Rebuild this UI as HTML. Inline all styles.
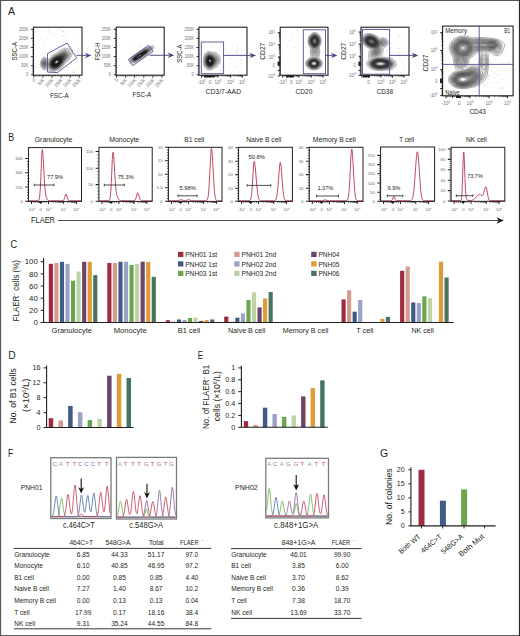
<!DOCTYPE html>
<html><head><meta charset="utf-8"><style>html,body{margin:0;padding:0;background:#fff;overflow:hidden}svg{display:block}</style></head>
<body><svg width="520" height="636" viewBox="0 0 520 636" font-family='"Liberation Sans", sans-serif'>
<defs>
<filter id="b1" x="-50%" y="-50%" width="200%" height="200%"><feGaussianBlur stdDeviation="1.2"/></filter>
<filter id="b2" x="-50%" y="-50%" width="200%" height="200%"><feGaussianBlur stdDeviation="2"/></filter>
<filter id="b05" x="-50%" y="-50%" width="200%" height="200%"><feGaussianBlur stdDeviation="0.6"/></filter>
</defs>
<rect width="520" height="636" fill="#fff"/>
<text x="8.1" y="15.3" font-size="11.5" textLength="7.0" lengthAdjust="spacingAndGlyphs" fill="#231f20" >A</text>
<text x="8.3" y="141.2" font-size="11.5" textLength="5.9" lengthAdjust="spacingAndGlyphs" fill="#231f20" >B</text>
<text x="10.6" y="248" font-size="11.5" textLength="6.7" lengthAdjust="spacingAndGlyphs" fill="#231f20" >C</text>
<text x="8.2" y="359.2" font-size="11.5" textLength="7.4" lengthAdjust="spacingAndGlyphs" fill="#231f20" >D</text>
<text x="197.7" y="359" font-size="11.5" textLength="5.3" lengthAdjust="spacingAndGlyphs" fill="#231f20" >E</text>
<text x="8" y="456.8" font-size="11.5" textLength="5.3" lengthAdjust="spacingAndGlyphs" fill="#231f20" >F</text>
<text x="380.1" y="457.2" font-size="11.5" textLength="8.1" lengthAdjust="spacingAndGlyphs" fill="#231f20" >G</text>
<circle cx="45.7" cy="52.9" r="0.35" fill="#999"/>
<circle cx="51.6" cy="55.6" r="0.35" fill="#999"/>
<circle cx="63.2" cy="31.9" r="0.35" fill="#999"/>
<circle cx="35.6" cy="65.8" r="0.35" fill="#999"/>
<circle cx="46.7" cy="39.3" r="0.35" fill="#999"/>
<circle cx="79.8" cy="49.7" r="0.35" fill="#999"/>
<circle cx="72.6" cy="50.0" r="0.35" fill="#999"/>
<circle cx="63.8" cy="35.6" r="0.35" fill="#999"/>
<circle cx="63.6" cy="67.2" r="0.35" fill="#999"/>
<circle cx="58.5" cy="61.6" r="0.35" fill="#999"/>
<circle cx="65.2" cy="31.8" r="0.35" fill="#999"/>
<circle cx="69.1" cy="55.0" r="0.35" fill="#999"/>
<circle cx="48.6" cy="30.4" r="0.35" fill="#999"/>
<circle cx="73.9" cy="49.8" r="0.35" fill="#999"/>
<circle cx="67.3" cy="67.7" r="0.35" fill="#999"/>
<circle cx="67.1" cy="69.5" r="0.35" fill="#999"/>
<circle cx="52.8" cy="64.2" r="0.35" fill="#999"/>
<circle cx="55.0" cy="70.2" r="0.35" fill="#999"/>
<circle cx="74.5" cy="33.3" r="0.35" fill="#999"/>
<circle cx="41.1" cy="38.5" r="0.35" fill="#999"/>
<circle cx="78.4" cy="48.2" r="0.35" fill="#999"/>
<circle cx="63.2" cy="42.2" r="0.35" fill="#999"/>
<circle cx="57.8" cy="46.0" r="0.35" fill="#999"/>
<circle cx="50.8" cy="54.7" r="0.35" fill="#999"/>
<circle cx="61.3" cy="68.8" r="0.35" fill="#999"/>
<circle cx="65.7" cy="69.9" r="0.35" fill="#999"/>
<circle cx="73.5" cy="72.6" r="0.35" fill="#999"/>
<circle cx="65.2" cy="36.2" r="0.35" fill="#999"/>
<circle cx="73.7" cy="71.4" r="0.35" fill="#999"/>
<circle cx="75.7" cy="54.0" r="0.35" fill="#999"/>
<circle cx="67.1" cy="38.3" r="0.35" fill="#999"/>
<circle cx="72.4" cy="54.2" r="0.35" fill="#999"/>
<circle cx="47.8" cy="31.8" r="0.35" fill="#999"/>
<circle cx="73.4" cy="72.6" r="0.35" fill="#999"/>
<circle cx="39.0" cy="64.2" r="0.35" fill="#999"/>
<circle cx="53.5" cy="35.6" r="0.35" fill="#999"/>
<circle cx="48.2" cy="62.8" r="0.35" fill="#999"/>
<circle cx="74.3" cy="30.9" r="0.35" fill="#999"/>
<circle cx="62.7" cy="31.0" r="0.35" fill="#999"/>
<circle cx="67.3" cy="43.6" r="0.35" fill="#999"/>
<circle cx="74.6" cy="72.1" r="0.35" fill="#999"/>
<circle cx="57.7" cy="72.9" r="0.35" fill="#999"/>
<circle cx="48.9" cy="32.4" r="0.35" fill="#999"/>
<circle cx="62.0" cy="30.4" r="0.35" fill="#999"/>
<circle cx="43.9" cy="46.9" r="0.35" fill="#999"/>
<circle cx="62.5" cy="35.9" r="0.35" fill="#999"/>
<circle cx="36.9" cy="67.2" r="0.35" fill="#999"/>
<circle cx="49.1" cy="71.2" r="0.35" fill="#999"/>
<circle cx="75.3" cy="45.6" r="0.35" fill="#999"/>
<circle cx="55.7" cy="51.9" r="0.35" fill="#999"/>
<circle cx="64.0" cy="55.2" r="0.35" fill="#999"/>
<circle cx="60.2" cy="56.3" r="0.35" fill="#999"/>
<circle cx="77.3" cy="51.3" r="0.35" fill="#999"/>
<circle cx="54.4" cy="60.7" r="0.35" fill="#999"/>
<circle cx="45.7" cy="42.2" r="0.35" fill="#999"/>
<circle cx="79.0" cy="51.9" r="0.35" fill="#999"/>
<circle cx="59.7" cy="29.5" r="0.35" fill="#999"/>
<circle cx="53.7" cy="54.5" r="0.35" fill="#999"/>
<circle cx="35.9" cy="56.1" r="0.35" fill="#999"/>
<circle cx="63.4" cy="31.6" r="0.35" fill="#999"/>
<path d="M53.8 71.5l-1 0.1-0.8-0.1-1-0.2-0.8-0.2-1-0.4-0.7-0.5-0.7-0.7-0.6-0.2-0.4-0.1-1.3 0.5-0.5 0.1-0.5 0-0.5-0.1-0.5-0.1-0.5-0.3-0.8-0.7-0.6-0.8-0.2-0.6-0.3-0.7-0.3-0.7-0.1-0.8-0.1-1.2 0-1.6 0.3-1.2 0.5-1.2 0.5-1 0.6-0.7 0.7-0.5 0.8-0.3 0.8-0.1 0.4 0.1 0.8 0.4 0.5 0.4 1.3 1.3 0.2 0.1 0.2-0.1 0.3-0.1 0.3-0.2 0.9-1.1 0.8-0.8 1.5-1.3 1.2-0.9 2.8-1.8 3.5-2.6 1.3-0.7 1-0.5 1.2-0.5 1-0.3 1.2-0.3 1 0 1.3 0 1 0.3 0.7 0.3 0.8 0.4 0.5 0.4 0.3 0.3 0.4 0.5 0.3 0.5 0.2 0.5 0.2 0.7 0.1 0.8 0 0.5-0.1 1.3-0.2 0.7-0.2 0.7-0.6 1.3-0.4 0.7-0.5 0.8-0.9 1-0.7 0.8-3.2 2.9-3 3.4-0.7 0.7-1 0.9-1 0.7-0.7 0.5-1.6 0.7-0.7 0.3-1 0.3-0.7 0.2-1 0.1z" fill="rgb(248,248,248)" stroke="#222" stroke-width="0.3"/>
<path d="M54.5 70.5l-1 0.1-1 0-1-0.1-1-0.4-0.5-0.2-0.8-0.5-0.4-0.5-0.8-0.8-0.2-0.2-0.3-0.1-0.3 0-0.2 0.1-1.2 0.7-0.6 0.2-0.4 0.1-0.6-0.1-0.4-0.1-0.6-0.2-0.4-0.5-0.7-0.8-0.5-1-0.3-1-0.1-1.2 0-1.2 0.2-1.3 0.2-0.7 0.2-0.6 0.5-0.7 0.5-0.5 0.2-0.3 0.5-0.3 0.7-0.2 0.6 0 0.2 0 0.5 0.2 0.5 0.3 0.5 0.5 1 1.3 0.3 0.3 0.2 0.1 0.2 0 0.3-0.2 0.3-0.3 0.8-1.2 0.9-1 0.8-0.7 0.9-0.8 1.6-1.1 3.1-1.8 3.3-2.4 1.3-0.8 1-0.4 1-0.3 1.3-0.3 1-0.1 1 0.1 0.7 0.1 0.7 0.3 0.8 0.4 0.4 0.4 0.4 0.3 0.2 0.4 0.3 0.5 0.2 0.5 0.1 0.5 0.1 1-0.1 0.8-0.1 0.4-0.4 1.3-0.5 1-0.8 1.3-1.1 1.2-2.2 2.2-0.7 0.7-2.8 3.3-0.8 0.8-1 0.9-1.2 0.9-1.5 0.8-1.5 0.6-0.8 0.2-0.7 0.1z" fill="rgb(238,238,238)" stroke="#222" stroke-width="0.3"/>
<path d="M53.5 70.0l-1 0-0.7-0.2-0.8-0.2-0.8-0.4-0.5-0.4-0.5-0.6-0.4-0.4-0.8-1.3-0.2-0.2-0.3 0.1-0.3 0.1-1.2 1.1-0.5 0.3-0.5 0.2-0.5 0-0.5 0-0.5-0.3-0.5-0.3-0.5-0.7-0.4-0.8-0.3-1-0.2-1.2 0.1-1.3 0.2-1 0.4-1 0.5-0.7 0.4-0.5 0.3-0.1 0.5-0.3 0.2 0 0.6 0 0.4 0.1 0.6 0.3 0.4 0.5 0.6 0.7 0.7 1.4 0.3 0.3 0.2 0.2 0.2-0.1 0.3-0.3 1.1-1.8 0.7-1 0.9-0.9 1-0.9 1-0.8 0.8-0.5 3.3-1.9 2.7-1.8 1.2-0.8 1-0.4 1-0.4 1-0.3 1-0.1 1 0.1 0.8 0.1 0.8 0.3 0.5 0.3 0.3 0.3 0.4 0.5 0.4 0.8 0.2 0.7 0.1 1-0.2 1-0.3 1-0.5 1-0.9 1.3-0.8 1-1.8 1.7-0.7 0.8-2.8 3.5-0.9 0.9-1 0.9-0.8 0.6-0.8 0.4-1.4 0.7-0.8 0.3-1 0.2-0.8 0.2-0.7 0z" fill="rgb(222,222,222)" stroke="#222" stroke-width="0.3"/>
<path d="M54.0 69.5l-1 0-0.8-0.1-0.7-0.2-0.7-0.4-0.8-0.5-0.5-0.5-0.5-0.8-0.3-0.8-0.3-1 0-0.4 0-0.6 0.2-0.7 0.3-1 0.5-1 0.6-1 0.5-0.7 0.6-0.8 0.8-0.8 0.6-0.5 1-0.7 1.3-0.8 3.4-2 2.6-1.6 1.4-0.7 0.8-0.3 0.8-0.2 0.7-0.2 0.7 0 0.8 0.1 0.5 0.1 0.7 0.3 0.5 0.3 0.5 0.5 0.4 0.7 0.2 0.8 0 0.8-0.1 0.7-0.3 1-0.5 1-0.7 1-0.6 0.7-2.4 2.6-2 2.7-0.8 1-0.9 0.9-0.7 0.7-0.8 0.5-0.8 0.5-1.4 0.8-0.8 0.2-0.8 0.2-1.2 0.2z M44.8 67.5l-0.6 0-0.4-0.2-0.6-0.3-0.4-0.5-0.3-0.6-0.3-0.7-0.1-0.7-0.1-0.7 0-0.8 0.1-0.8 0.2-0.7 0.4-0.7 0.3-0.6 0.5-0.4 0.5-0.2 0.5-0.1 0.5 0.1 0.5 0.2 0.5 0.4 0.4 0.6 0.4 0.7 0.3 1 0.2 0.7 0.1 0.8 0 0.5-0.3 0.7-0.2 0.6-0.3 0.4-0.5 0.6-0.3 0.3-0.6 0.3-0.4 0.1z" fill="rgb(200,200,200)" stroke="#222" stroke-width="0.3"/>
<path d="M54.5 69.0l-0.7 0.1-0.8-0.1-0.8-0.1-0.7-0.3-0.7-0.4-0.6-0.4-0.4-0.6-0.4-0.7-0.3-0.7-0.1-0.8 0-0.8 0.1-0.7 0.3-1 0.3-0.7 0.4-0.8 0.7-1 0.6-0.8 0.8-0.8 0.8-0.6 1-0.7 1.2-0.8 3.1-1.5 2.7-1.6 1-0.5 0.8-0.3 0.7-0.2 0.7-0.2 0.6 0 0.7 0 0.5 0.1 0.5 0.2 0.5 0.4 0.5 0.5 0.3 0.6 0.1 0.4 0.1 0.8-0.2 0.8-0.2 0.7-0.5 1-0.5 0.7-2.6 3.2-2.5 3.4-0.7 0.8-0.8 0.8-1.2 1-1.3 0.7-0.7 0.3-0.8 0.3-0.8 0.2-0.7 0.1z M45.0 66.8l-0.5 0.1-0.5-0.1-0.4-0.3-0.3-0.3-0.3-0.4-0.3-0.6-0.1-0.4-0.2-0.8 0-0.8 0.1-0.7 0.2-0.7 0.3-0.6 0.3-0.4 0.5-0.4 0.2-0.2 0.5 0 0.5 0 0.2 0.2 0.5 0.4 0.3 0.3 0.2 0.5 0.3 0.6 0.2 0.6 0.1 0.7-0.1 0.5 0 0.5-0.1 0.5-0.3 0.5-0.3 0.5-0.2 0.3-0.3 0.2-0.5 0.3z" fill="rgb(170,170,170)" stroke="#222" stroke-width="0.3"/>
<path d="M54.8 68.5l-0.8 0.1-0.8-0.1-0.7-0.1-0.7-0.3-0.7-0.3-0.5-0.6-0.4-0.4-0.3-0.6-0.2-0.4-0.1-0.8 0-0.8 0-0.7 0.2-0.7 0.3-0.8 0.5-1 0.5-0.8 0.6-0.7 0.8-0.8 0.7-0.6 1-0.7 1.8-1 3-1.4 2.8-1.4 1.2-0.4 0.8-0.2 0.4-0.1 0.6 0.1 0.4 0 0.6 0.2 0.2 0.2 0.2 0.2 0.4 0.4 0.2 0.3 0.1 0.5 0 0.4-0.1 0.6-0.1 0.4-0.2 0.6-0.2 0.4-0.5 0.8-2 2.8-2.2 3.2-0.8 1-0.7 0.8-0.9 0.7-0.7 0.5-1 0.6-1 0.5-1 0.3-0.7 0.1z M45.0 65.8l-0.2 0.1-0.3 0.1-0.3-0.1-0.2-0.1-0.2-0.2-0.3-0.3-0.3-0.4-0.1-0.4-0.1-0.6 0-0.9 0.1-0.5 0.2-0.5 0.2-0.3 0.3-0.3 0.2-0.2 0.2-0.1 0.3 0 0.3 0 0.2 0.1 0.2 0.2 0.3 0.2 0.3 0.4 0.1 0.5 0.2 0.7 0 0.8-0.2 0.8-0.1 0.3-0.3 0.3-0.3 0.3-0.2 0.1z" fill="rgb(130,130,130)" stroke="#222" stroke-width="0.3"/>
<path d="M55.5 68.0l-0.7 0.1-0.8 0.1-0.8-0.1-0.7-0.2-0.7-0.3-0.6-0.3-0.4-0.5-0.4-0.6-0.2-0.4-0.2-0.8 0-0.8 0.1-0.7 0.1-0.7 0.3-0.8 0.4-0.8 0.5-0.7 0.8-1.1 0.6-0.4 0.7-0.7 1.5-1 1.5-0.7 4.5-1.9 1.5-0.5 0.7-0.2 0.8-0.1 0.5 0.1 0.5 0.2 0.3 0.3 0.2 0.2 0.2 0.5 0.1 0.8-0.2 0.8-0.4 0.7-0.4 0.7-3.1 5-0.7 1-0.7 0.8-0.7 0.8-0.8 0.6-0.8 0.6-0.8 0.4-0.7 0.3-1 0.3z M44.5 64.3l-0.3-0.2 0-0.1-0.1-0.5 0.1-0.5 0-0.1 0.3-0.1 0.3 0.1 0.1 0.1 0.1 0.2 0 0.3 0 0.3-0.1 0.2-0.1 0.2-0.3 0.1z" fill="rgb(90,90,90)" stroke="#222" stroke-width="0.3"/>
<path d="M55.0 67.5l-0.8 0.1-0.4 0-0.8-0.2-0.5-0.2-0.5-0.2-0.5-0.5-0.3-0.3-0.3-0.4-0.1-0.6-0.2-0.4 0-0.6 0.1-0.7 0.1-0.7 0.3-0.8 0.2-0.5 0.5-0.7 0.8-1 1.2-1.1 1.2-0.8 1.8-0.9 2-0.7 1-0.3 1-0.2 0.7-0.1 0.5 0 0.5 0.1 0.4 0.2 0.3 0.2 0.2 0.3 0.2 0.5 0 0.5-0.1 0.7-0.3 1-0.6 1.3-0.8 1.5-0.7 1.2-0.8 1-0.5 0.7-0.8 0.7-0.8 0.6-0.7 0.5-0.7 0.3-1 0.4-0.8 0.1z" fill="rgb(60,60,60)" stroke="#222" stroke-width="0.3"/>
<path d="M55.8 66.8l-0.8 0.1-0.5 0.1-0.5-0.1-0.5 0-0.5-0.2-0.5-0.3-0.5-0.4-0.2-0.3-0.3-0.5-0.1-0.4-0.1-0.6 0-0.4 0-0.6 0.2-0.7 0.3-0.7 0.3-0.6 0.8-1 0.5-0.4 0.5-0.6 0.6-0.4 0.7-0.4 1.3-0.7 1.5-0.5 0.8-0.2 0.7-0.1 0.7-0.1 0.6 0.1 0.3 0.1 0.4 0.2 0.3 0.3 0.3 0.5 0.1 0.5 0 0.5-0.1 0.8-0.2 0.7-0.5 1-0.5 1-0.5 0.7-0.5 0.8-0.7 0.7-0.6 0.5-0.6 0.5-0.8 0.5-0.7 0.4-0.7 0.2z" fill="rgb(40,40,40)" stroke="#222" stroke-width="0.3"/>
<path d="M55.2 66.3l-0.4 0-0.6 0-0.7-0.2-0.5-0.3-0.2-0.2-0.3-0.2-0.2-0.4-0.3-0.8 0-0.4 0-0.6 0.1-0.4 0.2-0.6 0.5-0.9 0.6-0.8 0.8-0.8 1-0.7 1.3-0.7 1.3-0.4 1-0.2 0.4 0 0.6 0.1 0.4 0.1 0.3 0.1 0.3 0.2 0.3 0.6 0.1 0.4 0 0.6-0.1 0.7-0.2 0.7-0.4 0.8-0.4 0.8-0.5 0.7-0.5 0.5-0.4 0.5-0.7 0.6-0.6 0.4-0.6 0.3-0.8 0.3-0.8 0.2z" fill="rgb(30,30,30)" stroke="#222" stroke-width="0.3"/>
<path d="M55.8 65.5l-0.8 0.1-0.8 0-0.2-0.1-0.5-0.3-0.3-0.2-0.2-0.2-0.1-0.3-0.2-0.5 0-0.8 0.1-0.7 0.4-0.7 0.5-0.8 0.7-0.8 0.8-0.6 1-0.5 1-0.4 1-0.2 0.8 0 0.5 0.1 0.3 0.1 0.3 0.3 0.1 0.3 0.2 0.5 0 0.4-0.1 0.6-0.1 0.4-0.2 0.6-0.4 0.7-0.4 0.5-0.4 0.6-1 0.9-0.6 0.4-0.4 0.3-1 0.3z" fill="rgb(25,25,25)" stroke="#222" stroke-width="0.3"/>
<path d="M56.0 64.8l-0.8 0.1-0.4 0-0.6-0.2-0.2-0.2-0.2-0.3-0.3-0.4 0-0.3 0-0.5 0.1-0.5 0.3-0.7 0.6-0.8 0.5-0.5 0.7-0.5 0.5-0.3 0.8-0.3 0.8-0.2 0.7 0 0.5 0.2 0.2 0.2 0.2 0.2 0.1 0.2 0.1 0.5-0.1 0.7-0.2 0.6-0.2 0.4-0.6 0.9-0.7 0.7-0.6 0.4-0.4 0.3-0.8 0.3z" fill="rgb(25,25,25)" stroke="#222" stroke-width="0.3"/>
<path d="M56.2 64.1l-0.4 0.1-0.6 0-0.4-0.2-0.3-0.2-0.2-0.3-0.1-0.5 0.1-0.5 0.2-0.5 0.3-0.5 0.4-0.5 0.6-0.4 0.5-0.4 0.5-0.2 0.7-0.2 0.5 0 0.5 0.2 0.3 0.2 0.1 0.3 0 0.3 0 0.2-0.1 0.5-0.3 0.7-0.5 0.7-0.5 0.4-0.6 0.5-0.7 0.3z" fill="rgb(30,30,30)" stroke="#222" stroke-width="0.3"/>
<path d="M56.5 63.3l-0.5 0.1-0.2 0-0.3-0.1-0.3-0.2-0.1-0.3 0-0.3 0.1-0.5 0.1-0.2 0.2-0.3 0.5-0.5 0.8-0.4 0.2-0.1 0.5-0.1 0.3 0 0.2 0.1 0.2 0.3 0.1 0.2 0 0.5-0.3 0.5-0.2 0.4-0.4 0.4-0.4 0.2-0.5 0.3z" fill="rgb(190,190,190)" stroke="#222" stroke-width="0.3"/>
<path d="M47.5 53.6 L67 43 L76.6 57.8 L57.5 72.6 L47.5 72.1 Z" stroke="#5a4d96" stroke-width="0.9" fill="none" />
<rect x="33.5" y="27.2" width="48.5" height="48.0" fill="none" stroke="#231f20" stroke-width="1.1" />
<text x="28.3" y="76.39999999999999" font-size="4.6" text-anchor="end" textLength="2.2" lengthAdjust="spacingAndGlyphs" fill="#6f6f6f" >0</text>
<text x="28.3" y="67.3" font-size="4.6" text-anchor="end" textLength="7.04" lengthAdjust="spacingAndGlyphs" fill="#6f6f6f" >50K</text>
<text x="28.3" y="58.2" font-size="4.6" text-anchor="end" textLength="9.24" lengthAdjust="spacingAndGlyphs" fill="#6f6f6f" >100K</text>
<text x="28.3" y="49.1" font-size="4.6" text-anchor="end" textLength="9.24" lengthAdjust="spacingAndGlyphs" fill="#6f6f6f" >150K</text>
<text x="28.3" y="40.0" font-size="4.6" text-anchor="end" textLength="9.24" lengthAdjust="spacingAndGlyphs" fill="#6f6f6f" >200K</text>
<text x="28.3" y="30.900000000000002" font-size="4.6" text-anchor="end" textLength="9.24" lengthAdjust="spacingAndGlyphs" fill="#6f6f6f" >250K</text>
<text x="35.8" y="80.4" font-size="5" text-anchor="end" fill="#6a6a6a" transform="rotate(-45 35.8 80.4)" textLength="2.39" lengthAdjust="spacingAndGlyphs">0</text>
<text x="44.9" y="80.4" font-size="5" text-anchor="end" fill="#6a6a6a" transform="rotate(-45 44.9 80.4)" textLength="7.65" lengthAdjust="spacingAndGlyphs">50K</text>
<text x="54.0" y="80.4" font-size="5" text-anchor="end" fill="#6a6a6a" transform="rotate(-45 54.0 80.4)" textLength="10.04" lengthAdjust="spacingAndGlyphs">100K</text>
<text x="63.1" y="80.4" font-size="5" text-anchor="end" fill="#6a6a6a" transform="rotate(-45 63.1 80.4)" textLength="10.04" lengthAdjust="spacingAndGlyphs">150K</text>
<text x="72.2" y="80.4" font-size="5" text-anchor="end" fill="#6a6a6a" transform="rotate(-45 72.2 80.4)" textLength="10.04" lengthAdjust="spacingAndGlyphs">200K</text>
<text x="81.3" y="80.4" font-size="5" text-anchor="end" fill="#6a6a6a" transform="rotate(-45 81.3 80.4)" textLength="10.04" lengthAdjust="spacingAndGlyphs">250K</text>
<text x="17.3" y="51.2" font-size="7.8" text-anchor="middle" fill="#231f20" transform="rotate(-90 17.3 51.2)" textLength="18.5" lengthAdjust="spacingAndGlyphs">SSC-A</text>
<text x="59.3" y="97.6" font-size="7.8" text-anchor="middle" textLength="18.8" lengthAdjust="spacingAndGlyphs" fill="#231f20" >FSC-A</text>
<path d="M91.4 55.4 L85.0 52.699999999999996 L86.80000000000001 55.4 L85.0 58.1 Z" fill="#4b3c82"/>
<circle cx="148.8" cy="49.3" r="0.35" fill="#999"/>
<circle cx="150.4" cy="47.1" r="0.35" fill="#999"/>
<circle cx="151.2" cy="54.8" r="0.35" fill="#999"/>
<circle cx="130.7" cy="41.2" r="0.35" fill="#999"/>
<circle cx="150.3" cy="59.3" r="0.35" fill="#999"/>
<circle cx="137.5" cy="49.1" r="0.35" fill="#999"/>
<circle cx="147.8" cy="46.4" r="0.35" fill="#999"/>
<circle cx="140.9" cy="46.3" r="0.35" fill="#999"/>
<circle cx="141.1" cy="51.9" r="0.35" fill="#999"/>
<circle cx="139.0" cy="47.5" r="0.35" fill="#999"/>
<circle cx="153.2" cy="40.5" r="0.35" fill="#999"/>
<circle cx="147.1" cy="54.7" r="0.35" fill="#999"/>
<path d="M133.2 63.0l-0.7 0.1-0.7 0-0.6 0-0.7-0.3-0.5-0.3-0.2-0.3-0.3-0.4-0.1-0.6 0-0.4 0.2-0.8 0.4-0.8 0.4-0.7 1.1-1.3 0.5-0.5 1-0.8 1.8-1.3 4.4-3 3.6-2.2 1.2-0.7 0.8-0.4 1-0.4 4.2-1.5 1.2-0.4 0.8-0.1 0.8 0 0.4 0.1 0.3 0.2 0.3 0.2 0.2 0.4 0 0.2 0 0.5-0.3 0.7-0.5 0.8-0.6 0.8-0.6 0.5-3.2 3.2-1 0.8-1 0.8-4 2.8-5 3.3-1.3 0.7-1.3 0.5-1.2 0.4-0.8 0.2z" fill="rgb(248,248,248)" stroke="#222" stroke-width="0.3"/>
<path d="M133.8 62.3l-0.8 0.1-0.8 0-0.4-0.1-0.6-0.1-0.4-0.4-0.3-0.3-0.1-0.3-0.1-0.4 0.1-0.6 0.2-0.7 0.6-1 0.3-0.5 0.7-0.8 1.3-1.1 1-0.7 4.5-3.1 4-2.5 1.8-0.9 1.2-0.5 4.5-1.6 0.7-0.1 0.8 0 0.5 0.1 0.3 0.2 0.1 0.2 0.1 0.3-0.1 0.5-0.3 0.8-0.4 0.4-1 1.1-3 2.9-1 0.9-1 0.7-4 2.8-4.4 3-1 0.6-1 0.5-1.3 0.4-0.7 0.2z" fill="rgb(238,238,238)" stroke="#222" stroke-width="0.3"/>
<path d="M134.2 61.8l-0.4 0.1-0.8 0-0.5 0-0.5-0.1-0.5-0.3-0.3-0.3-0.1-0.2-0.1-0.5 0-0.5 0.1-0.5 0.3-0.5 0.3-0.5 0.8-1 1.3-1.1 1-0.8 4.4-3 3.6-2.2 1.7-1 1.3-0.5 3.7-1.3 0.7-0.2 0.6-0.1 0.4 0 0.6 0.1 0.2 0.2 0.1 0.2 0.1 0.2-0.1 0.2-0.1 0.6-0.6 0.7-0.7 0.7-2.5 2.6-1.2 1-1 0.8-4 2.8-4.2 2.8-0.8 0.4-1 0.5-1 0.4-0.8 0.3z" fill="rgb(222,222,222)" stroke="#222" stroke-width="0.3"/>
<path d="M133.5 61.5l-0.5 0-0.5-0.1-0.4-0.2-0.3-0.2-0.2-0.2-0.1-0.3 0-0.3 0-0.4 0.3-0.8 0.3-0.5 0.4-0.5 0.7-0.8 1-0.9 4.8-3.2 4-2.5 1.2-0.7 1-0.5 0.8-0.3 3.8-1.1 0.4-0.1 0.6 0 0.2 0 0.2 0.2 0.2 0.1 0 0.3-0.1 0.3-0.2 0.4-0.4 0.6-3 3-0.7 0.6-0.8 0.6-4.7 3.4-4.3 2.7-1 0.6-1 0.4-1 0.3-0.7 0.1z" fill="rgb(200,200,200)" stroke="#222" stroke-width="0.3"/>
<path d="M134.5 61.0l-0.5 0.1-0.5 0-0.5 0-0.2-0.1-0.3-0.1-0.3-0.2-0.2-0.5 0-0.2 0-0.2 0.1-0.6 0.2-0.4 0.4-0.6 0.6-0.7 0.9-0.8 1-0.8 3.8-2.5 4-2.5 1.2-0.7 0.8-0.4 1-0.3 3.2-1 0.8-0.1 0.3 0.1 0.2 0.2 0 0.3-0.1 0.2-0.5 0.8-2.3 2.5-0.8 0.7-0.8 0.7-4.2 3-4.3 2.8-0.7 0.4-1 0.5-0.8 0.3-0.5 0.1z" fill="rgb(170,170,170)" stroke="#222" stroke-width="0.3"/>
<path d="M134.0 60.8l-0.8-0.1-0.3-0.2-0.3-0.3-0.1-0.2 0-0.5 0.1-0.5 0.1-0.2 0.6-0.8 0.7-0.8 0.8-0.6 4.7-3.2 3.7-2.4 1-0.5 1-0.5 1.3-0.4 2-0.4 0.5 0 0.2 0.1 0.2 0.2 0 0.3-0.3 0.4-0.4 0.6-1.5 1.7-0.8 0.7-0.9 0.7-3.7 2.7-4.6 3-1 0.5-0.7 0.3-0.7 0.3-0.8 0.1z" fill="rgb(130,130,130)" stroke="#222" stroke-width="0.3"/>
<path d="M135.0 60.3l-0.8 0.1-0.4 0-0.3-0.1-0.3-0.1-0.1-0.2-0.1-0.2-0.1-0.3 0.1-0.5 0.4-0.8 0.7-0.7 0.7-0.6 1-0.7 3.7-2.6 4.5-2.7 1.2-0.6 1-0.3 0.8-0.1 0.5 0 0.3 0 0.3 0.1 0.2 0.2-0.1 0.3-0.3 0.5-0.3 0.5-0.8 1-1.2 1-4.4 3.2-3.7 2.4-1.3 0.7-0.7 0.3-0.5 0.2z" fill="rgb(90,90,90)" stroke="#222" stroke-width="0.3"/>
<path d="M134.5 60.0l-0.5 0-0.3-0.2-0.2-0.3 0-0.3 0-0.2 0.2-0.5 0.3-0.5 0.8-0.7 0.7-0.6 4-2.7 3.7-2.3 1-0.6 1-0.4 1-0.2 0.7 0 0.1 0 0.2 0.3 0.1 0.2-0.2 0.5-0.4 0.5-0.7 0.8-0.9 0.7-3.1 2.3-1.2 0.9-4 2.6-0.8 0.3-0.5 0.2-0.5 0.2-0.5 0z" fill="rgb(60,60,60)" stroke="#222" stroke-width="0.3"/>
<path d="M135.5 59.5l-0.7 0.2-0.6-0.1-0.2-0.3-0.1-0.3 0.2-0.5 0.3-0.5 0.5-0.5 0.6-0.5 4.3-2.9 4.2-2.5 0.8-0.4 0.7-0.2 0.5-0.1 0.2 0.1 0.3 0.2 0 0.3-0.1 0.3-0.3 0.4-0.5 0.6-0.9 0.7-3 2.3-1.2 0.8-3.5 2.2-0.8 0.4-0.7 0.3z" fill="rgb(40,40,40)" stroke="#222" stroke-width="0.3"/>
<path d="M135.5 59.3l-0.5 0-0.4-0.1-0.2-0.2 0-0.2 0-0.3 0.3-0.5 0.5-0.5 0.6-0.5 4-2.8 3.9-2.2 0.5-0.3 0.8-0.2 0.5-0.1 0.3 0.1 0 0.3 0 0.2-0.2 0.2-0.4 0.6-0.6 0.4-2.9 2.3-1.1 0.7-3.6 2.4-0.8 0.4-0.7 0.3z" fill="rgb(30,30,30)" stroke="#222" stroke-width="0.3"/>
<path d="M135.2 59.0l-0.2 0-0.2-0.2 0-0.3 0.1-0.3 0.4-0.4 0.8-0.8 3.3-2.2 1.2-0.8 3.4-1.8 0.5-0.2 0.3-0.1 0.2 0.1 0.1 0 0 0.2-0.1 0.3-0.5 0.5-3.5 2.8-4.2 2.7-0.8 0.4-0.5 0.1-0.3 0z" fill="rgb(25,25,25)" stroke="#222" stroke-width="0.3"/>
<path d="M136.2 58.5l-0.4 0.1-0.3 0-0.3-0.1 0.1-0.3 0.1-0.2 0.2-0.2 0.6-0.6 1.6-1 1.6-1.2 1.1-0.7 2.7-1.3 0.3-0.1 0.3 0.1-0.3 0.2-1 1-1.4 1.3-0.7 0.5-1.9 1.1-1.3 0.9-1 0.5z" fill="rgb(25,25,25)" stroke="#222" stroke-width="0.3"/>
<path d="M136.0 58.3l-0.2-0.1 0-0.2 0.1-0.2 0.3-0.3 1.6-1.1 1.5-1.2 0.7-0.4 1-0.6 0.8-0.2 0.2 0 0.1 0-0.1 0.2-0.4 0.6-0.5 0.4-0.7 0.6-1.9 1.1-1.7 1.1-0.6 0.2-0.2 0.1z" fill="rgb(30,30,30)" stroke="#222" stroke-width="0.3"/>
<path d="M136.5 57.8l-0.1 0 0.1-0.1 0.3 0.1-0.2-0.3 1.6-1.2 1-0.8 0.7-0.5 0.4-0.2 0.7-0.3 0.2-0.1 0.2 0.1-0.1 0.3-0.2 0.2-0.6 0.5-0.3 0.3-0.9 0.4-1.3 0.7-1.2 0.9-0.3 0z" fill="rgb(190,190,190)" stroke="#222" stroke-width="0.3"/>
<path d="M128.4 59.4 L148.5 45.3 L153 51.5 L132.6 65.7 Z" stroke="#5a4d96" stroke-width="0.9" fill="none" />
<rect x="116.2" y="27.2" width="47.999999999999986" height="48.0" fill="none" stroke="#231f20" stroke-width="1.1" />
<text x="111.0" y="76.39999999999999" font-size="4.6" text-anchor="end" textLength="2.2" lengthAdjust="spacingAndGlyphs" fill="#6f6f6f" >0</text>
<text x="111.0" y="67.3" font-size="4.6" text-anchor="end" textLength="7.04" lengthAdjust="spacingAndGlyphs" fill="#6f6f6f" >50K</text>
<text x="111.0" y="58.2" font-size="4.6" text-anchor="end" textLength="9.24" lengthAdjust="spacingAndGlyphs" fill="#6f6f6f" >100K</text>
<text x="111.0" y="49.1" font-size="4.6" text-anchor="end" textLength="9.24" lengthAdjust="spacingAndGlyphs" fill="#6f6f6f" >150K</text>
<text x="111.0" y="40.0" font-size="4.6" text-anchor="end" textLength="9.24" lengthAdjust="spacingAndGlyphs" fill="#6f6f6f" >200K</text>
<text x="111.0" y="30.900000000000002" font-size="4.6" text-anchor="end" textLength="9.24" lengthAdjust="spacingAndGlyphs" fill="#6f6f6f" >250K</text>
<text x="118.5" y="80.4" font-size="5" text-anchor="end" fill="#6a6a6a" transform="rotate(-45 118.5 80.4)" textLength="2.39" lengthAdjust="spacingAndGlyphs">0</text>
<text x="127.6" y="80.4" font-size="5" text-anchor="end" fill="#6a6a6a" transform="rotate(-45 127.6 80.4)" textLength="7.65" lengthAdjust="spacingAndGlyphs">50K</text>
<text x="136.7" y="80.4" font-size="5" text-anchor="end" fill="#6a6a6a" transform="rotate(-45 136.7 80.4)" textLength="10.04" lengthAdjust="spacingAndGlyphs">100K</text>
<text x="145.8" y="80.4" font-size="5" text-anchor="end" fill="#6a6a6a" transform="rotate(-45 145.8 80.4)" textLength="10.04" lengthAdjust="spacingAndGlyphs">150K</text>
<text x="154.9" y="80.4" font-size="5" text-anchor="end" fill="#6a6a6a" transform="rotate(-45 154.9 80.4)" textLength="10.04" lengthAdjust="spacingAndGlyphs">200K</text>
<text x="164.0" y="80.4" font-size="5" text-anchor="end" fill="#6a6a6a" transform="rotate(-45 164.0 80.4)" textLength="10.04" lengthAdjust="spacingAndGlyphs">250K</text>
<text x="99.8" y="51.5" font-size="7.8" text-anchor="middle" fill="#231f20" transform="rotate(-90 99.8 51.5)" textLength="18.2" lengthAdjust="spacingAndGlyphs">FSC-H</text>
<text x="141.9" y="97.2" font-size="7.8" text-anchor="middle" textLength="18.8" lengthAdjust="spacingAndGlyphs" fill="#231f20" >FSC-A</text>
<path d="M174.2 55.3 L167.79999999999998 52.599999999999994 L169.6 55.3 L167.79999999999998 58.0 Z" fill="#4b3c82"/>
<circle cx="216.0" cy="50.2" r="0.35" fill="#999"/>
<circle cx="236.8" cy="50.7" r="0.35" fill="#999"/>
<circle cx="210.9" cy="56.2" r="0.35" fill="#999"/>
<circle cx="232.3" cy="46.9" r="0.35" fill="#999"/>
<circle cx="216.5" cy="53.3" r="0.35" fill="#999"/>
<circle cx="238.0" cy="56.3" r="0.35" fill="#999"/>
<circle cx="238.9" cy="48.7" r="0.35" fill="#999"/>
<circle cx="217.1" cy="62.2" r="0.35" fill="#999"/>
<circle cx="240.2" cy="56.6" r="0.35" fill="#999"/>
<circle cx="212.5" cy="47.4" r="0.35" fill="#999"/>
<circle cx="225.2" cy="49.3" r="0.35" fill="#999"/>
<circle cx="236.9" cy="67.5" r="0.35" fill="#999"/>
<circle cx="210.7" cy="51.8" r="0.35" fill="#999"/>
<circle cx="236.9" cy="62.0" r="0.35" fill="#999"/>
<circle cx="236.9" cy="53.7" r="0.35" fill="#999"/>
<circle cx="208.4" cy="52.2" r="0.35" fill="#999"/>
<circle cx="236.3" cy="51.6" r="0.35" fill="#999"/>
<circle cx="217.5" cy="55.7" r="0.35" fill="#999"/>
<circle cx="220.6" cy="55.5" r="0.35" fill="#999"/>
<circle cx="241.7" cy="48.4" r="0.35" fill="#999"/>
<circle cx="203.2" cy="70.4" r="0.35" fill="#999"/>
<circle cx="240.0" cy="71.6" r="0.35" fill="#999"/>
<circle cx="221.2" cy="70.6" r="0.35" fill="#999"/>
<circle cx="241.9" cy="50.2" r="0.35" fill="#999"/>
<circle cx="234.3" cy="67.4" r="0.35" fill="#999"/>
<circle cx="230.8" cy="58.5" r="0.35" fill="#999"/>
<circle cx="215.1" cy="53.5" r="0.35" fill="#999"/>
<circle cx="212.6" cy="45.9" r="0.35" fill="#999"/>
<circle cx="227.7" cy="52.0" r="0.35" fill="#999"/>
<circle cx="237.0" cy="45.3" r="0.35" fill="#999"/>
<circle cx="241.0" cy="63.4" r="0.35" fill="#999"/>
<circle cx="241.8" cy="69.1" r="0.35" fill="#999"/>
<circle cx="240.8" cy="60.2" r="0.35" fill="#999"/>
<circle cx="203.6" cy="64.9" r="0.35" fill="#999"/>
<circle cx="210.2" cy="52.4" r="0.35" fill="#999"/>
<circle cx="230.8" cy="58.7" r="0.35" fill="#999"/>
<circle cx="220.4" cy="70.3" r="0.35" fill="#999"/>
<circle cx="228.7" cy="53.6" r="0.35" fill="#999"/>
<circle cx="213.6" cy="68.1" r="0.35" fill="#999"/>
<circle cx="223.0" cy="65.9" r="0.35" fill="#999"/>
<path d="M210.8 70.0l-0.6 0.1-0.7 0.1-0.7-0.1-0.6-0.1-0.4-0.2-0.8-0.4-0.5-0.3-0.5-0.4-0.9-0.9-0.5-0.8-0.2-0.5-0.6-1.3-0.2-0.7-0.2-1-0.1-1.5 0.1-1.8 0.3-2.7 0.1-1 0.2-0.7 0.2-0.8 0.2-0.5 0.4-0.7 0.4-0.6 0.6-0.5 0.4-0.4 0.6-0.3 0.4-0.2 0.8-0.2 0.5 0 0.7 0 2.6 0.4 2.4 0.1 1.3 0.3 1 0.4 0.7 0.5 0.8 0.7 0.5 0.5 0.6 0.7 0.5 1 0.3 0.8 0.3 0.8 0.2 1 0 0.7 0 1 0 0.7-0.2 1-0.4 1-0.3 0.8-0.4 0.8-0.6 0.7-0.5 0.5-0.5 0.5-1 0.7-2.1 1-2.2 1.2-1 0.5-0.4 0.1z" fill="rgb(248,248,248)" stroke="#222" stroke-width="0.3"/>
<path d="M209.8 69.3l-1-0.1-0.6-0.1-0.4-0.2-0.6-0.3-0.4-0.3-0.9-0.8-0.7-1-0.3-0.5-0.3-0.8-0.4-1.2-0.2-1.2 0-1 0-1 0.3-3 0.3-1.6 0.3-1 0.2-0.4 0.4-0.7 0.3-0.3 0.6-0.6 0.6-0.4 0.5-0.2 1-0.2 1 0.1 2.5 0.5 2.5 0.3 1 0.3 1 0.6 0.7 0.6 0.5 0.4 0.4 0.6 0.5 0.7 0.3 0.7 0.3 0.8 0.1 0.8 0.1 0.7 0 0.7 0 0.8-0.2 0.8-0.2 0.7-0.3 0.7-0.3 0.6-0.5 0.7-0.4 0.5-0.5 0.5-0.8 0.5-3.7 2.4-1 0.5-0.5 0.1-0.5 0.2-0.7 0.1z" fill="rgb(238,238,238)" stroke="#222" stroke-width="0.3"/>
<path d="M210.5 68.5l-0.5 0.1-0.5 0-0.5 0-0.5-0.1-0.5-0.2-0.5-0.2-0.7-0.6-0.8-0.7-0.6-1-0.5-1.3-0.3-1.3-0.1-1.4 0.1-1.8 0.2-2.5 0.3-1 0.1-0.5 0.2-0.5 0.4-0.6 0.2-0.4 0.5-0.5 0.3-0.2 0.4-0.3 0.6-0.2 0.4-0.2 0.8 0 0.8 0.1 2.4 0.7 2.3 0.4 0.5 0.1 0.8 0.4 0.4 0.3 0.6 0.4 0.4 0.5 0.4 0.5 0.3 0.5 0.3 0.8 0.2 0.4 0.1 0.8 0.1 0.8 0 0.7-0.2 1.3-0.3 0.7-0.2 0.5-0.7 1-0.4 0.5-0.8 0.7-3.2 2.3-1.3 0.7-1 0.3z" fill="rgb(222,222,222)" stroke="#222" stroke-width="0.3"/>
<path d="M210.2 68.0l-0.4 0.1-0.6 0-0.7-0.2-0.5-0.2-0.5-0.2-0.7-0.7-0.7-0.8-0.6-1-0.3-1-0.3-1.2 0-1.6 0.2-2.2 0.2-1.8 0.3-1 0.2-0.4 0.3-0.6 0.7-0.7 0.3-0.3 0.4-0.2 0.5-0.2 0.5-0.1 0.7 0 1 0.2 2 0.7 2.3 0.5 0.5 0.2 0.5 0.3 0.5 0.3 0.4 0.3 0.6 0.9 0.5 0.9 0.1 0.5 0.2 0.7 0 0.6 0 0.7-0.1 0.7-0.1 0.6-0.5 1-0.3 0.4-0.4 0.6-1 1-1.9 1.4-1 0.8-1 0.6-0.7 0.3-0.6 0.1z" fill="rgb(200,200,200)" stroke="#222" stroke-width="0.3"/>
<path d="M210.5 67.5l-0.5 0.1-0.5 0-0.7-0.1-0.8-0.3-0.8-0.5-0.7-0.7-0.4-0.8-0.5-1-0.3-1.2-0.1-1.5 0.1-1.7 0.3-1.8 0.3-1.2 0.2-0.6 0.3-0.4 0.4-0.5 0.2-0.3 0.3-0.2 0.5-0.3 0.7-0.2 0.7-0.1 1 0.2 2.3 0.8 1.7 0.6 0.8 0.4 0.8 0.6 0.6 0.7 0.4 0.7 0.2 1 0.1 1-0.2 1-0.3 1-0.7 1-0.7 0.8-0.7 0.8-1.1 1-0.6 0.5-0.8 0.6-0.5 0.2-0.5 0.3-0.5 0.1z" fill="rgb(170,170,170)" stroke="#222" stroke-width="0.3"/>
<path d="M210.5 67.0l-0.7 0.1-0.8 0-0.8-0.3-0.4-0.3-0.4-0.3-0.6-0.7-0.5-0.7-0.4-1-0.2-1-0.1-1.3 0.1-1.5 0.2-1.5 0.3-1.3 0.5-1 0.5-0.6 0.3-0.2 0.5-0.3 0.8-0.2 0.4-0.1 0.6 0.1 1 0.2 1.3 0.7 2.1 1.1 0.8 0.6 0.5 0.5 0.4 0.8 0.2 0.7 0 0.5 0 0.5-0.2 1-0.5 1-0.8 1.3-1.1 1.2-1 0.9-1 0.7-0.5 0.3-0.5 0.1z" fill="rgb(130,130,130)" stroke="#222" stroke-width="0.3"/>
<path d="M210.5 66.6l-0.7 0.1-0.8-0.1-0.8-0.3-0.4-0.3-0.6-0.5-0.5-0.7-0.4-1-0.3-1-0.1-1.3 0.1-1.5 0.3-1.5 0.3-1 0.4-0.8 0.5-0.6 0.3-0.2 0.4-0.3 0.8-0.2 0.8 0 0.4 0.1 0.6 0.2 1 0.5 1.2 0.8 0.7 0.5 0.6 0.7 0.5 0.8 0.1 0.5 0.1 0.5 0 0.8-0.1 1-0.4 1-0.6 1-0.7 1-1 0.8-0.7 0.5-0.5 0.3-0.5 0.2z" fill="rgb(90,90,90)" stroke="#222" stroke-width="0.3"/>
<path d="M210.2 66.1l-0.7 0-0.5-0.1-0.8-0.3-0.5-0.5-0.6-0.7-0.3-0.7-0.3-0.8-0.1-1 0-1.2 0.1-1.3 0.2-1 0.3-0.7 0.5-0.7 0.5-0.5 0.8-0.4 0.7-0.1 0.7 0 0.8 0.3 0.9 0.6 0.8 0.8 0.5 0.4 0.4 0.8 0.3 0.8 0.2 1 0 0.7-0.2 1-0.4 0.7-0.4 0.8-0.6 0.8-0.7 0.6-0.8 0.4-0.8 0.3z" fill="rgb(60,60,60)" stroke="#222" stroke-width="0.3"/>
<path d="M210.0 65.5l-0.8 0-0.4-0.2-0.6-0.3-0.4-0.5-0.4-0.5-0.3-0.8-0.2-0.7-0.1-1 0-1 0.1-1 0.2-0.7 0.4-0.8 0.5-0.6 0.5-0.3 0.5-0.3 0.8-0.1 0.4 0.1 0.8 0.3 0.8 0.5 0.6 0.6 0.4 0.8 0.3 0.8 0.2 0.7 0.1 0.7 0 0.8-0.2 0.8-0.4 0.7-0.3 0.5-0.5 0.5-0.8 0.6-0.4 0.2-0.8 0.2z" fill="rgb(40,40,40)" stroke="#222" stroke-width="0.3"/>
<path d="M210.8 64.8l-0.8 0.1-0.5 0-0.5-0.1-0.5-0.3-0.5-0.5-0.2-0.5-0.3-0.6-0.2-0.7-0.1-1 0.1-1 0.1-0.7 0.2-0.7 0.4-0.6 0.5-0.4 0.5-0.3 0.5-0.2 0.5 0 0.5 0.1 0.6 0.4 0.5 0.4 0.4 0.6 0.4 0.7 0.2 0.5 0.2 0.8 0.1 0.7-0.1 0.5-0.1 0.5-0.2 0.5-0.3 0.5-0.4 0.6-0.6 0.4-0.4 0.3z" fill="rgb(30,30,30)" stroke="#222" stroke-width="0.3"/>
<path d="M210.2 64.3l-0.4 0-0.6-0.1-0.3-0.2-0.4-0.4-0.3-0.4-0.2-0.5-0.2-0.7-0.1-0.5 0-0.7 0-0.8 0.2-0.5 0.2-0.5 0.1-0.3 0.5-0.5 0.3-0.1 0.5-0.2 0.5 0 0.5 0.1 0.3 0.2 0.4 0.4 0.5 0.6 0.3 0.6 0.2 0.7 0.1 0.5 0.1 0.5-0.1 0.5-0.1 0.5-0.2 0.5-0.4 0.5-0.4 0.3-0.4 0.3-0.6 0.2z" fill="rgb(25,25,25)" stroke="#222" stroke-width="0.3"/>
<path d="M210.5 63.5l-0.5 0.1-0.2-0.1-0.3 0-0.3-0.3-0.3-0.2-0.3-0.5-0.2-0.5-0.2-0.5 0-1 0-0.5 0.2-0.5 0.1-0.3 0.3-0.3 0.2-0.2 0.5-0.2 0.5 0 0.2 0 0.4 0.3 0.3 0.2 0.3 0.4 0.3 0.4 0.2 0.4 0.1 0.6 0.1 0.4 0 0.6-0.1 0.4-0.2 0.3-0.4 0.6-0.2 0.2-0.5 0.2z" fill="rgb(25,25,25)" stroke="#222" stroke-width="0.3"/>
<path d="M210.8 62.8l-0.3 0.1-0.3 0-0.2 0-0.2-0.1-0.6-0.6-0.2-0.3-0.2-0.5-0.1-0.4-0.1-0.5 0.1-0.7 0.4-0.6 0.4-0.2 0.3-0.1 0.2 0.1 0.5 0.2 0.3 0.2 0.2 0.3 0.3 0.8 0.2 0.7-0.1 0.6-0.2 0.4-0.2 0.4-0.2 0.2z" fill="rgb(30,30,30)" stroke="#222" stroke-width="0.3"/>
<path d="M210.8 62.0l-0.3 0.2-0.3 0-0.2-0.1-0.5-0.5-0.3-0.4-0.1-0.4-0.1-0.6 0.2-0.4 0.3-0.3 0.3-0.1 0.2 0 0.2 0.1 0.3 0.3 0.4 0.4 0.1 0.6 0.1 0.4-0.1 0.4-0.2 0.4z" fill="rgb(190,190,190)" stroke="#222" stroke-width="0.3"/>
<rect x="201.3" y="42" width="22.3" height="31.7" fill="none" stroke="#5a4d96" stroke-width="0.9" />
<rect x="199" y="27.2" width="48" height="48.0" fill="none" stroke="#231f20" stroke-width="1.1" />
<text x="193.8" y="76.39999999999999" font-size="4.6" text-anchor="end" textLength="2.2" lengthAdjust="spacingAndGlyphs" fill="#6f6f6f" >0</text>
<text x="193.8" y="67.3" font-size="4.6" text-anchor="end" textLength="7.04" lengthAdjust="spacingAndGlyphs" fill="#6f6f6f" >50K</text>
<text x="193.8" y="58.2" font-size="4.6" text-anchor="end" textLength="9.24" lengthAdjust="spacingAndGlyphs" fill="#6f6f6f" >100K</text>
<text x="193.8" y="49.1" font-size="4.6" text-anchor="end" textLength="9.24" lengthAdjust="spacingAndGlyphs" fill="#6f6f6f" >150K</text>
<text x="193.8" y="40.0" font-size="4.6" text-anchor="end" textLength="9.24" lengthAdjust="spacingAndGlyphs" fill="#6f6f6f" >200K</text>
<text x="193.8" y="30.900000000000002" font-size="4.6" text-anchor="end" textLength="9.24" lengthAdjust="spacingAndGlyphs" fill="#6f6f6f" >250K</text>
<text x="201.6" y="83.60000000000001" font-size="4.6" text-anchor="middle" fill="#6f6f6f" >-10<tspan font-size="3" dy="-1.8">3</tspan></text>
<text x="210" y="83.60000000000001" font-size="4.6" text-anchor="middle" fill="#6f6f6f" >0</text>
<text x="218" y="83.60000000000001" font-size="4.6" text-anchor="middle" fill="#6f6f6f" >10<tspan font-size="3" dy="-1.8">3</tspan></text>
<text x="230.7" y="83.60000000000001" font-size="4.6" text-anchor="middle" fill="#6f6f6f" >10<tspan font-size="3" dy="-1.8">4</tspan></text>
<text x="242.3" y="83.60000000000001" font-size="4.6" text-anchor="middle" fill="#6f6f6f" >10<tspan font-size="3" dy="-1.8">5</tspan></text>
<rect x="204" y="75.2" width="11" height="2.2" fill="#231f20"/>
<text x="182.3" y="53.6" font-size="7.8" text-anchor="middle" fill="#231f20" transform="rotate(-90 182.3 53.6)" textLength="18.5" lengthAdjust="spacingAndGlyphs">SSC-A</text>
<text x="223.3" y="94.3" font-size="7.8" text-anchor="middle" textLength="35.5" lengthAdjust="spacingAndGlyphs" fill="#231f20" >CD3/7-AAD</text>
<path d="M256 55.4 L249.6 52.699999999999996 L251.4 55.4 L249.6 58.1 Z" fill="#4b3c82"/>
<circle cx="290.3" cy="33.9" r="0.35" fill="#999"/>
<circle cx="293.0" cy="46.3" r="0.35" fill="#999"/>
<circle cx="287.6" cy="45.8" r="0.35" fill="#999"/>
<circle cx="298.8" cy="46.1" r="0.35" fill="#999"/>
<circle cx="297.4" cy="30.2" r="0.35" fill="#999"/>
<circle cx="294.4" cy="47.3" r="0.35" fill="#999"/>
<circle cx="285.7" cy="35.4" r="0.35" fill="#999"/>
<circle cx="289.0" cy="40.5" r="0.35" fill="#999"/>
<circle cx="291.3" cy="39.5" r="0.35" fill="#999"/>
<circle cx="296.6" cy="30.0" r="0.35" fill="#999"/>
<path d="M315.8 69.8l-0.8 0.1-1 0-1 0-0.8-0.1-0.7-0.2-1-0.3-0.7-0.3-0.8-0.3-0.8-0.5-0.5-0.4-0.5-0.6-0.6-0.7-0.5-0.7-0.2-0.6-0.2-0.7-0.1-0.7 0-0.8 0.2-1 0.3-0.8 0.3-0.4 0.4-0.6 0.6-0.7 0.8-0.7 2.2-1.3 0.2-0.3 0.2-0.1 0.1-0.3-0.1-0.6-0.4-2-0.2-1.4 0-1.6 0.2-2 0-0.4-0.1-0.6-0.3-0.7-0.8-1.5-0.6-1.2-0.4-1.3-0.2-1-0.1-1.3 0-1 0.2-1.2 0.2-1 0.5-1.2 0.5-1 0.8-1 0.7-0.8 0.7-0.6 1-0.5 1-0.3 1-0.1 1 0 1 0.3 1 0.5 0.5 0.4 0.5 0.4 0.7 0.7 0.7 1 0.5 1 0.3 0.7 0.2 0.7 0.2 1 0.1 0.8 0.1 1-0.1 1.2-0.1 0.8-0.2 1-0.5 1.2-0.6 1.6-0.3 0.9 0 0.5 0 0.5 0.2 1.3 0.1 1.2 0 1.6-0.2 1.7-0.2 1-0.4 1.3-0.1 0.4 0 0.3 0.1 0.4 0.2 0.3 1.6 1.6 0.8 1 0.3 0.4 0.3 0.8 0.1 0.8 0.1 0.4-0.1 1-0.1 0.8-0.2 0.5-0.6 1-0.4 0.5-0.4 0.5-1.1 0.9-1 0.5-1.3 0.5-0.7 0.2-0.7 0.2z" fill="rgb(248,248,248)" stroke="#222" stroke-width="0.3"/>
<path d="M315.2 69.3l-0.7 0-0.7 0-0.8 0-1-0.2-0.8-0.2-0.7-0.2-0.7-0.4-0.8-0.4-0.5-0.4-0.6-0.5-0.4-0.5-0.4-0.5-0.2-0.5-0.3-0.7-0.2-0.8 0-0.5 0.1-0.7 0.1-0.8 0.3-0.5 0.2-0.5 0.6-0.8 0.5-0.5 0.8-0.6 2.4-1.3 0.3-0.3 0.2-0.3 0.1-0.2 0-0.5-0.7-2-0.2-1.5-0.1-1.5 0.2-2.3 0-0.7-0.2-0.5-0.2-0.5-1.2-2-0.4-1-0.4-1-0.2-1-0.1-1 0-1 0.1-1 0.2-1 0.4-1 0.4-1 0.7-1 0.7-0.8 0.8-0.6 1-0.5 0.7-0.2 1-0.2 1 0.1 1 0.3 1 0.6 0.7 0.6 0.7 0.7 0.7 1 0.5 1.3 0.3 1 0.2 1 0.1 0.7 0 1-0.1 0.7-0.2 1-0.3 1-0.3 0.8-0.8 1.8-0.3 1-0.1 0.4 0 0.6 0.3 2.4 0.1 1-0.1 0.8-0.1 0.8-0.2 1-0.2 0.7-0.6 1.5-0.1 0.5 0.1 0.3 0.3 0.4 1.9 1.7 0.5 0.6 0.4 0.5 0.2 0.5 0.3 0.7 0.2 0.8 0 0.5-0.1 1-0.1 0.5-0.3 0.5-0.2 0.5-0.4 0.5-0.7 0.7-0.8 0.7-0.8 0.4-0.4 0.3-0.8 0.3-0.8 0.2-1 0.2z" fill="rgb(238,238,238)" stroke="#222" stroke-width="0.3"/>
<path d="M315.8 68.8l-0.8 0.1-0.8 0-0.7 0-0.7-0.1-1-0.2-0.8-0.2-0.8-0.3-0.4-0.3-0.8-0.5-0.4-0.3-0.5-0.5-0.4-0.5-0.3-0.5-0.2-0.5-0.1-0.5-0.2-0.7 0.1-0.8 0.1-0.5 0.1-0.5 0.4-0.8 0.3-0.4 0.3-0.5 0.8-0.6 0.8-0.5 2.3-1.2 0.4-0.2 0.3-0.3 0.2-0.3 0.1-0.2 0-0.2-0.1-0.3-0.6-1.3-0.2-0.7-0.3-1.3-0.1-0.7 0-0.7 0.2-2.3 0-0.5-0.1-0.5-0.2-0.5-0.3-0.5-1.1-1.7-0.4-0.8-0.5-1-0.2-0.8-0.1-0.7-0.2-1 0-1 0.2-1.3 0.3-1.2 0.5-1 0.4-0.8 0.4-0.4 0.8-0.9 0.5-0.3 0.5-0.3 1-0.4 1-0.1 0.7 0 0.6 0.1 0.4 0.2 0.6 0.2 0.4 0.3 0.6 0.4 0.7 0.8 0.4 0.4 0.4 0.8 0.5 1.2 0.4 1.3 0.1 1.3-0.1 1.4-0.1 0.8-0.2 0.8-0.5 1.2-1.2 2.2-0.2 0.8-0.1 0.5 0 0.5 0.2 1.8 0.1 1 0 0.7-0.1 0.7-0.1 0.8-0.3 0.8-0.3 0.7-0.7 1.3-0.1 0.2 0 0.2 0 0.3 0.4 0.5 0.5 0.5 1.7 1.3 0.7 0.7 0.4 0.5 0.4 0.8 0.2 0.7 0.2 0.7-0.1 0.8-0.1 0.8-0.3 0.7-0.5 0.7-0.7 0.8-0.9 0.7-0.7 0.4-0.8 0.3-1.2 0.4z" fill="rgb(220,220,220)" stroke="#222" stroke-width="0.3"/>
<path d="M315.5 56.1l-0.5 0.1-0.2 0-0.6-0.3-0.4-0.4-0.3-0.3-0.3-0.4-0.2-0.5-0.3-0.8-0.1-1 0-1 0.1-1.7-0.1-0.8-0.1-0.5-0.3-0.5-1.7-2.5-0.6-1.3-0.3-0.7-0.2-0.7-0.1-0.8-0.1-0.8 0-0.7 0.1-0.7 0.3-1.3 0.5-1.3 0.6-1 0.8-0.8 0.5-0.4 0.5-0.3 0.5-0.2 0.5-0.2 0.5-0.1 0.5-0.1 0.5 0.1 0.5 0 0.5 0.2 0.5 0.2 0.5 0.3 0.5 0.3 0.7 0.8 0.5 0.5 0.3 0.5 0.4 1 0.4 1.2 0.2 1.3 0 1-0.1 0.7-0.2 0.8-0.2 0.8-0.3 0.7-0.3 0.7-1.3 2.3-0.3 0.7-0.1 0.6 0 0.7 0.2 1.7 0 0.8 0 1-0.2 0.8-0.3 0.7-0.4 0.7-0.5 0.5-0.5 0.4z M315.2 68.5l-0.7 0.1-0.7 0-1.3-0.1-1.3-0.3-0.7-0.3-0.5-0.3-1-0.7-0.4-0.4-0.4-0.5-0.4-0.5-0.2-0.5-0.2-0.8-0.1-0.4 0-0.6 0.1-0.4 0.1-0.6 0.2-0.4 0.5-0.9 0.8-0.8 1-0.7 1-0.5 2.5-1 1-0.3 0.5 0 0.8 0.3 2 1.2 1.2 1 0.6 0.7 0.6 0.7 0.2 0.5 0.2 0.5 0.1 0.7 0 0.6-0.1 0.4-0.2 0.8-0.2 0.5-0.4 0.5-0.6 0.7-0.7 0.6-1 0.6-1.3 0.4-1 0.2z" fill="rgb(195,195,195)" stroke="#222" stroke-width="0.3"/>
<path d="M315.0 53.8l-0.2-0.1-0.3-0.1-0.3-0.3-0.2-0.5-0.1-0.8 0-1.2 0-0.6-0.1-0.4-0.3-0.6-0.6-1-2.1-2.7-0.7-1.3-0.2-0.7-0.2-0.7-0.2-0.8 0-0.8 0-1.2 0.3-1.2 0.5-1.3 0.6-1 0.4-0.5 0.5-0.4 0.7-0.6 0.5-0.2 0.5-0.2 1-0.2 0.5 0.1 0.5 0.1 0.5 0.1 0.5 0.2 0.9 0.6 0.7 0.7 0.7 1 0.3 0.6 0.2 0.7 0.3 1 0.1 1.3 0 1-0.1 0.7-0.2 0.7-0.2 0.8-0.6 1.2-1.7 2.8-0.6 1-0.2 0.8-0.1 0.4 0.1 1.6-0.1 0.8-0.2 0.6-0.2 0.3-0.4 0.2-0.2 0.1z M315.5 68.3l-1 0.1-1.3 0-1-0.2-1-0.3-1-0.4-0.7-0.5-0.5-0.5-0.7-0.7-0.4-0.8-0.2-0.8-0.1-0.7 0.1-0.7 0.2-0.8 0.4-0.8 0.7-0.7 0.8-0.7 0.4-0.3 0.8-0.4 1.5-0.5 0.7-0.3 0.8-0.1 0.5 0 0.5 0 0.5 0.1 0.7 0.3 1.6 0.8 1 0.8 0.5 0.6 0.4 0.4 0.3 0.6 0.2 0.4 0.1 0.6 0.1 0.4 0 0.6-0.1 0.4-0.2 0.8-0.3 0.5-0.3 0.5-0.5 0.5-0.5 0.5-0.5 0.3-0.5 0.3-0.7 0.3-1.3 0.4z" fill="rgb(165,165,165)" stroke="#222" stroke-width="0.3"/>
<path d="M315.2 48.1l-0.2 0-0.5 0-0.3 0-0.4-0.2-0.6-0.4-0.4-0.4-1-1.1-0.6-0.7-0.3-0.5-0.5-1-0.3-1-0.2-1.3 0-1.3 0.2-1 0.3-1 0.2-0.4 0.4-0.7 0.7-0.9 0.8-0.6 0.7-0.4 0.6-0.1 0.4-0.1 0.6 0 0.4 0 0.6 0.1 0.4 0.2 0.8 0.5 0.8 0.7 0.5 0.7 0.5 1 0.3 1 0.2 1.3 0 1-0.2 1.3-0.3 1-0.4 1-0.8 1.2-0.8 1-0.8 0.7-0.2 0.2-0.6 0.2z M314.5 68.0l-1.3 0-1-0.2-0.7-0.2-0.5-0.2-1-0.6-0.5-0.4-0.4-0.4-0.5-0.8-0.3-0.7-0.2-0.5 0-0.5 0-0.5 0.2-0.5 0.3-0.7 0.5-0.8 0.7-0.6 1-0.7 1.2-0.5 1.2-0.4 1-0.1 1 0.1 1 0.3 1 0.5 1 0.8 0.7 0.6 0.5 0.8 0.3 0.7 0.2 0.5 0 0.5-0.1 0.7-0.2 0.8-0.5 0.8-0.7 0.7-0.9 0.6-1 0.5-1 0.3-1 0.1z" fill="rgb(125,125,125)" stroke="#222" stroke-width="0.3"/>
<path d="M315.2 47.0l-0.2 0.1-0.5 0-0.7-0.2-0.8-0.5-0.5-0.4-0.5-0.5-0.5-0.7-0.6-1-0.3-1-0.2-1.3 0-1.3 0.2-1 0.3-1 0.4-0.7 0.7-0.8 0.8-0.6 0.7-0.4 0.7-0.1 0.8 0 0.8 0.2 0.7 0.3 0.8 0.7 0.6 0.7 0.5 1 0.3 1 0.1 1 0 1-0.1 1-0.3 1-0.4 0.9-0.6 0.8-0.6 0.9-0.8 0.6-0.2 0.2-0.6 0.1z M315.0 67.5l-0.8 0.1-1-0.1-1-0.1-0.7-0.3-0.7-0.4-0.7-0.5-0.6-0.5-0.4-0.7-0.3-0.5-0.1-0.7 0-0.8 0.2-0.8 0.3-0.5 0.6-0.6 0.4-0.5 0.8-0.5 1-0.4 1.2-0.3 1-0.1 1 0.1 0.8 0.2 0.5 0.2 1 0.6 0.5 0.4 0.4 0.4 0.5 0.8 0.3 0.8 0.1 0.4 0 0.6-0.1 0.4-0.1 0.6-0.5 0.7-0.7 0.7-0.9 0.7-1 0.4-1 0.2z" fill="rgb(90,90,90)" stroke="#222" stroke-width="0.3"/>
<path d="M315.0 46.3l-0.5 0-0.7-0.2-0.8-0.5-0.8-0.7-0.4-0.7-0.5-1-0.3-1-0.2-1 0.1-1 0.1-0.7 0.4-1 0.4-0.7 0.4-0.6 0.8-0.6 0.8-0.3 0.7-0.1 0.7 0.1 0.8 0.2 0.7 0.5 0.5 0.5 0.5 0.7 0.3 0.8 0.2 0.8 0.2 1-0.1 1-0.1 0.7-0.4 1-0.3 0.7-0.6 0.8-0.7 0.7-0.4 0.3-0.3 0.1-0.5 0.2z M315.0 67.0l-0.8 0.1-0.7 0-0.7-0.1-0.9-0.2-0.7-0.4-0.6-0.4-0.5-0.5-0.4-0.5-0.2-0.5-0.2-0.5 0-0.8 0.1-0.4 0.2-0.6 0.4-0.6 0.5-0.5 0.5-0.4 1-0.5 1-0.3 1-0.1 1 0.1 1 0.2 1 0.6 0.7 0.5 0.6 0.8 0.3 0.8 0.1 0.7-0.1 0.7-0.2 0.6-0.2 0.3-0.5 0.7-0.7 0.5-0.5 0.3-0.5 0.2-1 0.2z" fill="rgb(65,65,65)" stroke="#222" stroke-width="0.3"/>
<path d="M315.0 45.6l-0.2 0-0.6-0.1-0.4-0.1-0.6-0.4-0.7-0.6-0.5-0.8-0.3-0.6-0.3-0.8-0.1-1 0.1-1 0.1-0.7 0.3-0.7 0.4-0.8 0.6-0.5 0.4-0.4 0.6-0.2 0.7-0.1 0.7 0.1 0.6 0.1 0.4 0.3 0.6 0.5 0.4 0.7 0.3 0.5 0.3 0.8 0.1 1 0 0.7-0.1 0.7-0.3 0.8-0.3 0.8-0.4 0.6-0.7 0.6-0.6 0.4-0.5 0.2z M315.5 66.5l-0.5 0.1-0.8 0.1-0.7 0-0.5-0.1-0.5-0.1-0.7-0.3-0.6-0.3-0.5-0.4-0.4-0.5-0.3-0.5-0.1-0.5-0.1-0.5 0.1-0.5 0.1-0.5 0.3-0.5 0.4-0.5 0.7-0.5 0.8-0.4 1-0.3 0.8-0.1 1 0.1 0.8 0.2 0.4 0.2 0.5 0.3 0.6 0.5 0.5 0.6 0.3 0.7 0.1 0.7-0.1 0.7-0.4 0.8-0.5 0.5-0.7 0.6-0.5 0.2-0.5 0.2z" fill="rgb(55,55,55)" stroke="#222" stroke-width="0.3"/>
<path d="M315.2 44.8l-0.4 0.1-0.3 0-0.5-0.1-0.5-0.3-0.5-0.4-0.5-0.6-0.3-0.5-0.3-0.8-0.1-0.7 0-0.7 0.1-0.8 0.1-0.5 0.4-0.7 0.4-0.6 0.4-0.4 0.6-0.3 0.4-0.1 0.6 0 0.4 0.1 0.6 0.2 0.4 0.3 0.5 0.5 0.3 0.6 0.3 0.7 0.1 0.7 0 0.5 0 0.8-0.2 0.5-0.2 0.7-0.3 0.5-0.5 0.6-0.4 0.5-0.6 0.2z M314.8 66.3l-0.6 0-0.7 0-0.5-0.1-0.7-0.2-0.5-0.2-0.4-0.3-0.4-0.3-0.3-0.4-0.3-0.6-0.1-0.4 0-0.6 0.1-0.4 0.3-0.6 0.2-0.2 0.3-0.4 0.6-0.4 0.7-0.3 0.7-0.2 0.8-0.1 0.8 0.1 0.7 0.2 0.7 0.3 0.7 0.6 0.4 0.4 0.3 0.6 0.1 0.7-0.1 0.7-0.3 0.6-0.4 0.4-0.6 0.6-0.8 0.3-0.7 0.2z" fill="rgb(60,60,60)" stroke="#222" stroke-width="0.3"/>
<path d="M314.8 44.3l-0.6-0.1-0.4-0.2-0.4-0.2-0.4-0.5-0.2-0.4-0.3-0.5-0.2-0.6 0-0.6 0-0.4 0.1-0.8 0.2-0.5 0.3-0.5 0.3-0.4 0.5-0.4 0.3-0.1 0.5-0.1 0.5 0 0.5 0.2 0.4 0.3 0.2 0.3 0.4 0.4 0.2 0.6 0.2 0.4 0 0.6 0 0.4-0.1 0.8-0.2 0.8-0.3 0.4-0.3 0.4-0.5 0.4-0.5 0.2-0.2 0.1z M315.2 65.8l-1 0.2-0.4 0-0.6-0.1-0.4-0.1-0.6-0.2-0.4-0.3-0.4-0.3-0.2-0.2-0.3-0.6-0.1-0.4 0-0.3 0-0.3 0.1-0.4 0.3-0.6 0.2-0.2 0.6-0.4 0.6-0.4 0.6-0.1 0.8-0.1 0.8 0 0.7 0.2 0.5 0.3 0.6 0.5 0.4 0.5 0.2 0.5 0 0.5 0 0.3-0.1 0.4-0.3 0.6-0.5 0.4-0.5 0.4-0.6 0.2z" fill="rgb(80,80,80)" stroke="#222" stroke-width="0.3"/>
<path d="M315.2 43.3l-0.4 0.1-0.3 0-0.5-0.2-0.3-0.2-0.4-0.5-0.3-0.7-0.1-0.6 0-0.4 0.2-0.8 0.1-0.4 0.4-0.4 0.3-0.2 0.3-0.2 0.3 0 0.5 0.1 0.5 0.2 0.3 0.3 0.2 0.3 0.2 0.7 0.1 0.4 0 0.4-0.1 0.8-0.2 0.4-0.2 0.4-0.3 0.3-0.3 0.2z M314.8 65.5l-0.6 0.1-0.4 0-0.8-0.1-0.5-0.2-0.4-0.3-0.5-0.5-0.3-0.5-0.1-0.5 0.1-0.3 0.1-0.4 0.2-0.3 0.5-0.5 0.4-0.3 0.7-0.3 0.8 0 0.5 0 0.5 0.1 0.6 0.3 0.4 0.2 0.4 0.5 0.3 0.5 0.1 0.5-0.1 0.3-0.1 0.4-0.4 0.5-0.3 0.3-0.4 0.3-0.7 0.2z" fill="rgb(115,115,115)" stroke="#222" stroke-width="0.3"/>
<path d="M315.0 42.3l-0.2 0.1-0.3 0-0.3-0.1-0.2-0.3-0.2-0.5-0.1-0.5 0.1-0.3 0-0.2 0.2-0.3 0.2-0.2 0.3-0.1 0.3 0 0.2 0.1 0.2 0.3 0.3 0.5 0 0.2 0 0.5-0.2 0.5-0.3 0.3z M314.8 65.3l-0.8 0-0.8-0.1-0.7-0.3-0.5-0.4-0.3-0.5-0.1-0.5 0-0.3 0.2-0.4 0.4-0.6 0.4-0.2 0.5-0.2 0.7-0.2 0.4 0 0.6 0.1 0.4 0.2 0.6 0.3 0.2 0.3 0.2 0.3 0.2 0.4 0 0.6-0.2 0.4-0.2 0.3-0.2 0.3-0.6 0.3-0.4 0.2z" fill="rgb(160,160,160)" stroke="#222" stroke-width="0.3"/>
<path d="M314.8 64.8l-0.8 0.2-0.5-0.1-0.5-0.2-0.5-0.3-0.3-0.4-0.1-0.5 0.1-0.5 0.3-0.4 0.5-0.4 0.5-0.1 0.5-0.1 0.8 0.1 0.3 0.1 0.4 0.4 0.3 0.4 0.1 0.5 0 0.3-0.1 0.3-0.3 0.3-0.5 0.4-0.2 0z" fill="rgb(215,215,215)" stroke="#222" stroke-width="0.3"/>
<rect x="303.3" y="29.8" width="22.2" height="43.9" fill="none" stroke="#5a4d96" stroke-width="0.9" />
<rect x="280.2" y="27.2" width="47.80000000000001" height="48.0" fill="none" stroke="#231f20" stroke-width="1.1" />
<text x="275.0" y="77.5" font-size="4.6" text-anchor="end" textLength="7.92" lengthAdjust="spacingAndGlyphs" fill="#6f6f6f" >-10<tspan font-size="3" dy="-1.8">3</tspan></text>
<text x="275.0" y="66.8" font-size="4.6" text-anchor="end" textLength="2.2" lengthAdjust="spacingAndGlyphs" fill="#6f6f6f" >0</text>
<text x="275.0" y="58.6" font-size="4.6" text-anchor="end" textLength="6.6" lengthAdjust="spacingAndGlyphs" fill="#6f6f6f" >10<tspan font-size="3" dy="-1.8">3</tspan></text>
<text x="275.0" y="46.4" font-size="4.6" text-anchor="end" textLength="6.6" lengthAdjust="spacingAndGlyphs" fill="#6f6f6f" >10<tspan font-size="3" dy="-1.8">4</tspan></text>
<text x="275.0" y="34.300000000000004" font-size="4.6" text-anchor="end" textLength="6.6" lengthAdjust="spacingAndGlyphs" fill="#6f6f6f" >10<tspan font-size="3" dy="-1.8">5</tspan></text>
<rect x="277.59999999999997" y="61.5" width="2.6" height="4.0" fill="#231f20"/>
<text x="282.7" y="83.60000000000001" font-size="4.6" text-anchor="middle" fill="#6f6f6f" >-10<tspan font-size="3" dy="-1.8">3</tspan></text>
<text x="291.3" y="83.60000000000001" font-size="4.6" text-anchor="middle" fill="#6f6f6f" >0</text>
<text x="299" y="83.60000000000001" font-size="4.6" text-anchor="middle" fill="#6f6f6f" >10<tspan font-size="3" dy="-1.8">3</tspan></text>
<text x="311.2" y="83.60000000000001" font-size="4.6" text-anchor="middle" fill="#6f6f6f" >10<tspan font-size="3" dy="-1.8">4</tspan></text>
<text x="323" y="83.60000000000001" font-size="4.6" text-anchor="middle" fill="#6f6f6f" >10<tspan font-size="3" dy="-1.8">5</tspan></text>
<rect x="286" y="75.2" width="8" height="2.2" fill="#231f20"/>
<text x="265.3" y="51.2" font-size="7.8" text-anchor="middle" fill="#231f20" transform="rotate(-90 265.3 51.2)" textLength="17" lengthAdjust="spacingAndGlyphs">CD27</text>
<text x="304" y="94.3" font-size="7.8" text-anchor="middle" textLength="16.8" lengthAdjust="spacingAndGlyphs" fill="#231f20" >CD20</text>
<path d="M337.5 55.4 L331.1 52.699999999999996 L332.9 55.4 L331.1 58.1 Z" fill="#4b3c82"/>
<circle cx="381.4" cy="39.4" r="0.35" fill="#999"/>
<circle cx="383.1" cy="37.4" r="0.35" fill="#999"/>
<circle cx="404.4" cy="64.9" r="0.35" fill="#999"/>
<circle cx="382.2" cy="52.6" r="0.35" fill="#999"/>
<circle cx="387.9" cy="46.0" r="0.35" fill="#999"/>
<circle cx="388.8" cy="57.6" r="0.35" fill="#999"/>
<circle cx="394.7" cy="47.6" r="0.35" fill="#999"/>
<circle cx="384.8" cy="46.5" r="0.35" fill="#999"/>
<circle cx="383.1" cy="54.4" r="0.35" fill="#999"/>
<circle cx="397.9" cy="48.3" r="0.35" fill="#999"/>
<circle cx="382.0" cy="41.2" r="0.35" fill="#999"/>
<circle cx="389.3" cy="56.2" r="0.35" fill="#999"/>
<circle cx="399.6" cy="48.3" r="0.35" fill="#999"/>
<circle cx="400.0" cy="56.8" r="0.35" fill="#999"/>
<circle cx="390.8" cy="48.0" r="0.35" fill="#999"/>
<circle cx="392.4" cy="59.6" r="0.35" fill="#999"/>
<circle cx="390.5" cy="59.3" r="0.35" fill="#999"/>
<circle cx="391.5" cy="43.6" r="0.35" fill="#999"/>
<circle cx="393.4" cy="59.3" r="0.35" fill="#999"/>
<circle cx="381.8" cy="49.9" r="0.35" fill="#999"/>
<circle cx="390.6" cy="65.8" r="0.35" fill="#999"/>
<circle cx="403.4" cy="48.1" r="0.35" fill="#999"/>
<circle cx="402.4" cy="62.7" r="0.35" fill="#999"/>
<circle cx="386.6" cy="51.2" r="0.35" fill="#999"/>
<circle cx="383.1" cy="63.5" r="0.35" fill="#999"/>
<circle cx="396.6" cy="66.1" r="0.35" fill="#999"/>
<circle cx="399.8" cy="58.4" r="0.35" fill="#999"/>
<circle cx="398.3" cy="54.7" r="0.35" fill="#999"/>
<circle cx="382.6" cy="55.6" r="0.35" fill="#999"/>
<circle cx="380.1" cy="40.0" r="0.35" fill="#999"/>
<circle cx="399.4" cy="36.6" r="0.35" fill="#999"/>
<circle cx="382.3" cy="38.5" r="0.35" fill="#999"/>
<circle cx="402.0" cy="41.3" r="0.35" fill="#999"/>
<circle cx="380.6" cy="64.5" r="0.35" fill="#999"/>
<circle cx="383.0" cy="64.5" r="0.35" fill="#999"/>
<circle cx="396.8" cy="64.3" r="0.35" fill="#999"/>
<circle cx="403.8" cy="55.3" r="0.35" fill="#999"/>
<circle cx="400.0" cy="36.3" r="0.35" fill="#999"/>
<circle cx="399.2" cy="52.9" r="0.35" fill="#999"/>
<circle cx="397.9" cy="38.7" r="0.35" fill="#999"/>
<path d="M382.5 70.5l-1.5 0.1-1.2 0-1.3 0-1.3-0.1-2.2-0.4-2-0.5-1.2-0.4-0.8-0.4-1-0.5-0.8-0.4-0.7-0.6-0.6-0.5-0.6-0.8-0.3-0.5-0.2-0.5-0.1-0.5-0.1-0.5 0-0.8 0.2-0.7 0.3-0.7 1.3-2 0.3-0.8 0.1-0.8-0.2-1.7-0.1-0.7 0.1-1.6 0.2-1.4 0.7-2.3 0.2-0.7-0.1-0.6-0.2-0.2-0.2-0.2-0.8-0.6-1.2-0.6-1-0.7-1-0.7-1-1-0.7-0.7-0.5-0.7-0.7-1-0.3-0.8-0.1-1 0-1.5 0-1.5 0.1-1.2 0.5-0.8 0.5-0.5 0.8-0.7 0.7-0.4 0.7-0.3 0.8-0.3 1-0.2 1-0.1 1 0 1 0 1 0.2 1 0.2 1 0.3 1 0.4 1.5 0.7 1.3 0.8 2 1.5 0.7 0.4 0.3 0.1 0.4 0 2-0.2 1-0.1 0.8 0.1 0.5 0.1 1 0.4 0.7 0.4 0.7 0.4 0.4 0.6 0.6 0.7 0.3 0.7 0.1 0.6 0.1 0.4 0 0.8-0.3 1-0.2 0.5-0.4 0.5-0.6 0.8-0.9 0.6-1.7 1.1-0.4 0.5-0.2 0.2-0.1 0.6-0.3 1.7-0.4 1.7-0.5 1.3-1 2-0.1 0.5 0 0.2 0 0.3 0.3 0.3 0.8 0.2 1.6 0.2 4.8 0.6 1 0.2 0.7 0.1 1 0.3 0.7 0.3 0.8 0.4 0.8 0.5 0.7 0.6 0.7 0.8 0.4 0.8 0.3 0.7 0.2 0.7 0.1 0.8-0.1 0.8-0.2 0.7-0.3 0.7-0.5 0.8-0.4 0.5-0.5 0.5-0.7 0.6-0.5 0.3-1 0.4-1 0.4-1.5 0.3-1 0.1-3 0.1-3 0.3z" fill="rgb(248,248,248)" stroke="#222" stroke-width="0.3"/>
<path d="M383.5 69.8l-2.5 0.2-2.5-0.1-1.3-0.1-1.2-0.2-2-0.4-1.8-0.6-1-0.5-0.7-0.4-0.7-0.6-0.6-0.4-0.6-0.7-0.3-0.5-0.2-0.5-0.2-0.8-0.1-0.7 0.2-0.7 0.2-0.6 0.4-0.7 1.4-2 0.2-0.5 0.1-0.2 0-0.3 0-0.5-0.4-1.5-0.1-0.7 0-0.8 0-0.8 0.1-0.7 0.2-1 0.7-2.3 0.1-0.7-0.1-0.5-0.2-0.2-0.3-0.3-0.7-0.5-1.6-0.8-1-0.6-1-0.7-0.8-0.7-0.7-0.7-0.6-0.7-0.5-0.8-0.5-1-0.3-1-0.2-1 0-1 0.2-1 0.3-0.8 0.3-0.4 0.3-0.4 0.7-0.7 0.8-0.5 0.8-0.4 0.7-0.2 0.7-0.2 1-0.1 1-0.1 1 0.1 0.8 0.1 1 0.2 1 0.3 1 0.4 1.5 0.8 1.3 0.8 1.7 1.5 0.7 0.5 0.6 0.1 0.4 0.1 1.8-0.4 0.8 0 0.7 0 0.7 0.1 1 0.4 0.8 0.5 0.6 0.5 0.5 0.8 0.2 0.8 0.1 0.7-0.1 0.7-0.2 0.8-0.5 0.8-0.4 0.3-0.4 0.4-0.8 0.5-1.8 0.9-0.4 0.3-0.2 0.3-0.1 0.3-0.1 0.4-0.3 2.3-0.2 1-0.2 0.7-0.6 1.6-1.3 2.4-0.1 0.3 0 0.3 0.1 0.2 0.3 0.2 0.8 0.3 4.6 0.6 3.3 0.5 1.7 0.5 1.3 0.5 0.7 0.4 0.7 0.5 0.6 0.5 0.5 0.8 0.2 0.4 0.3 0.8 0.1 0.8 0 0.7-0.2 0.7-0.2 0.6-0.3 0.4-0.3 0.6-0.5 0.4-0.4 0.4-0.5 0.3-0.7 0.5-1.3 0.4-1.3 0.3-1.4 0.2-4.3 0.5z" fill="rgb(238,238,238)" stroke="#222" stroke-width="0.3"/>
<path d="M381.0 69.5l-2 0-2-0.2-2-0.4-1.8-0.5-1.4-0.7-0.6-0.3-0.7-0.5-0.4-0.4-0.5-0.5-0.4-0.5-0.2-0.5-0.2-0.5-0.1-0.7 0.1-0.8 0.2-0.5 0.3-0.7 0.4-0.6 1.7-2 0.3-0.4 0-0.3 0.1-0.3-0.2-0.4-0.5-1.3-0.2-0.7-0.1-0.8 0-0.8 0-0.7 0.1-0.7 0.3-1 0.6-1.8 0.1-0.5 0-0.3-0.2-0.4-0.2-0.3-0.3-0.3-0.9-0.4-2.3-1.2-1-0.6-1-0.8-0.7-0.7-0.7-0.7-0.5-0.8-0.5-1-0.4-1-0.1-1 0-1 0.3-1 0.3-0.8 0.6-0.7 0.7-0.5 1-0.6 0.8-0.3 0.7-0.2 0.7-0.1 0.8 0 1 0 0.8 0.1 1 0.2 0.7 0.2 1.5 0.6 1 0.5 0.8 0.5 1.1 0.9 1.6 1.4 0.5 0.3 0.2 0.2 0.3 0 0.5 0.1 0.5 0 1.3-0.3 0.7-0.1 0.7-0.1 0.8 0.2 0.8 0.2 0.7 0.5 0.5 0.6 0.4 0.7 0.2 0.7 0 0.8-0.3 0.8-0.5 0.7-0.5 0.5-0.5 0.4-0.8 0.3-1.4 0.5-0.5 0.3-0.3 0.3-0.3 0.4-0.1 0.3-0.1 0.5 0 1.5-0.1 1-0.1 0.7-0.2 0.8-0.4 1-0.5 1-0.4 0.8-1.2 1.7-0.2 0.5 0.1 0.2 0.2 0.3 0.7 0.3 1.4 0.2 3.4 0.4 3 0.5 2.2 0.5 1.6 0.5 0.7 0.4 0.7 0.5 0.6 0.4 0.4 0.6 0.5 0.7 0.1 0.5 0.2 0.8-0.1 0.7-0.1 0.5-0.2 0.5-0.3 0.5-0.4 0.5-0.4 0.4-0.5 0.4-0.8 0.5-0.7 0.3-1.3 0.4-2 0.3-4.2 0.6-2 0.1z" fill="rgb(220,220,220)" stroke="#222" stroke-width="0.3"/>
<path d="M382.8 69.0l-2.3 0.2-2-0.1-2-0.2-1-0.2-1-0.3-1.5-0.6-0.8-0.3-0.7-0.5-0.7-0.5-0.5-0.5-0.3-0.5-0.3-0.5-0.3-0.8 0-0.7 0.2-0.7 0.3-0.8 0.6-0.8 0.4-0.4 1.9-1.8 0.5-0.5 0.2-0.3 0-0.2 0-0.2-0.2-0.3-0.8-0.9-0.4-0.6-0.3-0.8-0.1-0.7 0-0.7 0.1-1 0.3-1 0.6-1.8 0.1-0.5 0-0.3-0.2-0.4-0.2-0.3-0.6-0.5-0.4-0.2-1.9-0.9-1-0.5-1-0.6-1-0.7-0.6-0.6-0.7-0.7-0.6-0.8-0.4-0.8-0.4-1-0.2-1 0-1 0.2-0.7 0.3-0.7 0.5-0.8 0.6-0.6 0.8-0.4 0.8-0.4 0.7-0.2 0.7-0.1 0.8-0.1 0.8 0 1 0.1 1.4 0.4 0.8 0.2 1 0.4 0.8 0.4 0.7 0.5 1.3 0.9 1.7 1.7 0.7 0.5 0.6 0.2 0.4 0 2-0.5 0.8 0 0.5 0 0.7 0.2 0.6 0.3 0.5 0.5 0.3 0.5 0.2 0.3 0.1 0.4-0.1 0.8 0 0.3-0.3 0.5-0.4 0.4-0.6 0.5-0.5 0.3-0.8 0.3-1.4 0.4-0.6 0.2-0.4 0.3-0.2 0.3-0.2 0.5-0.1 0.5 0.1 2.3-0.1 1-0.2 1-0.3 0.7-0.4 1-0.6 1-0.8 1-1.4 1.5-0.1 0.2 0 0.3 0.2 0.3 0.8 0.2 1.5 0.2 3.8 0.4 2 0.3 3 0.6 1.2 0.3 1 0.4 0.8 0.3 0.7 0.5 0.6 0.5 0.4 0.5 0.3 0.5 0.2 0.5 0.1 0.5 0.1 0.7-0.1 0.6-0.2 0.4-0.5 0.8-0.7 0.8-0.7 0.4-0.5 0.3-1.3 0.4-1.4 0.4-2 0.3-3 0.4z" fill="rgb(195,195,195)" stroke="#222" stroke-width="0.3"/>
<path d="M375.2 56.3l-0.7 0-0.5-0.1-0.3-0.2-0.5-0.4-0.2-0.3-0.3-0.8-0.1-0.5 0-0.5 0.1-1 0.3-1 0.6-1.5 0-0.5 0-0.5-0.3-0.5-0.6-0.5-0.4-0.2-3.3-1.5-1-0.5-0.8-0.5-0.9-0.8-0.8-0.9-0.6-0.8-0.5-1-0.3-1-0.1-0.8 0.1-1 0.2-0.8 0.5-0.7 0.4-0.5 0.8-0.6 0.8-0.4 0.4-0.1 0.8-0.2 0.8-0.1 0.7-0.1 0.7 0.1 0.8 0.1 1.5 0.4 1 0.3 0.7 0.4 0.8 0.4 0.8 0.5 1.1 1.1 1.6 1.6 0.7 0.6 0.6 0.1 0.4 0.1 0.6-0.1 1.4-0.4 0.6 0 0.4 0 0.6 0.1 0.4 0.3 0.5 0.4 0.3 0.5 0.1 0.5-0.1 0.5-0.2 0.5-0.6 0.5-0.4 0.4-0.6 0.2-0.6 0.2-1.4 0.2-0.4 0.2-0.5 0.3-0.3 0.3-0.4 0.7-0.2 0.7 0 0.8 0.1 1.8-0.1 1-0.2 1-0.3 1-0.4 0.7-0.3 0.5-0.4 0.6-0.6 0.5-0.4 0.4-0.6 0.3-0.4 0.3-0.6 0.2z M382.5 68.8l-1.5 0.1-1.2 0-1.3 0-1.5-0.2-1.2-0.3-1-0.2-1-0.4-1-0.5-0.8-0.4-0.8-0.7-0.5-0.4-0.5-0.8-0.2-0.5-0.1-0.7 0.1-0.8 0.3-0.8 0.5-0.7 0.7-0.7 1-0.8 1-0.7 0.7-0.4 0.8-0.2 0.8-0.2 1 0 3.4 0.1 2.3 0.2 2.3 0.4 2.4 0.5 1.8 0.5 1.2 0.6 0.6 0.3 0.5 0.4 0.7 0.7 0.3 0.6 0.2 0.7 0 0.5-0.1 0.8-0.2 0.4-0.3 0.6-0.5 0.4-0.6 0.6-0.6 0.3-0.7 0.3-1.5 0.5-2.5 0.5-3 0.4z" fill="rgb(165,165,165)" stroke="#222" stroke-width="0.3"/>
<path d="M376.0 54.3l-0.5 0.1-0.3 0-0.4-0.1-0.4-0.3-0.2-0.2-0.1-0.3-0.1-0.5 0.1-0.8 0.1-0.5 0.7-1.5 0.1-0.7-0.1-0.5-0.3-0.5-0.7-0.5-0.5-0.2-3.6-1.4-1-0.5-0.8-0.5-0.9-0.6-0.8-0.8-0.6-0.8-0.5-0.7-0.5-1-0.2-0.7-0.1-1 0.1-0.8 0.3-0.8 0.4-0.6 0.7-0.6 0.6-0.4 0.5-0.3 0.8-0.2 0.7-0.1 1-0.1 0.7 0 1 0.2 1.6 0.4 0.7 0.3 0.7 0.3 0.8 0.5 0.8 0.5 0.7 0.7 0.5 0.4 1.8 2.1 0.4 0.5 0.6 0.3 0.4 0.2 0.3 0.1 1.5-0.2 0.4 0 0.3 0.3 0.1 0.3 0 0.2-0.1 0.2-0.5 0.3-1.4 0.3-0.3 0.1-0.5 0.4-0.2 0.2-0.6 0.8-0.6 1.5-0.6 1.4-0.1 0.8 0.1 2-0.1 0.5-0.1 0.7-0.3 0.6-0.5 0.7-0.5 0.4-0.5 0.4z M382.5 68.5l-1.5 0.1-1.2 0-1.3 0-1.3-0.2-1.2-0.2-1-0.3-1-0.3-1-0.5-0.9-0.6-0.6-0.5-0.4-0.5-0.5-0.7-0.1-0.8 0-0.5 0.1-0.7 0.3-0.6 0.5-0.7 0.8-0.7 0.8-0.6 1-0.6 0.8-0.3 1-0.2 1.2-0.2 1.5 0 2.3 0.1 2 0.1 2 0.4 2.2 0.4 1.5 0.5 1 0.5 1 0.6 0.3 0.3 0.4 0.4 0.4 0.6 0.1 0.4 0.1 0.8 0 0.5-0.2 0.5-0.3 0.5-0.5 0.5-0.6 0.5-0.4 0.3-0.8 0.3-1.5 0.5-2.3 0.5-2.7 0.4z" fill="rgb(125,125,125)" stroke="#222" stroke-width="0.3"/>
<path d="M376.5 47.3l-0.3 0.1-0.4 0.1-0.6 0-0.4-0.1-1.6-0.3-2-0.6-1.2-0.4-1-0.5-1-0.6-0.9-0.8-0.7-0.7-0.7-1-0.5-1-0.2-0.7-0.1-0.6 0-0.4 0.2-0.8 0.3-0.8 0.4-0.4 0.4-0.5 0.5-0.3 0.5-0.3 0.6-0.1 0.4-0.2 0.8-0.1 0.8 0 0.7 0 0.7 0.1 0.8 0.2 0.8 0.3 0.7 0.3 1.3 0.7 1.1 0.9 1 1 1 1.4 0.5 0.8 0.2 0.5 0.2 0.7 0 0.6-0.2 0.4-0.2 0.8-0.4 0.8-0.3 0.4-0.5 0.5-0.2 0.3-0.5 0.3z M381.5 68.3l-1.3 0-1 0-1.2-0.1-1-0.1-1-0.3-1-0.3-1-0.4-0.8-0.4-0.7-0.5-0.5-0.4-0.4-0.6-0.3-0.4-0.2-0.6 0-0.7 0.2-0.7 0.2-0.6 0.6-0.7 0.7-0.5 1-0.7 1-0.4 1-0.3 1-0.2 1.2-0.1 1.8-0.1 1.7 0.1 1.7 0.2 2 0.4 1.8 0.5 1.1 0.4 1 0.4 0.7 0.6 0.4 0.3 0.3 0.4 0.3 0.5 0.1 0.5 0.1 0.5-0.1 0.5-0.2 0.5-0.4 0.5-0.5 0.5-0.6 0.4-0.6 0.4-0.6 0.2-1.8 0.5-2.7 0.5-2 0.3z" fill="rgb(90,90,90)" stroke="#222" stroke-width="0.3"/>
<path d="M374.8 46.3l-1 0-1-0.1-1.3-0.3-1-0.3-1-0.5-0.7-0.4-0.8-0.5-0.7-0.7-0.6-0.7-0.5-0.8-0.3-0.8-0.1-0.7 0-0.7 0.1-0.6 0.3-0.6 0.6-0.6 0.7-0.5 0.5-0.2 0.5-0.2 0.5-0.1 0.8 0 1.2 0 1.2 0.3 1.3 0.6 0.7 0.3 0.6 0.4 0.9 0.9 0.8 1 0.3 0.5 0.4 0.8 0.2 0.4 0.1 0.6 0 0.4-0.1 0.6-0.1 0.4-0.2 0.6-0.3 0.4-0.3 0.3-0.3 0.3-0.4 0.2-0.6 0.2-0.4 0.1z M381.2 67.8l-2 0-1-0.1-1-0.2-1-0.2-0.7-0.2-0.8-0.3-0.7-0.4-0.6-0.4-0.5-0.5-0.4-0.5-0.3-0.5-0.1-0.5 0-0.5 0.1-0.5 0.3-0.5 0.4-0.5 0.6-0.6 0.7-0.5 1-0.4 1-0.3 1.3-0.3 1.3-0.1 1.2 0 1.5 0.1 1.5 0.2 1.8 0.3 1.4 0.4 1.2 0.4 0.8 0.5 0.7 0.5 0.4 0.6 0.1 0.2 0.2 0.5 0 0.5-0.1 0.5-0.3 0.5-0.1 0.2-0.3 0.4-0.6 0.4-0.4 0.3-0.8 0.3-1.5 0.5-2.3 0.4-2 0.3z" fill="rgb(65,65,65)" stroke="#222" stroke-width="0.3"/>
<path d="M374.0 45.5l-0.8 0-1-0.1-0.7-0.1-0.9-0.3-0.8-0.4-0.7-0.4-0.7-0.4-0.5-0.6-0.4-0.4-0.5-0.8-0.2-0.6-0.2-0.6 0-0.8 0.1-0.5 0.3-0.5 0.4-0.5 0.4-0.3 0.4-0.2 0.8-0.3 1-0.1 0.5 0 0.7 0.1 1.2 0.3 1.1 0.5 0.8 0.5 0.8 0.8 0.5 0.4 0.3 0.6 0.3 0.4 0.2 0.6 0.1 0.4 0.1 0.6-0.1 0.7-0.3 0.7-0.4 0.6-0.3 0.2-0.5 0.3-0.5 0.1-0.5 0.1z M381.5 67.3l-1.7 0-1.8-0.1-0.9-0.2-0.9-0.2-1.2-0.6-0.5-0.3-0.6-0.4-0.4-0.5-0.3-0.5-0.1-0.5 0-0.5 0.1-0.5 0.1-0.2 0.4-0.6 0.5-0.4 0.8-0.5 0.8-0.4 1-0.3 1-0.2 1-0.1 1.2 0 1.2 0 1.3 0.2 1.5 0.3 1.2 0.3 1 0.3 0.8 0.4 0.7 0.4 0.4 0.6 0.2 0.2 0.1 0.5 0.1 0.3-0.1 0.4-0.2 0.5-0.1 0.3-0.3 0.3-0.6 0.4-1 0.5-1.2 0.4-1.8 0.4-1.7 0.3z" fill="rgb(55,55,55)" stroke="#222" stroke-width="0.3"/>
<path d="M373.8 44.8l-0.6 0.1-0.7 0-0.7-0.2-0.8-0.2-0.8-0.2-0.4-0.3-0.8-0.5-0.5-0.5-0.5-0.5-0.3-0.5-0.2-0.5-0.1-0.5 0-0.5 0-0.5 0.2-0.5 0.4-0.5 0.5-0.3 0.7-0.4 0.8-0.1 1 0 1 0.3 1 0.4 0.8 0.4 0.7 0.7 0.6 0.8 0.4 0.7 0.2 0.7 0 0.8-0.1 0.5-0.2 0.3-0.4 0.4-0.5 0.4-0.7 0.2z M382.0 66.8l-1.8 0.1-1 0-0.7-0.1-1.4-0.3-0.8-0.3-0.5-0.2-0.6-0.3-0.5-0.5-0.3-0.2-0.3-0.5-0.1-0.3-0.1-0.4 0.1-0.5 0.1-0.3 0.3-0.5 0.6-0.5 0.5-0.3 0.7-0.4 0.8-0.2 0.8-0.2 1-0.1 1-0.1 1.2 0 1 0.2 1 0.1 1.2 0.3 1 0.3 0.9 0.4 0.4 0.2 0.6 0.6 0.3 0.4 0.1 0.3 0 0.5-0.1 0.5-0.2 0.3-0.4 0.4-0.9 0.6-0.9 0.3-1.5 0.4-1.5 0.3z" fill="rgb(60,60,60)" stroke="#222" stroke-width="0.3"/>
<path d="M373.5 44.1l-0.5 0.1-0.5 0-0.5 0-0.8-0.2-0.6-0.2-0.5-0.3-0.6-0.4-0.4-0.3-0.3-0.5-0.3-0.3-0.2-0.5-0.1-0.5 0-0.5 0-0.3 0.3-0.4 0.2-0.3 0.5-0.4 0.6-0.2 0.7-0.1 0.7 0.1 0.8 0.2 0.8 0.3 0.5 0.4 0.6 0.4 0.4 0.6 0.4 0.7 0.2 0.5 0 0.5-0.1 0.5-0.3 0.5-0.5 0.4-0.5 0.2z M382.2 66.3l-1.4 0.1-1.6 0-1.2-0.2-1.2-0.3-0.6-0.3-0.4-0.3-0.5-0.3-0.2-0.2-0.1-0.3-0.2-0.5 0-0.2 0.1-0.6 0.1-0.2 0.4-0.5 0.6-0.5 0.6-0.2 0.7-0.3 0.7-0.2 0.8-0.1 1-0.1 1 0.1 1 0.1 1.2 0.2 1 0.2 0.8 0.3 0.6 0.2 0.6 0.5 0.3 0.3 0.3 0.5 0 0.5-0.1 0.5-0.5 0.5-0.8 0.5-0.7 0.3-1 0.2-1.3 0.3z" fill="rgb(80,80,80)" stroke="#222" stroke-width="0.3"/>
<path d="M372.8 43.3l-0.8 0-0.6-0.1-0.7-0.2-0.7-0.5-0.5-0.6-0.2-0.4-0.1-0.3 0-0.4 0.1-0.3 0.2-0.3 0.3-0.2 0.4-0.3 0.6 0 0.4 0 0.6 0.1 0.4 0.2 0.8 0.5 0.5 0.5 0.2 0.5 0.1 0.5 0 0.2 0 0.3-0.3 0.4-0.3 0.2-0.4 0.2z M380.8 66.0l-1.3 0-1-0.1-1-0.3-0.8-0.4-0.7-0.4-0.3-0.6-0.1-0.4 0.1-0.6 0.3-0.3 0.4-0.4 0.4-0.3 0.6-0.2 1.1-0.3 0.7-0.1 0.8 0 0.8 0 1 0.1 0.7 0.1 1 0.3 0.5 0.1 0.8 0.4 0.4 0.3 0.4 0.3 0.1 0.3 0.1 0.3 0 0.2-0.1 0.2-0.2 0.3-0.2 0.3-0.4 0.2-0.9 0.4-1 0.3-1.2 0.2-1 0.1z" fill="rgb(115,115,115)" stroke="#222" stroke-width="0.3"/>
<path d="M372.0 42.1l-0.2 0-0.6-0.1-0.3-0.2-0.1-0.3 0-0.3 0.1-0.2 0.3-0.1 0.3 0 0.3 0.1 0.3 0.2 0.2 0.3 0 0.3-0.2 0.2-0.1 0.1z M382.2 65.5l-1.2 0.2-1 0-1-0.1-1-0.2-0.4-0.2-0.5-0.2-0.4-0.2-0.2-0.3-0.2-0.5-0.1-0.2 0.1-0.3 0.2-0.4 0.3-0.3 0.4-0.3 0.3-0.1 0.5-0.2 0.7-0.2 1.1-0.1 1.4 0 1.7 0.3 0.8 0.3 0.5 0.3 0.4 0.2 0.3 0.2 0.2 0.3 0 0.3 0 0.2-0.1 0.2-0.2 0.3-0.3 0.3-0.5 0.2-0.7 0.2-1.1 0.3z" fill="rgb(160,160,160)" stroke="#222" stroke-width="0.3"/>
<path d="M381.8 65.0l-1 0.1-0.8 0-1-0.1-0.5-0.2-0.3-0.1-0.3-0.2-0.3-0.3-0.1-0.2-0.1-0.2 0.1-0.3 0.2-0.3 0.3-0.2 0.5-0.2 1-0.3 0.7 0 1 0 1.1 0.3 0.8 0.2 0.4 0.2 0.3 0.3 0.1 0.3 0 0.2-0.2 0.2-0.2 0.2-0.7 0.4-1 0.2z" fill="rgb(215,215,215)" stroke="#222" stroke-width="0.3"/>
<rect x="362.5" y="29.4" width="27.1" height="44.8" fill="none" stroke="#5a4d96" stroke-width="0.9" />
<rect x="361" y="27.2" width="48" height="48.0" fill="none" stroke="#231f20" stroke-width="1.1" />
<text x="355.8" y="77.0" font-size="4.6" text-anchor="end" textLength="7.92" lengthAdjust="spacingAndGlyphs" fill="#6f6f6f" >-10<tspan font-size="3" dy="-1.8">3</tspan></text>
<text x="355.8" y="67.0" font-size="4.6" text-anchor="end" textLength="2.2" lengthAdjust="spacingAndGlyphs" fill="#6f6f6f" >0</text>
<text x="355.8" y="57.800000000000004" font-size="4.6" text-anchor="end" textLength="6.6" lengthAdjust="spacingAndGlyphs" fill="#6f6f6f" >10<tspan font-size="3" dy="-1.8">3</tspan></text>
<text x="355.8" y="45.800000000000004" font-size="4.6" text-anchor="end" textLength="6.6" lengthAdjust="spacingAndGlyphs" fill="#6f6f6f" >10<tspan font-size="3" dy="-1.8">4</tspan></text>
<text x="355.8" y="33.6" font-size="4.6" text-anchor="end" textLength="6.6" lengthAdjust="spacingAndGlyphs" fill="#6f6f6f" >10<tspan font-size="3" dy="-1.8">5</tspan></text>
<rect x="358.4" y="61.5" width="2.6" height="4.0" fill="#231f20"/>
<text x="368.5" y="83.60000000000001" font-size="4.6" text-anchor="middle" fill="#6f6f6f" >0</text>
<text x="381" y="83.60000000000001" font-size="4.6" text-anchor="middle" fill="#6f6f6f" >10<tspan font-size="3" dy="-1.8">3</tspan></text>
<text x="392.5" y="83.60000000000001" font-size="4.6" text-anchor="middle" fill="#6f6f6f" >10<tspan font-size="3" dy="-1.8">4</tspan></text>
<text x="404" y="83.60000000000001" font-size="4.6" text-anchor="middle" fill="#6f6f6f" >10<tspan font-size="3" dy="-1.8">5</tspan></text>
<rect x="363" y="75.2" width="7" height="2.2" fill="#231f20"/>
<text x="346.5" y="51.2" font-size="7.8" text-anchor="middle" fill="#231f20" transform="rotate(-90 346.5 51.2)" textLength="17" lengthAdjust="spacingAndGlyphs">CD27</text>
<text x="384.8" y="94.3" font-size="7.8" text-anchor="middle" textLength="16.3" lengthAdjust="spacingAndGlyphs" fill="#231f20" >CD38</text>
<path d="M418.3 55.4 L411.90000000000003 52.699999999999996 L413.7 55.4 L411.90000000000003 58.1 Z" fill="#4b3c82"/>
<circle cx="502.5" cy="87.1" r="0.35" fill="#999"/>
<circle cx="481.8" cy="59.6" r="0.35" fill="#999"/>
<circle cx="496.9" cy="82.3" r="0.35" fill="#999"/>
<circle cx="487.3" cy="53.1" r="0.35" fill="#999"/>
<circle cx="487.5" cy="72.7" r="0.35" fill="#999"/>
<circle cx="502.6" cy="62.7" r="0.35" fill="#999"/>
<circle cx="491.0" cy="62.8" r="0.35" fill="#999"/>
<circle cx="490.5" cy="63.8" r="0.35" fill="#999"/>
<circle cx="482.5" cy="67.5" r="0.35" fill="#999"/>
<circle cx="509.2" cy="63.6" r="0.35" fill="#999"/>
<circle cx="502.4" cy="52.2" r="0.35" fill="#999"/>
<circle cx="500.7" cy="79.0" r="0.35" fill="#999"/>
<circle cx="500.2" cy="68.3" r="0.35" fill="#999"/>
<circle cx="494.5" cy="73.9" r="0.35" fill="#999"/>
<circle cx="506.9" cy="51.7" r="0.35" fill="#999"/>
<circle cx="482.9" cy="78.7" r="0.35" fill="#999"/>
<circle cx="507.5" cy="68.3" r="0.35" fill="#999"/>
<circle cx="493.3" cy="77.4" r="0.35" fill="#999"/>
<circle cx="485.6" cy="57.0" r="0.35" fill="#999"/>
<circle cx="486.0" cy="71.4" r="0.35" fill="#999"/>
<circle cx="489.4" cy="55.5" r="0.35" fill="#999"/>
<circle cx="500.7" cy="87.9" r="0.35" fill="#999"/>
<circle cx="488.9" cy="76.7" r="0.35" fill="#999"/>
<circle cx="492.4" cy="83.4" r="0.35" fill="#999"/>
<circle cx="497.5" cy="57.0" r="0.35" fill="#999"/>
<circle cx="486.5" cy="46.0" r="0.35" fill="#999"/>
<circle cx="494.4" cy="62.2" r="0.35" fill="#999"/>
<circle cx="485.2" cy="61.2" r="0.35" fill="#999"/>
<circle cx="489.7" cy="79.8" r="0.35" fill="#999"/>
<circle cx="484.3" cy="89.6" r="0.35" fill="#999"/>
<circle cx="494.4" cy="72.0" r="0.35" fill="#999"/>
<circle cx="494.0" cy="82.6" r="0.35" fill="#999"/>
<circle cx="504.6" cy="70.1" r="0.35" fill="#999"/>
<circle cx="494.4" cy="77.4" r="0.35" fill="#999"/>
<circle cx="505.7" cy="63.0" r="0.35" fill="#999"/>
<circle cx="502.0" cy="88.2" r="0.35" fill="#999"/>
<circle cx="494.0" cy="55.3" r="0.35" fill="#999"/>
<circle cx="487.0" cy="77.3" r="0.35" fill="#999"/>
<circle cx="500.3" cy="88.1" r="0.35" fill="#999"/>
<circle cx="505.6" cy="55.9" r="0.35" fill="#999"/>
<circle cx="485.7" cy="56.6" r="0.35" fill="#999"/>
<circle cx="485.6" cy="76.7" r="0.35" fill="#999"/>
<circle cx="505.8" cy="85.5" r="0.35" fill="#999"/>
<circle cx="487.7" cy="83.9" r="0.35" fill="#999"/>
<circle cx="489.4" cy="64.0" r="0.35" fill="#999"/>
<circle cx="501.9" cy="48.9" r="0.35" fill="#999"/>
<circle cx="482.8" cy="82.5" r="0.35" fill="#999"/>
<circle cx="488.8" cy="61.0" r="0.35" fill="#999"/>
<circle cx="497.4" cy="75.4" r="0.35" fill="#999"/>
<circle cx="480.2" cy="60.1" r="0.35" fill="#999"/>
<circle cx="493.1" cy="66.9" r="0.35" fill="#999"/>
<circle cx="486.3" cy="71.3" r="0.35" fill="#999"/>
<circle cx="508.7" cy="62.6" r="0.35" fill="#999"/>
<circle cx="496.3" cy="50.4" r="0.35" fill="#999"/>
<circle cx="488.2" cy="74.9" r="0.35" fill="#999"/>
<circle cx="483.4" cy="84.9" r="0.35" fill="#999"/>
<circle cx="507.3" cy="49.4" r="0.35" fill="#999"/>
<circle cx="508.2" cy="61.8" r="0.35" fill="#999"/>
<circle cx="503.2" cy="79.1" r="0.35" fill="#999"/>
<circle cx="488.9" cy="75.4" r="0.35" fill="#999"/>
<circle cx="499.6" cy="81.3" r="0.35" fill="#999"/>
<circle cx="488.0" cy="78.9" r="0.35" fill="#999"/>
<circle cx="508.8" cy="75.3" r="0.35" fill="#999"/>
<circle cx="496.1" cy="50.1" r="0.35" fill="#999"/>
<circle cx="494.8" cy="60.8" r="0.35" fill="#999"/>
<circle cx="501.5" cy="75.5" r="0.35" fill="#999"/>
<circle cx="497.0" cy="53.2" r="0.35" fill="#999"/>
<circle cx="499.4" cy="73.4" r="0.35" fill="#999"/>
<circle cx="485.4" cy="85.0" r="0.35" fill="#999"/>
<circle cx="499.7" cy="50.5" r="0.35" fill="#999"/>
<path d="M466.0 88.5l-1.5 0.2-1.5 0-1.5 0-1.3-0.1-1.4-0.2-1.3-0.3-1.5-0.5-1.2-0.4-1.3-0.6-1-0.6-1-0.8-0.7-0.6-0.8-0.8-0.5-0.8-0.4-0.8-0.4-1-0.2-0.7-0.1-0.7 0-0.8 0.1-0.5 0.1-0.5 0.3-0.8 0.3-0.7 0.5-0.7 0.5-0.8 0.5-0.5 1.1-0.9 1-0.8 2.1-1.3 0.7-0.5 0.4-0.5 0.2-0.5 0-0.2-0.2-0.6-1.2-2.4-0.4-1-0.3-1-0.3-1-0.2-1.3-0.5-3.7-0.1-0.8-0.2-0.8-0.6-1.1-1.3-2.3-0.8-1.6-0.5-1.4-0.2-1.3-0.2-1.3 0.1-1 0.1-1 0.2-1 0.3-1 0.4-1 0.6-1 0.7-1 0.9-1 1.3-1.1 1.4-1 1.6-0.8 1.7-0.6 1.5-0.4 1.8-0.2 1.7-0.1 1.5 0.1 1.5 0.2 1.3 0.3 3.4 0.9 1.9 0.3 1.9 0 5.5-0.2 3.7 0 4.3 0.3 2.5 0.2 2 0.3 1.5 0.2 1.3 0.3 1 0.3 1.4 0.4 1.3 0.5 1 0.5 1.3 0.8 0.8 0.6 0.6 0.5 0.5 0.5 0.3 0.5 0.3 0.5 0.2 0.5 0.1 0.5 0 0.5-0.1 0.5-0.3 1.2-1.3 3.6-0.4 1-0.4 0.7-0.6 0.7-0.5 0.7-0.5 0.4-0.7 0.5-1 0.4-1 0.3-1 0-0.8-0.1-0.5-0.1-1-0.3-1-0.6-2-1.4-0.5-0.3-0.5-0.1-0.7-0.1-0.6 0.1-0.2 0.1-0.4 0.3-0.4 0.5-0.1 0.5 0 0.8 0.4 4.4 0.1 1.6 0 1.7-0.1 3.3-0.4 3.2-0.7 4.5-0.2 1.3-0.4 1.2-0.4 1.2-0.5 1-0.5 1-0.7 1-0.7 0.8-0.7 0.8-0.8 0.7-1 0.8-1 0.7-1 0.6-1 0.6-1 0.4-2 0.8-2.5 0.7-2 0.5-2.2 0.5-2.8 0.4z M478.0 66.0l0.5-0.2 0.3-0.3 0.2-0.5 0.2-0.8 0.1-1 0.2-4 0.3-4.4 0-0.6 0-0.3-0.2-0.4-0.2-0.3-0.3-0.2-0.3-0.1-0.8-0.1-0.5 0-0.7 0.2-0.6 0.2-0.4 0.4-0.8 0.6-2 2-2.4 2-0.8 0.8-0.3 0.5-0.3 0.4-0.2 0.6-0.2 0.5-0.3 1.8-0.1 1.4 0.1 0.8 0 0.2 0.2 0.3 0.3 0.3 0.5 0.1 0.7 0.1 2.3-0.2 1.3 0 1.2 0 2.2 0.3 0.8-0.1z" fill="rgb(250,250,250)" stroke="#222" stroke-width="0.36"/>
<path d="M465.2 87.8l-1.2 0.1-1.5 0-1.3-0.1-1.4-0.1-1.6-0.3-1-0.3-1-0.3-1-0.4-1-0.5-1-0.6-0.7-0.6-0.8-0.7-0.7-0.8-0.5-0.7-0.3-0.7-0.3-0.8-0.2-0.8 0-0.7 0-0.5 0.1-0.8 0.3-0.7 0.2-0.5 0.4-0.8 0.3-0.4 0.9-1 1.1-0.9 1.5-1 3.1-1.7 0.6-0.4 0.2-0.3 0.1-0.3 0-0.2-0.2-0.5-1.2-1.5-0.5-0.8-0.6-1-0.4-1-0.4-1.2-0.3-1.2-0.3-1.6-0.3-2.7-0.3-1.4-0.5-1.2-1.4-2.4-0.7-1.5-0.5-1.2-0.2-1-0.1-1-0.1-1 0.1-1 0.2-1 0.3-1 0.3-0.8 0.5-1 0.7-1 0.9-1.1 1.3-1 1-0.7 1.4-0.8 1.6-0.6 1.4-0.4 1.6-0.2 1.4-0.1 1.6 0.1 1.4 0.2 1.3 0.3 3.3 0.8 1.1 0.3 1.1 0.1 1.8 0 5.2-0.3 3.5 0 4 0.2 3.5 0.3 1.8 0.2 2 0.4 1 0.2 1.2 0.4 0.8 0.3 1 0.5 1.2 0.8 0.9 0.9 0.4 0.4 0.4 0.6 0.2 0.4 0.2 0.6 0.1 0.4 0.1 0.8-0.1 1-0.2 1-0.3 1.5-0.3 1-0.3 0.7-0.4 0.8-0.5 0.5-0.4 0.5-0.8 0.5-0.5 0.3-0.5 0.1-0.8 0.1-1 0-0.7-0.2-0.7-0.3-0.8-0.5-1.4-1-0.6-0.3-0.5-0.2-0.5-0.1-1-0.2-1 0.1-1 0.3-0.4 0.2-0.3 0.2-0.4 0.5-0.2 0.5-0.1 0.8 0.8 4.2 0.1 1.8 0.1 1.4 0 1.6-0.1 1.4-0.1 1.6-0.2 1.4-0.3 2-0.5 2-0.6 2.3-0.5 1.7-0.5 1.3-0.4 1-0.8 1.3-0.7 1-1.2 1.4-0.8 0.8-0.9 0.7-0.8 0.6-1 0.6-1.7 0.9-2.3 0.9-3.2 0.9-3.2 0.8-2.6 0.4z M479.4 67.8l0.4-0.3 0.2-0.4 0.2-0.6 0.1-0.5 0.1-1.2 0-3.6 0.1-1.7 0.2-2 0.6-3.3 0-0.4 0-0.6-0.2-0.4-0.1-0.3-0.5-0.4-0.5-0.3-0.5-0.1-0.7-0.2-0.8 0-0.8 0.1-0.7 0.1-0.5 0.2-0.5 0.3-0.5 0.3-0.8 0.7-2 2.1-1 0.9-1.9 1.6-0.5 0.4-0.3 0.5-0.5 0.8-0.3 1-0.6 3-0.6 2.5-0.1 1 0 0.2 0.1 0.3 0.3 0.2 0.2 0.1 0.5 0.1 1-0.1 3-0.5 1.7-0.1 1 0 1 0.1 3.3 0.6 0.5 0 0.4-0.1z" fill="rgb(245,245,245)" stroke="#222" stroke-width="0.36"/>
<path d="M465.0 87.3l-1.5 0.1-1.7 0-1.8-0.2-1.5-0.3-1.3-0.3-1.2-0.5-1.5-0.7-1-0.7-1-0.8-0.8-0.9-0.6-1-0.4-1-0.2-1 0-1 0.2-1 0.4-1 0.6-1 0.7-0.8 0.8-0.7 1.3-0.9 1.7-0.9 3.9-1.7 1.9-0.9 0.5-0.2 1.7-0.2 1.3-0.1 4.7-1.2 1.3-0.2 1.3-0.1 1.4 0 1.6 0.2 1 0.2 2 0.7 0.7 0.1 0.5 0 0.2 0 0.3-0.1 0.3-0.2 0.2-0.4 0.1-0.4 0.2-1-0.2-5.2 0.1-1.5 0.1-1.5 0.2-1.2 0.3-1.3 0.3-1 0.7-2 0-0.5 0-0.2-0.2-0.6-0.3-0.2-0.7-0.5-0.5-0.3-0.6-0.1-1-0.2-1.5-0.2-1.2 0.1-1 0.3-0.6 0.2-0.4 0.3-0.8 0.7-2.3 2.5-0.9 0.8-2.3 1.8-0.5 0.6-0.4 0.5-0.4 0.7-0.2 0.7-0.7 3.1-0.3 1-0.3 1-0.3 0.8-0.5 1-0.4 0.6-0.5 0.7-0.8 0.7-0.7 0.5-0.3 0.1-0.4 0-1-0.2-0.8-0.3-0.5-0.3-0.7-0.5-0.6-0.4-0.4-0.6-0.5-0.6-0.8-1.3-0.5-1.2-0.4-1.5-0.2-1.5-0.3-2.8-0.1-0.7-0.2-0.7-0.6-1.3-1.3-2.3-0.5-1-0.5-1-0.2-0.7-0.2-1-0.1-1-0.1-1 0.2-1 0.2-1 0.4-1.3 0.6-1 0.5-0.7 0.8-1 1-0.9 1-0.7 1.2-0.7 1.3-0.6 1.5-0.4 1.5-0.3 1.5-0.1 1.5 0.1 1.5 0.2 1.5 0.3 3.3 0.9 1.1 0.2 1.1 0.1 1.8 0 5-0.3 3.2 0 2.5 0.1 7 0.5 1.7 0.2 1.8 0.5 0.8 0.3 0.7 0.3 0.7 0.5 0.6 0.3 0.8 0.8 0.5 0.4 0.3 0.6 0.3 0.4 0.2 0.6 0.1 0.4 0 0.8 0 0.8-0.1 1.2-0.3 1.2-0.2 0.8-0.3 0.8-0.3 0.4-0.3 0.6-0.5 0.4-0.5 0.3-0.7 0.3-0.8 0.1-0.8 0-0.7-0.3-0.5-0.2-1.8-1.1-0.7-0.3-0.6-0.2-0.9-0.2-0.8-0.1-0.7 0-1.3 0.1-0.5 0.2-0.7 0.2-0.5 0.2-0.8 0.6-0.4 0.4-0.1 0.3-0.1 0.3 0 0.4 0.2 0.6 0.6 1.7 0.3 1 0.3 1.3 0.2 1.4 0.1 1.6 0 1.4 0 1.6-0.2 1.7-0.3 1.7-0.4 1.8-0.4 1.2-1.1 3-0.8 2.8-0.5 1.2-0.5 1-0.4 0.8-0.7 1-1.1 1.2-0.6 0.6-0.8 0.7-1.5 1-1.7 0.9-1.3 0.5-1.5 0.5-3.2 1-2.6 0.5-2.2 0.4z" fill="rgb(238,238,238)" stroke="#222" stroke-width="0.36"/>
<path d="M462.0 67.8l-0.5 0.1-0.7 0-0.8-0.2-0.5-0.2-0.7-0.6-0.6-0.4-0.5-0.7-0.5-0.8-0.6-1.2-0.4-1.6-0.2-1.2-0.3-2.8-0.1-0.7-0.2-0.7-0.3-0.8-0.3-0.7-1.4-2.3-0.5-1-0.5-1.2-0.3-1-0.2-1.6 0.1-1.2 0.2-1.2 0.5-1.3 0.7-1.3 0.8-1.1 1-1 1.3-0.9 1.5-0.8 1.5-0.5 1-0.3 1-0.2 1.7-0.1 1.6 0.1 1.4 0.2 1.3 0.3 3.5 1 1 0.2 1 0.1 1.8 0 4.4-0.3 3-0.1 2 0 7.6 0.4 1.4 0.2 1.3 0.2 1 0.3 1.3 0.5 1 0.5 0.7 0.6 0.5 0.5 0.6 0.8 0.2 0.4 0.2 0.6 0.1 0.4 0.1 0.6-0.1 1.2-0.3 1.8-0.4 1.2-0.4 0.8-0.5 0.4-0.3 0.2-0.2 0.2-0.5 0.2-0.5 0.1-0.8-0.1-0.7-0.2-1.7-0.8-0.8-0.4-1.2-0.2-1.6-0.2-1.4 0-1.3 0.2-1.2 0.3-1.5 0.5-0.8 0.2-0.8-0.1-2-0.5-1-0.2-1-0.2-1 0-1 0-1 0.1-0.7 0.2-0.7 0.4-0.6 0.3-0.4 0.5-1.6 1.8-1 1-1 0.8-2.1 1.7-0.5 0.5-0.4 0.5-0.4 0.7-0.3 0.6-0.3 0.9-0.3 1.8-0.3 1.2-0.4 1-0.4 1-0.7 1-0.6 0.7-0.7 0.6-0.8 0.3z M483.5 70.1l-0.3 0-0.2-0.2-0.2-0.6-0.3-1-0.3-1.8-0.2-1.7-0.2-1.8 0-1.5 0.1-1.3 0.1-1 0.2-1.1 0.3-0.9 0.3-0.7 0.4-0.7 0.3-0.3 0.3-0.1 0.2-0.1 0.2 0.1 0.3 0.1 0.3 0.3 0.2 0.3 0.2 0.5 0.4 0.9 0.3 1.3 0.2 1.2 0 1.2 0.1 1.6-0.2 1.4-0.1 1.3-0.3 1.3-0.4 1-0.2 0.5-0.5 0.9-0.5 0.6-0.2 0.2-0.3 0.1z M463.0 87.0l-1.8-0.1-1.7-0.2-1.5-0.3-1.5-0.5-1.5-0.7-1-0.7-1-0.8-0.8-0.9-0.6-1-0.4-1-0.2-1 0.1-0.8 0-0.5 0.4-1 0.5-1 0.8-1 1-0.8 1.2-0.9 1.2-0.6 1.3-0.6 2-0.7 2-0.6 3.8-0.8 3.9-1.2 1.3-0.3 1.3-0.2 1.2 0 1 0 1 0.1 1.2 0.3 1 0.3 1 0.4 2 0.9 1.6 0.6 0.4 0.4 0.2 0.2 0.1 0.5 0.1 0.7 0 0.8 0 0.8-0.1 1-0.5 1.4-0.3 0.8-0.3 0.8-0.9 1.2-0.8 1-1.2 1.1-0.7 0.5-0.8 0.5-1.5 0.8-1.7 0.7-2.3 0.8-2.5 0.7-2.2 0.5-2 0.3-1.8 0.1z" fill="rgb(230,230,230)" stroke="#222" stroke-width="0.36"/>
<path d="M461.5 66.8l-0.5 0-0.5-0.1-0.5-0.1-0.6-0.4-0.4-0.2-0.5-0.5-0.5-0.7-0.4-0.6-0.4-1-0.3-1.2-0.3-1.2-0.3-2.8-0.1-0.8-0.2-0.7-0.2-0.6-0.4-0.7-1.5-2.4-0.5-1-0.5-1.3-0.2-1-0.2-1.3 0.1-1.2 0.2-1.2 0.5-1.3 0.7-1.3 0.8-1 1-0.8 1.2-0.9 1.2-0.6 1.6-0.6 0.7-0.2 1-0.2 1.7-0.1 1.6 0.1 1.4 0.3 1.3 0.3 3.5 1 1 0.2 1 0.1 1.8 0 4.4-0.4 2.6-0.1 2 0.1 3.7 0.2 4.5 0 1.2 0.2 1 0.2 1.3 0.3 0.7 0.3 0.8 0.4 0.8 0.6 0.7 0.6 0.3 0.6 0.4 0.7 0.1 0.5 0.1 0.5 0 1-0.2 1-0.4 1.2-0.6 0.9-0.4 0.5-0.3 0.2-0.5 0.2-0.5 0.1-0.5-0.1-2-0.5-1.5-0.3-1.7-0.1-1.6-0.1-1.7 0.1-2.7 0.5-1 0.1-1-0.1-3.3-0.4-1.3-0.1-1.2 0-1.3 0.2-0.7 0.2-0.5 0.3-0.5 0.3-0.5 0.5-1.9 2.1-0.8 1-1 0.8-2.3 1.8-0.5 0.4-0.4 0.6-0.4 0.4-0.3 0.8-0.2 0.8-0.5 2-0.2 1-0.4 1-0.4 0.7-0.4 0.8-0.8 0.8-0.8 0.4-0.7 0.3z M484.0 66.1l-0.2-0.1-0.3-0.2-0.3-0.5-0.1-0.3-0.1-0.5-0.2-1 0-1.5 0.1-1.5 0.1-0.7 0.2-0.6 0.3-0.7 0.3-0.2 0.2-0.1 0.2 0.1 0.3 0.2 0.3 0.7 0.2 0.6 0.1 0.7 0.1 1.5-0.1 1.5-0.2 1.3-0.1 0.4-0.3 0.5-0.3 0.2-0.2 0.2z M465.0 86.5l-1.5 0.1-1.7 0-1.8-0.2-1.2-0.2-1.3-0.4-1.5-0.6-1.2-0.7-1-0.7-0.8-0.8-0.7-1-0.5-1-0.2-1 0-1 0.2-1 0.5-1 0.3-0.5 0.4-0.5 1-1 1-0.7 1.2-0.7 1.8-0.7 1.5-0.5 1-0.3 4.4-0.9 4.6-1.3 1.7-0.4 1.3-0.1 1.3 0 1.2 0.2 1 0.2 1.2 0.5 1 0.5 1.1 0.7 0.9 0.7 0.6 0.8 0.2 0.5 0.2 0.5 0.1 0.5 0.1 0.7 0 0.6-0.1 0.7-0.4 1.3-0.6 1.2-0.4 0.8-0.4 0.4-1 1-1 0.9-1.3 0.8-1.4 0.7-1.8 0.8-2.2 0.8-2.3 0.6-1.5 0.4-2 0.3z" fill="rgb(222,222,222)" stroke="#222" stroke-width="0.36"/>
<path d="M462.0 65.5l-0.5 0.2-0.5 0-0.5 0-0.5-0.2-0.5-0.3-0.5-0.4-0.4-0.6-0.4-0.4-0.4-1-0.4-1.3-0.1-1-0.3-2.5-0.2-0.8-0.2-0.7-0.6-1.3-1.4-2.2-0.6-1.2-0.5-1.3-0.3-1-0.1-1.3 0-1.2 0.3-1.2 0.4-1 0.4-0.8 0.3-0.5 0.7-1 1-0.9 1-0.7 0.8-0.4 0.8-0.3 1.4-0.5 1.6-0.3 1.4-0.1 1.6 0.1 1.4 0.2 1.3 0.3 3.7 1.2 1 0.2 1 0.1 1.6 0 4-0.4 2.7-0.1 2 0 3.7 0.1 3.6 0 1.4 0 1 0.1 1 0.2 1 0.3 0.8 0.4 0.8 0.4 0.7 0.6 0.5 0.5 0.3 0.5 0.3 0.8 0.2 0.7-0.1 0.7-0.3 1-0.4 0.9-0.5 0.6-0.5 0.4-0.8 0.3-0.7 0.1-0.7-0.1-4.8-0.3-1.8-0.1-1.2 0.1-2.5 0.4-1 0-1-0.1-3.5-0.3-2-0.1-0.8 0-0.7 0.2-0.7 0.2-0.6 0.3-0.4 0.3-0.6 0.5-1.8 2.3-1.2 1.2-1 0.8-2.2 1.7-0.6 0.5-0.4 0.5-0.5 0.7-0.3 0.7-0.2 0.9-0.5 2.2-0.3 0.8-0.3 0.7-0.4 0.7-0.5 0.6-0.5 0.4-0.5 0.3z M464.0 86.3l-1.5 0-1.7-0.1-1.6-0.3-1.2-0.3-1.2-0.5-1.3-0.6-1-0.7-0.9-0.8-0.4-0.5-0.4-0.5-0.3-0.8-0.3-1-0.1-1 0.2-1 0.4-1 0.5-0.7 0.8-0.9 1-0.8 1-0.6 1.2-0.6 1.3-0.5 2-0.5 4.5-0.9 1-0.2 3.8-1.1 1.7-0.3 1.3-0.1 1 0.1 1 0.1 1 0.3 1 0.3 0.8 0.4 0.9 0.7 0.6 0.6 0.6 0.7 0.3 0.6 0.2 0.4 0.3 1 0 0.6-0.1 0.7 0 0.5-0.3 0.8-0.4 1-0.3 0.4-0.5 0.8-1 1-1.1 0.9-1.3 0.8-1.7 0.9-2 0.8-2.3 0.8-1.7 0.5-2 0.4-1.8 0.2z" fill="rgb(212,212,212)" stroke="#222" stroke-width="0.36"/>
<path d="M461.2 64.3l-0.4 0-0.3-0.1-0.5-0.2-0.2-0.2-0.6-0.5-0.4-0.8-0.3-0.7-0.2-0.8-0.5-3.2-0.3-1.3-0.7-1.3-1.4-2.2-0.8-1.2-0.5-1.3-0.2-0.7-0.1-0.8-0.1-1 0.1-1.2 0.3-1.3 0.5-1 0.6-1 0.8-0.9 1-0.8 1-0.7 1.2-0.5 1.3-0.4 1.3-0.3 1.4-0.1 1.6 0.1 1.4 0.3 1.6 0.4 3.7 1.3 1 0.2 1 0.1 1.5 0 3.5-0.4 2.3-0.2 2 0 4 0.1 4-0.3 1.4 0.1 1 0.1 0.8 0.1 0.8 0.2 0.7 0.3 0.7 0.5 0.5 0.3 0.5 0.5 0.4 0.5 0.2 0.5 0.2 0.7-0.1 0.8-0.2 0.8-0.5 0.6-0.4 0.5-0.8 0.5-0.8 0.2-1 0.1-1.4 0.1-1.6-0.1-2.7-0.3-1 0-1 0-2.3 0.3-1 0-1.2-0.1-4-0.3-1.5-0.1-0.7 0.1-0.6 0-0.4 0.2-0.6 0.2-0.7 0.5-0.5 0.5-2 2.5-1.1 1.3-1.1 1-2.6 1.7-0.6 0.6-0.4 0.4-0.4 0.6-0.3 0.7-0.3 0.7-0.5 2.3-0.3 0.7-0.3 0.6-0.3 0.5-0.6 0.5-0.4 0.3-0.6 0.2z M465.0 85.8l-1.2 0.1-1.6 0-1.2-0.1-1.5-0.2-1.5-0.4-1.2-0.5-1-0.6-1-0.7-0.9-0.9-0.6-0.7-0.2-0.6-0.2-0.4-0.2-0.8 0-0.8 0.2-1 0.2-0.4 0.2-0.6 0.6-0.7 0.9-0.9 1-0.7 1.2-0.7 1.5-0.6 1.3-0.4 1.2-0.3 3.8-0.6 1.2-0.2 3.5-0.9 1.3-0.3 1.2-0.1 1 0 1 0.1 1 0.2 1 0.3 0.7 0.4 0.8 0.4 0.5 0.6 0.7 0.7 0.3 0.5 0.2 0.5 0.1 0.5 0.1 0.5 0.1 1-0.2 1-0.4 1-0.6 1-0.9 1-0.9 0.8-1.3 0.8-1.2 0.7-1.8 0.8-2 0.8-2 0.7-1.4 0.4-1.8 0.3z" fill="rgb(200,200,200)" stroke="#222" stroke-width="0.36"/>
<path d="M461.2 62.8l-0.4 0-0.6-0.3-0.4-0.5-0.3-0.4-0.3-0.6-0.1-0.5-0.4-2.5-0.4-1.2-0.6-1.3-1.8-2.5-0.7-1.2-0.6-1.3-0.2-0.7-0.1-0.8-0.1-1 0.1-1.2 0.4-1.3 0.4-1 0.7-1 0.7-0.7 1-0.8 1-0.6 0.7-0.4 0.8-0.2 1.5-0.4 1.5-0.1 1.5 0 1.5 0.3 1.2 0.3 1.3 0.4 2.5 1.1 1 0.3 1 0.2 1 0.1 1.2-0.1 3.3-0.5 2-0.2 2 0 4 0.1 1-0.1 3-0.4 1 0 1 0 0.7 0.1 1 0.2 0.8 0.3 0.5 0.3 0.5 0.3 0.5 0.4 0.3 0.4 0.3 0.4 0.2 0.6 0.1 0.7-0.2 0.7-0.2 0.6-0.5 0.5-0.6 0.5-0.9 0.3-0.8 0.1-1.2 0.2-1.2-0.1-1.6-0.1-2.2-0.3-1-0.1-1 0.1-2.2 0.1-1.3 0-6.3-0.5-1 0-0.4 0.1-0.6 0.2-0.7 0.5-0.5 0.5-0.5 0.6-1.9 2.6-1.1 1.2-1.3 1.1-2.9 1.9-0.8 0.8-0.4 0.5-0.4 0.7-0.3 0.8-0.5 1.8-0.4 0.9-0.3 0.4-0.2 0.2-0.2 0.2-0.6 0.3z M464.5 85.5l-1.5 0.1-1.2 0-1.6-0.2-1.2-0.3-1.2-0.4-1-0.4-1-0.6-0.9-0.7-0.7-0.8-0.5-0.7-0.3-0.7-0.1-0.6-0.1-0.4 0-0.6 0.1-0.4 0.2-0.8 0.2-0.5 0.3-0.5 0.6-0.8 0.9-0.7 1-0.7 1.3-0.6 1.4-0.5 1.3-0.3 1-0.2 4.7-0.7 3.6-0.8 1.2-0.2 1-0.1 1 0 1 0.1 0.8 0.2 0.7 0.2 0.7 0.4 0.7 0.5 0.6 0.4 0.6 0.8 0.3 0.8 0.2 0.4 0.1 0.6 0 1-0.2 1-0.5 1-0.7 1-0.7 0.7-1.1 0.9-1.3 0.8-1.4 0.7-1.8 0.8-1.8 0.7-1.7 0.5-1.7 0.4-1.3 0.2z" fill="rgb(188,188,188)" stroke="#222" stroke-width="0.36"/>
<path d="M461.2 60.1l-0.2 0.1-0.2-0.2-0.3-0.2-0.3-0.6-0.6-1.7-0.5-1-0.7-1-1.9-2.5-0.8-1.2-0.4-0.8-0.3-0.8-0.2-0.7-0.1-0.7 0-1.3 0.1-1 0.4-1 0.5-1 0.7-1 0.8-0.7 1-0.8 1-0.5 0.8-0.3 0.8-0.2 1.4-0.3 1.6 0 1.4 0.1 1.3 0.3 1.5 0.5 1.2 0.6 2.6 1.2 1 0.4 0.7 0.2 0.7 0.1 0.6 0 0.4-0.1 3-0.7 1.8-0.3 2.2-0.1 3 0 1 0 1-0.1 2.3-0.4 1-0.2 1-0.1 1 0.1 0.7 0.1 0.8 0.1 0.8 0.3 0.4 0.3 0.6 0.3 0.4 0.5 0.2 0.2 0.3 0.5 0.1 0.5 0 0.5 0 0.3-0.2 0.4-0.4 0.6-0.4 0.4-0.8 0.4-0.8 0.2-1 0.1-1 0.1-1.2-0.1-1.2-0.2-2.3-0.4-1-0.1-1 0-2.5 0.1-1.8-0.1-1.7-0.2-3.7-0.6-0.8 0-0.8 0.2-0.7 0.5-0.7 0.9-0.6 0.7-1.6 2.5-0.6 0.8-0.5 0.6-0.7 0.6-0.8 0.7-1 0.7-2.3 1.4-1 0.8-0.5 0.4-0.4 0.6-0.5 0.7-0.5 1.1-0.3 0.3-0.3 0.2z M464.0 85.3l-1.2 0-1.3 0-1.3-0.2-1.2-0.3-1.2-0.4-1-0.5-1-0.7-0.8-0.6-0.7-0.8-0.3-0.8-0.3-0.8-0.1-0.7 0.1-0.5 0.1-0.5 0.3-0.7 0.4-0.8 0.7-0.8 0.9-0.7 1.1-0.7 1-0.4 1.6-0.5 1-0.2 1.2-0.3 4.2-0.5 3.6-0.7 1.2-0.2 1-0.1 0.8 0.1 1 0.1 0.7 0.2 0.7 0.3 0.6 0.2 0.6 0.4 0.5 0.6 0.6 0.7 0.3 0.7 0.1 0.8 0 0.5 0 0.5-0.3 1-0.3 0.8-0.4 0.4-0.4 0.6-0.7 0.7-1 0.7-1.3 0.9-1.7 0.8-2 0.9-1.6 0.6-1.4 0.4-1.6 0.3-1.2 0.2z" fill="rgb(176,176,176)" stroke="#222" stroke-width="0.36"/>
<path d="M461.8 57.1l-0.6 0-0.4-0.1-0.6-0.4-0.7-0.7-1.7-2-1-1.1-0.7-1-0.6-1.3-0.3-1-0.1-0.7-0.1-1 0.1-0.8 0.2-0.8 0.3-0.7 0.4-0.7 0.5-0.8 0.7-0.8 0.6-0.4 1-0.7 0.7-0.3 1-0.4 1-0.2 1-0.2 1 0 1 0.1 1 0.1 1.3 0.4 1 0.3 1 0.5 1.2 0.6 1.2 0.8 1 0.7 0.5 0.5 0.2 0.2 0.1 0.3 0 0.3-0.1 0.4-0.5 1-1.3 2.6-0.8 1.2-0.5 0.8-0.7 0.7-0.5 0.5-1.4 1-1 0.6-3.4 2-0.6 0.3-0.4 0.2z M494.0 47.5l-1.2 0.2-1.3-0.1-0.7 0-1-0.2-2.6-0.7-1-0.2-1-0.1-2.7 0.1-2-0.2-1.3-0.3-0.7-0.2-0.5-0.3-0.3-0.3 0-0.2 0.1-0.2 0.3-0.3 0.5-0.3 0.7-0.2 1.2-0.2 1.7-0.2 2.6 0.1 1 0 1.2-0.3 2-0.6 1.2-0.2 1.6-0.2 1.2 0.1 0.8 0.2 0.4 0.1 0.6 0.2 0.4 0.3 0.5 0.5 0.2 0.2 0.2 0.2 0.2 0.6 0.1 0.4-0.1 0.6-0.2 0.4-0.2 0.3-0.4 0.3-0.5 0.3-0.5 0.3-0.5 0.1z M464.2 85.0l-1.2 0.1-1.2-0.1-1.3-0.1-1.3-0.3-1-0.3-1-0.4-1-0.6-0.7-0.7-0.6-0.6-0.5-0.8-0.3-0.7-0.1-0.5 0-0.5 0.1-0.7 0.2-0.8 0.4-0.8 0.6-0.7 0.9-0.7 1-0.7 1.3-0.6 1.3-0.4 1-0.2 1.2-0.2 4.2-0.5 4.3-0.7 1-0.1 0.7 0 0.8 0.1 0.8 0.1 0.7 0.2 0.7 0.4 0.6 0.3 0.5 0.5 0.6 0.8 0.3 0.7 0.1 0.7 0 0.8-0.1 0.5-0.2 0.5-0.3 0.8-0.6 0.7-0.7 0.7-0.9 0.8-1.2 0.8-1.5 0.8-1.8 0.8-1.2 0.5-1.6 0.5-1.4 0.4-1.6 0.2z" fill="rgb(165,165,165)" stroke="#222" stroke-width="0.36"/>
<path d="M462.2 55.8l-0.4 0-0.6 0-0.4-0.1-0.8-0.5-0.8-0.5-0.7-0.7-0.7-0.8-0.8-1-0.5-0.7-0.4-0.7-0.3-0.8-0.1-0.5-0.1-0.7-0.1-0.8 0.1-0.8 0.1-0.4 0.2-0.8 0.2-0.5 0.4-0.7 0.4-0.6 0.4-0.4 0.7-0.7 0.5-0.3 0.7-0.5 0.8-0.3 0.8-0.3 0.7-0.1 0.7-0.1 1.6-0.1 0.7 0.1 1 0.2 1.5 0.4 1.2 0.5 1.5 0.9 1 0.7 0.6 0.8 0.3 0.5 0.1 0.3 0 0.4-0.1 0.8-0.2 0.8-0.3 0.7-0.7 1.5-0.8 1.2-0.6 0.8-0.5 0.5-0.6 0.5-0.7 0.5-1.4 0.9-1 0.5-1.3 0.5-0.7 0.3-0.6 0.1z M493.0 47.3l-1 0-1-0.1-1-0.2-1-0.4-0.8-0.4-0.4-0.2-0.6-0.5-0.2-0.3 0-0.2 0-0.2 0.2-0.3 0.3-0.3 0.7-0.4 1.2-0.6 1.1-0.3 1-0.1 1 0 1 0.2 0.7 0.2 0.8 0.5 0.5 0.5 0.2 0.6 0.1 0.4-0.1 0.3-0.2 0.5-0.2 0.2-0.5 0.5-0.8 0.4-1 0.2z M463.8 84.8l-1.3 0-1-0.1-1-0.1-1.3-0.3-1-0.3-1-0.5-1-0.7-0.6-0.6-0.5-0.7-0.4-0.7-0.2-0.8 0-0.8 0.1-0.7 0.3-0.7 0.5-0.8 0.5-0.5 0.9-0.7 1-0.6 1.2-0.5 1.2-0.4 1-0.2 1.3-0.2 4.3-0.3 3.4-0.5 1-0.1 0.8 0 0.8 0.1 0.7 0.1 0.7 0.3 0.6 0.2 0.4 0.4 0.6 0.4 0.3 0.5 0.3 0.8 0.1 0.7 0 0.7-0.2 0.8-0.4 0.8-0.6 0.7-0.7 0.7-1 0.8-1.4 0.8-1.4 0.8-1.8 0.8-1.2 0.5-1.6 0.5-1.2 0.2-1.2 0.2z" fill="rgb(155,155,155)" stroke="#222" stroke-width="0.36"/>
<path d="M462.8 54.8l-0.8 0-0.5 0-0.5-0.1-0.5-0.2-0.7-0.4-0.6-0.4-0.7-0.6-0.5-0.6-0.5-0.6-0.5-0.7-0.3-0.7-0.2-0.5-0.3-0.8-0.1-0.7 0-0.7 0.1-0.6 0.1-0.7 0.2-0.5 0.5-1 0.4-0.5 0.4-0.5 0.6-0.5 0.6-0.4 0.5-0.3 0.7-0.3 1.3-0.4 0.7-0.1 0.8-0.1 0.8 0 0.7 0.1 1.3 0.3 1.2 0.4 1.1 0.5 1.1 0.8 0.8 0.8 0.4 0.7 0.3 0.7 0 0.6 0 0.4-0.1 0.6-0.2 0.7-0.6 1.3-0.7 1.2-0.9 1-0.6 0.5-0.6 0.5-1.2 0.7-1.6 0.7-0.7 0.2-0.7 0.2z M492.5 46.8l-0.7-0.1-1-0.1-0.8-0.3-0.5-0.3-0.3-0.2-0.2-0.3-0.1-0.3-0.1-0.2 0.1-0.2 0.1-0.3 0.2-0.3 0.3-0.2 0.5-0.2 0.8-0.3 0.7-0.2 0.7 0 0.8 0.1 0.8 0.2 0.4 0.3 0.4 0.3 0.3 0.6 0 0.4-0.1 0.6-0.2 0.2-0.4 0.2-0.4 0.3-0.6 0.1-0.7 0.2z M464.8 84.3l-1 0.1-1.3 0-1.3 0-1-0.2-1-0.3-1-0.4-0.7-0.3-0.7-0.6-0.8-0.6-0.4-0.5-0.4-0.7-0.2-0.8 0-0.8 0.2-0.7 0.3-0.7 0.3-0.6 0.5-0.4 0.7-0.7 0.8-0.4 0.7-0.4 1-0.4 0.7-0.2 0.8-0.1 1.2-0.2 7.8-0.6 1.5 0 1 0.1 1 0.3 0.6 0.3 0.7 0.5 0.3 0.5 0.3 0.7 0.1 0.6-0.1 0.7-0.3 0.7-0.2 0.6-0.6 0.7-0.5 0.5-1 0.8-1.1 0.7-1.3 0.7-1.2 0.7-1.2 0.5-1 0.4-1.2 0.3-1 0.2z" fill="rgb(150,150,150)" stroke="#222" stroke-width="0.36"/>
<path d="M463.8 53.8l-0.8 0.1-0.5 0.1-1-0.1-0.5-0.1-0.5-0.2-0.5-0.3-0.5-0.3-0.5-0.4-0.5-0.5-0.5-0.6-0.4-0.5-0.5-1-0.2-0.8-0.1-0.4 0-1 0.1-1 0.4-1 0.3-0.6 0.4-0.4 0.8-0.8 1-0.7 1-0.4 1.2-0.3 1.2-0.1 1.3 0.1 1.3 0.3 1.2 0.5 1 0.6 0.9 0.8 0.5 0.7 0.2 0.5 0.1 0.5 0.1 0.5 0 0.5-0.2 0.7-0.1 0.6-0.3 0.7-0.3 0.5-0.6 1-0.5 0.5-0.5 0.5-1.1 0.7-1.2 0.7-1.2 0.4z M493.0 45.9l-0.5 0.1-0.5 0-0.5-0.1-0.4-0.1-0.4-0.3-0.1-0.3-0.1-0.2 0.1-0.2 0.2-0.3 0.2-0.2 0.5-0.1 0.7-0.1 0.6 0.1 0.3 0 0.4 0.3 0.2 0.3 0 0.2 0 0.2-0.1 0.3-0.4 0.3-0.2 0.1z M463.8 84.0l-1 0.1-1-0.1-1-0.1-1-0.3-1-0.3-0.8-0.4-0.7-0.4-0.5-0.5-0.5-0.5-0.4-0.7-0.2-0.6-0.1-0.7 0.1-0.7 0.2-0.6 0.3-0.6 0.5-0.6 0.6-0.5 0.7-0.4 0.8-0.4 0.7-0.3 0.7-0.3 1-0.2 2-0.2 1.8-0.1 4.2-0.1 1.8 0.1 0.9 0.2 0.8 0.2 0.5 0.3 0.5 0.5 0.3 0.4 0.2 0.6 0 0.4-0.1 0.8-0.3 0.5-0.5 0.7-0.5 0.6-0.8 0.7-1 0.7-1 0.7-1 0.5-1 0.5-1 0.4-1 0.3-1.2 0.3-1 0.1z" fill="rgb(150,150,150)" stroke="#222" stroke-width="0.36"/>
<path d="M464.0 53.0l-1 0.2-1 0-0.5-0.1-0.5-0.1-0.8-0.4-0.8-0.6-0.7-0.8-0.4-0.4-0.3-0.6-0.4-1-0.1-1 0-1 0.1-0.4 0.2-0.6 0.4-0.7 0.7-0.7 0.9-0.7 0.7-0.4 1-0.4 1-0.2 1.3 0 1.2 0.2 1 0.3 1 0.6 0.8 0.6 0.6 0.7 0.3 0.5 0.1 0.5 0.1 0.5 0 0.5-0.1 1-0.4 1-0.6 1-0.6 0.7-1 0.8-1 0.5-1.2 0.5z M464.5 83.5l-1 0.1-1 0.1-1-0.1-0.7-0.1-1-0.3-0.8-0.3-0.8-0.4-0.4-0.3-0.6-0.4-0.4-0.6-0.3-0.4-0.2-0.8-0.1-0.5 0.1-0.7 0.2-0.6 0.3-0.4 0.4-0.6 0.6-0.4 0.7-0.5 0.7-0.4 0.8-0.2 1-0.3 1.8-0.3 1.2 0 1.8 0 2.2 0.1 1.5 0.1 1 0.2 0.7 0.2 0.7 0.3 0.3 0.3 0.3 0.3 0.2 0.4 0.1 0.5-0.1 0.5-0.2 0.5-0.3 0.5-0.4 0.5-0.7 0.7-0.9 0.8-0.7 0.5-1.5 0.9-1 0.4-0.8 0.3-1 0.3-0.7 0.1z" fill="rgb(155,155,155)" stroke="#222" stroke-width="0.36"/>
<path d="M464.0 52.3l-1 0.2-0.8 0-0.4-0.1-0.6-0.2-0.7-0.3-0.7-0.5-0.6-0.6-0.5-0.8-0.3-0.8-0.2-0.7 0-0.5 0-0.5 0.2-0.7 0.4-0.8 0.4-0.7 0.7-0.5 0.8-0.6 0.8-0.2 1-0.3 1 0 1 0.1 1 0.3 0.5 0.3 0.5 0.3 0.7 0.5 0.5 0.8 0.3 0.6 0.1 0.9 0 0.7-0.2 0.6-0.2 0.4-0.4 0.8-0.6 0.8-0.7 0.5-1 0.6-1 0.4z M462.8 83.3l-1-0.1-0.8-0.1-0.8-0.2-0.7-0.3-0.7-0.3-0.6-0.4-0.5-0.4-0.4-0.5-0.3-0.5-0.1-0.5-0.1-0.5 0.1-0.5 0.1-0.5 0.3-0.5 0.4-0.5 0.6-0.5 0.5-0.3 0.7-0.4 1.3-0.4 0.7-0.2 1-0.1 1.7-0.1 2.3 0.1 1.3 0.2 1 0.2 0.8 0.2 0.6 0.3 0.4 0.3 0.4 0.4 0.2 0.3 0 0.5 0 0.5-0.2 0.5-0.3 0.5-0.7 0.7-0.5 0.6-0.6 0.4-0.8 0.6-0.6 0.3-0.7 0.3-0.8 0.3-1.5 0.4-0.7 0.1-1 0.1z" fill="rgb(165,165,165)" stroke="#222" stroke-width="0.36"/>
<path d="M463.8 51.5l-0.8 0.1-0.8 0-0.7-0.2-0.7-0.4-0.7-0.5-0.4-0.5-0.3-0.5-0.3-0.7-0.1-0.8 0.1-0.5 0.2-0.7 0.3-0.6 0.4-0.4 0.6-0.6 0.6-0.3 0.8-0.3 0.8-0.1 1 0 0.7 0.2 0.7 0.2 0.6 0.3 0.6 0.6 0.4 0.4 0.3 0.8 0.1 0.8-0.1 0.7-0.3 0.7-0.3 0.6-0.5 0.5-0.8 0.6-0.7 0.4-0.7 0.2z M463.5 82.8l-0.7 0-0.8 0-0.8-0.2-0.7-0.1-0.6-0.3-0.7-0.3-0.4-0.3-0.4-0.4-0.4-0.4-0.2-0.3-0.2-0.5 0-0.5 0-0.5 0.2-0.5 0.2-0.3 0.3-0.4 0.5-0.4 0.5-0.4 0.5-0.2 0.7-0.3 0.7-0.2 0.8-0.2 1.5-0.1 1.7 0.1 1.8 0.3 0.8 0.2 0.7 0.3 0.5 0.3 0.3 0.3 0.2 0.3 0.2 0.4 0 0.3-0.1 0.5-0.2 0.5-0.3 0.5-0.7 0.8-1 0.7-1.2 0.6-1.2 0.4-0.8 0.2-0.7 0.1z" fill="rgb(185,185,185)" stroke="#222" stroke-width="0.36"/>
<path d="M464.0 50.5l-0.8 0.2-0.4 0-0.6-0.1-0.4-0.1-0.5-0.3-0.4-0.2-0.2-0.2-0.4-0.6-0.2-0.4-0.1-0.6 0-0.4 0.2-0.6 0.2-0.4 0.4-0.5 0.3-0.3 0.4-0.3 0.5-0.2 0.8-0.2 0.7 0 0.5 0.1 0.8 0.3 0.4 0.3 0.3 0.2 0.4 0.6 0.2 0.4 0 0.6-0.1 0.7-0.2 0.5-0.3 0.5-0.5 0.5-0.5 0.3-0.5 0.2z M463.8 82.3l-1.3 0-1.3-0.1-0.5-0.2-0.6-0.2-0.8-0.6-0.3-0.2-0.4-0.5-0.1-0.3-0.2-0.4 0-0.6 0.1-0.2 0.1-0.4 0.2-0.4 0.3-0.3 0.5-0.4 0.5-0.3 0.5-0.2 1.3-0.4 1.2-0.1 1.5 0 1.5 0.3 0.6 0.2 0.6 0.2 0.4 0.3 0.3 0.3 0.4 0.4 0.1 0.3 0 0.5 0 0.2-0.2 0.6-0.6 0.7-0.6 0.5-1 0.6-1 0.4-1.2 0.3z" fill="rgb(205,205,205)" stroke="#222" stroke-width="0.36"/>
<path d="M463.2 49.5l-0.4 0-0.3 0-0.5-0.3-0.3-0.2-0.2-0.2-0.2-0.6 0-0.4 0.1-0.3 0.3-0.5 0.5-0.4 0.6-0.1 0.7 0 0.3 0.1 0.4 0.2 0.2 0.2 0.2 0.2 0.2 0.6 0 0.4-0.3 0.6-0.3 0.2-0.2 0.2-0.5 0.3-0.3 0z M463.5 81.8l-1 0-1-0.1-0.5-0.2-0.5-0.2-0.5-0.3-0.2-0.2-0.4-0.3-0.1-0.3-0.1-0.2-0.1-0.5 0-0.5 0.2-0.2 0.3-0.6 0.6-0.4 0.8-0.4 1-0.3 1-0.1 1.2 0.1 1 0.1 0.8 0.3 0.4 0.3 0.4 0.2 0.2 0.2 0.2 0.3 0.1 0.5-0.1 0.5-0.2 0.5-0.2 0.2-0.6 0.6-0.8 0.4-0.9 0.4-1 0.2z" fill="rgb(225,225,225)" stroke="#222" stroke-width="0.36"/>
<path d="M463.2 81.3l-0.7 0-0.7-0.2-0.8-0.2-0.6-0.4-0.2-0.3-0.1-0.2-0.2-0.5 0.1-0.5 0.4-0.5 0.6-0.4 0.5-0.3 0.7-0.2 0.8 0 0.8 0 0.8 0.2 0.6 0.2 0.6 0.3 0.3 0.5 0.1 0.2 0 0.2-0.1 0.6-0.2 0.2-0.5 0.5-0.6 0.4-0.8 0.2-0.8 0.2z" fill="rgb(240,240,240)" stroke="#222" stroke-width="0.36"/>
<rect x="442.6" y="26.1" width="70.5" height="69.69999999999999" fill="none" stroke="#231f20" stroke-width="1.1" />
<text x="445.2" y="33" font-size="7.2" textLength="21.8" lengthAdjust="spacingAndGlyphs" fill="#231f20" >Memory</text>
<text x="504.3" y="33" font-size="7.2" textLength="6" lengthAdjust="spacingAndGlyphs" fill="#231f20" >B1</text>
<text x="445.2" y="94.8" font-size="7.2" textLength="14.5" lengthAdjust="spacingAndGlyphs" fill="#231f20" >Naive</text>
<text x="437.40000000000003" y="97.19999999999999" font-size="4.6" text-anchor="end" textLength="7.92" lengthAdjust="spacingAndGlyphs" fill="#6f6f6f" >-10<tspan font-size="3" dy="-1.8">3</tspan></text>
<text x="437.40000000000003" y="83.1" font-size="4.6" text-anchor="end" textLength="2.2" lengthAdjust="spacingAndGlyphs" fill="#6f6f6f" >0</text>
<text x="437.40000000000003" y="71.19999999999999" font-size="4.6" text-anchor="end" textLength="6.6" lengthAdjust="spacingAndGlyphs" fill="#6f6f6f" >10<tspan font-size="3" dy="-1.8">3</tspan></text>
<text x="437.40000000000003" y="52.0" font-size="4.6" text-anchor="end" textLength="6.6" lengthAdjust="spacingAndGlyphs" fill="#6f6f6f" >10<tspan font-size="3" dy="-1.8">4</tspan></text>
<text x="437.40000000000003" y="34.300000000000004" font-size="4.6" text-anchor="end" textLength="6.6" lengthAdjust="spacingAndGlyphs" fill="#6f6f6f" >10<tspan font-size="3" dy="-1.8">5</tspan></text>
<rect x="440.0" y="78.5" width="2.6" height="4.5" fill="#231f20"/>
<text x="446" y="104.7" font-size="4.6" text-anchor="middle" fill="#6f6f6f" >-10<tspan font-size="3" dy="-1.8">3</tspan></text>
<text x="459.4" y="104.7" font-size="4.6" text-anchor="middle" fill="#6f6f6f" >0</text>
<text x="470" y="104.7" font-size="4.6" text-anchor="middle" fill="#6f6f6f" >10<tspan font-size="3" dy="-1.8">3</tspan></text>
<text x="489.2" y="104.7" font-size="4.6" text-anchor="middle" fill="#6f6f6f" >10<tspan font-size="3" dy="-1.8">4</tspan></text>
<text x="507.5" y="104.7" font-size="4.6" text-anchor="middle" fill="#6f6f6f" >10<tspan font-size="3" dy="-1.8">5</tspan></text>
<rect x="456" y="95.8" width="5" height="2.2" fill="#231f20"/>
<text x="428" y="63" font-size="7.8" text-anchor="middle" fill="#231f20" transform="rotate(-90 428 63)" textLength="17" lengthAdjust="spacingAndGlyphs">CD27</text>
<text x="477.7" y="114" font-size="7.8" text-anchor="middle" textLength="16.5" lengthAdjust="spacingAndGlyphs" fill="#231f20" >CD43</text>
<text x="53.5" y="142.2" font-size="7.3" text-anchor="middle" textLength="37.7" lengthAdjust="spacingAndGlyphs" fill="#231f20" >Granulocyte</text>
<path d="M28.8 200.8 37.0 200.8 37.9 200.7 38.4 200.5 38.7 200.2 39.2 199.0 39.7 196.1 40.2 190.2 40.7 180.5 41.7 156.4 41.9 152.2 42.1 149.8 42.4 149.5 42.6 150.7 43.1 156.6 44.4 179.7 45.1 189.7 45.6 193.9 46.1 196.5 46.6 198.1 47.3 199.5 47.8 200.0 48.3 200.4 49.1 200.7 49.8 200.8 61.4 200.8 62.9 200.7 63.4 200.4 63.9 199.7 64.4 198.5 65.4 195.0 65.6 194.4 65.9 194.0 66.1 194.0 66.4 194.4 66.6 195.0 67.9 199.2 68.3 200.1 68.8 200.6 69.3 200.7 70.1 200.8 81.2 200.8" fill="none" stroke="#b42d43" stroke-width="0.85" stroke-linejoin="round"/>
<rect x="28.5" y="147.6" width="53.0" height="53.80000000000001" fill="none" stroke="#231f20" stroke-width="1.0" />
<text x="22.7" y="202.7" font-size="4.3" text-anchor="end" fill="#666" >0</text>
<text x="22.7" y="188.5" font-size="4.3" text-anchor="end" fill="#666" >200</text>
<text x="22.7" y="174.3" font-size="4.3" text-anchor="end" fill="#666" >400</text>
<text x="22.7" y="160.0" font-size="4.3" text-anchor="end" fill="#666" >600</text>
<text x="31.5" y="210.70000000000002" font-size="4.3" text-anchor="middle" fill="#666" >-10<tspan font-size="2.5" dy="-1.5">3</tspan></text>
<text x="40.8" y="210.70000000000002" font-size="4.3" text-anchor="middle" fill="#666" >0</text>
<text x="48.5" y="210.70000000000002" font-size="4.3" text-anchor="middle" fill="#666" >10<tspan font-size="2.5" dy="-1.5">3</tspan></text>
<text x="63.7" y="210.70000000000002" font-size="4.3" text-anchor="middle" fill="#666" >10<tspan font-size="2.5" dy="-1.5">4</tspan></text>
<text x="76.5" y="210.70000000000002" font-size="4.3" text-anchor="middle" fill="#666" >10<tspan font-size="2.5" dy="-1.5">5</tspan></text>
<rect x="38.8" y="201.4" width="3" height="1.6" fill="#231f20"/>
<text x="47" y="179" font-size="6.2" textLength="16" lengthAdjust="spacingAndGlyphs" fill="#231f20" >77.9%</text>
<text x="124.2" y="142.2" font-size="7.3" text-anchor="middle" textLength="30" lengthAdjust="spacingAndGlyphs" fill="#231f20" >Monocyte</text>
<path d="M99.2 200.8 108.6 200.7 109.1 200.6 109.3 200.3 109.8 199.3 110.3 196.7 110.8 191.3 111.3 182.5 112.3 159.5 112.6 155.4 112.8 152.8 113.1 152.2 113.3 153.0 113.8 157.8 115.3 181.8 116.0 190.1 116.5 193.6 117.0 195.9 117.8 197.9 118.5 199.1 119.0 199.6 119.7 200.2 120.5 200.5 121.5 200.7 132.8 200.8 134.3 200.6 134.8 200.3 135.1 200.1 135.6 199.1 136.1 197.6 137.1 193.9 137.3 193.2 137.5 192.9 137.8 192.8 138.0 193.1 138.3 193.6 139.5 197.8 140.0 199.2 140.5 200.0 141.0 200.5 141.5 200.7 142.5 200.8 151.9 200.8" fill="none" stroke="#b42d43" stroke-width="0.85" stroke-linejoin="round"/>
<rect x="98.9" y="147.3" width="53.29999999999998" height="54.099999999999994" fill="none" stroke="#231f20" stroke-width="1.0" />
<text x="93.10000000000001" y="202.7" font-size="4.3" text-anchor="end" fill="#666" >0</text>
<text x="93.10000000000001" y="186.1" font-size="4.3" text-anchor="end" fill="#666" >50</text>
<text x="93.10000000000001" y="169.7" font-size="4.3" text-anchor="end" fill="#666" >100</text>
<text x="93.10000000000001" y="153.0" font-size="4.3" text-anchor="end" fill="#666" >150</text>
<text x="101.9" y="210.70000000000002" font-size="4.3" text-anchor="middle" fill="#666" >-10<tspan font-size="2.5" dy="-1.5">3</tspan></text>
<text x="111.2" y="210.70000000000002" font-size="4.3" text-anchor="middle" fill="#666" >0</text>
<text x="118.9" y="210.70000000000002" font-size="4.3" text-anchor="middle" fill="#666" >10<tspan font-size="2.5" dy="-1.5">3</tspan></text>
<text x="134.10000000000002" y="210.70000000000002" font-size="4.3" text-anchor="middle" fill="#666" >10<tspan font-size="2.5" dy="-1.5">4</tspan></text>
<text x="146.9" y="210.70000000000002" font-size="4.3" text-anchor="middle" fill="#666" >10<tspan font-size="2.5" dy="-1.5">5</tspan></text>
<rect x="109.2" y="201.4" width="3" height="1.6" fill="#231f20"/>
<text x="117.7" y="179" font-size="6.2" textLength="16" lengthAdjust="spacingAndGlyphs" fill="#231f20" >75.3%</text>
<text x="194.3" y="142.2" font-size="7.3" text-anchor="middle" textLength="20" lengthAdjust="spacingAndGlyphs" fill="#231f20" >B1 cell</text>
<path d="M168.7 200.8 177.4 200.7 178.6 200.5 180.3 199.8 181.1 199.7 181.8 199.9 183.6 200.5 184.8 200.7 185.8 200.6 187.8 199.8 188.5 199.7 189.3 199.8 191.2 200.6 193.0 200.8 205.6 200.8 206.6 200.6 207.1 200.1 207.6 199.1 208.1 196.9 208.6 193.0 208.8 190.2 209.3 182.6 210.8 153.8 211.1 150.7 211.3 148.9 211.5 148.4 211.8 149.3 212.3 154.4 213.8 181.7 214.3 189.1 214.8 194.3 215.3 197.5 215.5 198.5 216.0 199.8 216.3 200.2 216.7 200.6 217.7 200.8 221.7 200.8" fill="none" stroke="#b42d43" stroke-width="0.85" stroke-linejoin="round"/>
<rect x="168.4" y="147.3" width="53.599999999999994" height="54.099999999999994" fill="none" stroke="#231f20" stroke-width="1.0" />
<text x="162.6" y="202.7" font-size="4.3" text-anchor="end" fill="#666" >0</text>
<text x="162.6" y="189.2" font-size="4.3" text-anchor="end" fill="#666" >5.0</text>
<text x="162.6" y="175.8" font-size="4.3" text-anchor="end" fill="#666" >10</text>
<text x="162.6" y="162.3" font-size="4.3" text-anchor="end" fill="#666" >15</text>
<text x="162.6" y="148.8" font-size="4.3" text-anchor="end" fill="#666" >20</text>
<text x="171.4" y="210.70000000000002" font-size="4.3" text-anchor="middle" fill="#666" >-10<tspan font-size="2.5" dy="-1.5">3</tspan></text>
<text x="180.70000000000002" y="210.70000000000002" font-size="4.3" text-anchor="middle" fill="#666" >0</text>
<text x="188.4" y="210.70000000000002" font-size="4.3" text-anchor="middle" fill="#666" >10<tspan font-size="2.5" dy="-1.5">3</tspan></text>
<text x="203.60000000000002" y="210.70000000000002" font-size="4.3" text-anchor="middle" fill="#666" >10<tspan font-size="2.5" dy="-1.5">4</tspan></text>
<text x="216.4" y="210.70000000000002" font-size="4.3" text-anchor="middle" fill="#666" >10<tspan font-size="2.5" dy="-1.5">5</tspan></text>
<rect x="178.70000000000002" y="201.4" width="3" height="1.6" fill="#231f20"/>
<text x="179.5" y="190" font-size="6.2" textLength="16.3" lengthAdjust="spacingAndGlyphs" fill="#231f20" >5.98%</text>
<text x="263.8" y="142.2" font-size="7.3" text-anchor="middle" textLength="35" lengthAdjust="spacingAndGlyphs" fill="#231f20" >Naive B cell</text>
<path d="M238.9 200.8 249.0 200.8 249.5 200.6 250.0 200.3 250.5 199.5 251.0 197.8 251.3 196.4 251.8 192.1 252.3 185.7 253.5 166.0 253.7 163.4 254.0 161.8 254.2 161.4 254.5 161.9 254.7 162.9 255.2 166.8 257.0 187.1 257.7 193.6 258.2 196.5 258.7 198.4 259.2 199.5 259.7 200.2 260.4 200.6 261.7 200.8 273.5 200.8 274.5 200.7 275.0 200.5 275.5 200.1 275.8 199.7 276.3 198.5 276.5 197.6 277.3 193.1 278.0 185.5 279.5 166.6 280.0 163.1 280.2 162.4 280.5 162.6 280.7 163.5 281.2 167.6 282.7 186.6 283.2 191.8 283.7 195.5 283.9 196.9 284.4 198.8 284.7 199.4 285.2 200.2 285.9 200.6 287.2 200.8 292.1 200.8" fill="none" stroke="#b42d43" stroke-width="0.85" stroke-linejoin="round"/>
<rect x="238.6" y="147.3" width="53.79999999999998" height="54.099999999999994" fill="none" stroke="#231f20" stroke-width="1.0" />
<text x="232.79999999999998" y="202.7" font-size="4.3" text-anchor="end" fill="#666" >0</text>
<text x="232.79999999999998" y="189.7" font-size="4.3" text-anchor="end" fill="#666" >10</text>
<text x="232.79999999999998" y="176.1" font-size="4.3" text-anchor="end" fill="#666" >20</text>
<text x="232.79999999999998" y="162.7" font-size="4.3" text-anchor="end" fill="#666" >30</text>
<text x="232.79999999999998" y="149.2" font-size="4.3" text-anchor="end" fill="#666" >40</text>
<text x="241.6" y="210.70000000000002" font-size="4.3" text-anchor="middle" fill="#666" >-10<tspan font-size="2.5" dy="-1.5">3</tspan></text>
<text x="250.9" y="210.70000000000002" font-size="4.3" text-anchor="middle" fill="#666" >0</text>
<text x="258.6" y="210.70000000000002" font-size="4.3" text-anchor="middle" fill="#666" >10<tspan font-size="2.5" dy="-1.5">3</tspan></text>
<text x="273.8" y="210.70000000000002" font-size="4.3" text-anchor="middle" fill="#666" >10<tspan font-size="2.5" dy="-1.5">4</tspan></text>
<text x="286.6" y="210.70000000000002" font-size="4.3" text-anchor="middle" fill="#666" >10<tspan font-size="2.5" dy="-1.5">5</tspan></text>
<rect x="248.9" y="201.4" width="3" height="1.6" fill="#231f20"/>
<text x="248.5" y="158.5" font-size="6.2" textLength="16.5" lengthAdjust="spacingAndGlyphs" fill="#231f20" >50.8%</text>
<text x="334.3" y="142.2" font-size="7.3" text-anchor="middle" textLength="43" lengthAdjust="spacingAndGlyphs" fill="#231f20" >Memory B cell</text>
<path d="M309.6 200.8 321.3 200.8 322.5 200.6 324.2 200.0 325.0 199.9 325.7 200.0 328.0 200.7 329.7 200.8 345.6 200.8 346.6 200.7 347.1 200.4 347.3 200.2 347.8 199.3 348.3 197.4 348.8 193.8 349.1 191.1 349.8 179.6 351.0 155.4 351.5 149.9 351.8 149.1 352.0 149.6 352.5 154.2 354.3 185.0 354.8 191.5 355.0 193.9 355.5 197.3 355.8 198.4 356.2 199.7 356.5 200.1 357.0 200.5 357.5 200.7 358.2 200.8 362.7 200.8" fill="none" stroke="#b42d43" stroke-width="0.85" stroke-linejoin="round"/>
<rect x="309.3" y="147.3" width="53.69999999999999" height="54.099999999999994" fill="none" stroke="#231f20" stroke-width="1.0" />
<text x="303.5" y="202.7" font-size="4.3" text-anchor="end" fill="#666" >0</text>
<text x="303.5" y="189.7" font-size="4.3" text-anchor="end" fill="#666" >10</text>
<text x="303.5" y="176.1" font-size="4.3" text-anchor="end" fill="#666" >20</text>
<text x="303.5" y="162.7" font-size="4.3" text-anchor="end" fill="#666" >30</text>
<text x="303.5" y="149.2" font-size="4.3" text-anchor="end" fill="#666" >40</text>
<text x="312.3" y="210.70000000000002" font-size="4.3" text-anchor="middle" fill="#666" >-10<tspan font-size="2.5" dy="-1.5">3</tspan></text>
<text x="321.6" y="210.70000000000002" font-size="4.3" text-anchor="middle" fill="#666" >0</text>
<text x="329.3" y="210.70000000000002" font-size="4.3" text-anchor="middle" fill="#666" >10<tspan font-size="2.5" dy="-1.5">3</tspan></text>
<text x="344.5" y="210.70000000000002" font-size="4.3" text-anchor="middle" fill="#666" >10<tspan font-size="2.5" dy="-1.5">4</tspan></text>
<text x="357.3" y="210.70000000000002" font-size="4.3" text-anchor="middle" fill="#666" >10<tspan font-size="2.5" dy="-1.5">5</tspan></text>
<rect x="319.6" y="201.4" width="3" height="1.6" fill="#231f20"/>
<text x="317.4" y="190" font-size="6.2" textLength="16" lengthAdjust="spacingAndGlyphs" fill="#231f20" >1.37%</text>
<text x="406.7" y="142.2" font-size="7.3" text-anchor="middle" textLength="15" lengthAdjust="spacingAndGlyphs" fill="#231f20" >T cell</text>
<path d="M380.9 200.8 390.3 200.8 391.3 200.7 391.8 200.4 392.3 199.8 393.3 197.1 393.5 196.6 393.8 196.4 394.0 196.5 394.3 196.9 395.0 199.0 395.5 200.0 396.0 200.6 396.5 200.7 409.8 200.8 410.6 200.7 411.1 200.5 411.8 199.8 412.3 198.9 412.8 197.3 413.3 194.9 413.8 191.3 414.5 183.4 416.0 162.3 416.5 156.4 417.0 152.7 417.2 151.9 417.5 151.8 417.7 152.5 418.0 154.0 418.5 159.0 420.0 181.0 420.7 190.0 421.4 195.7 422.2 198.7 422.4 199.3 422.9 200.1 423.4 200.5 424.2 200.7 425.6 200.8 434.3 200.8" fill="none" stroke="#b42d43" stroke-width="0.85" stroke-linejoin="round"/>
<rect x="380.6" y="147.0" width="54.0" height="54.400000000000006" fill="none" stroke="#231f20" stroke-width="1.0" />
<text x="374.8" y="202.7" font-size="4.3" text-anchor="end" fill="#666" >0</text>
<text x="374.8" y="193.8" font-size="4.3" text-anchor="end" fill="#666" >50</text>
<text x="374.8" y="184.5" font-size="4.3" text-anchor="end" fill="#666" >100</text>
<text x="374.8" y="175.3" font-size="4.3" text-anchor="end" fill="#666" >150</text>
<text x="374.8" y="166.1" font-size="4.3" text-anchor="end" fill="#666" >200</text>
<text x="374.8" y="156.9" font-size="4.3" text-anchor="end" fill="#666" >250</text>
<text x="383.6" y="210.70000000000002" font-size="4.3" text-anchor="middle" fill="#666" >-10<tspan font-size="2.5" dy="-1.5">3</tspan></text>
<text x="392.90000000000003" y="210.70000000000002" font-size="4.3" text-anchor="middle" fill="#666" >0</text>
<text x="400.6" y="210.70000000000002" font-size="4.3" text-anchor="middle" fill="#666" >10<tspan font-size="2.5" dy="-1.5">3</tspan></text>
<text x="415.8" y="210.70000000000002" font-size="4.3" text-anchor="middle" fill="#666" >10<tspan font-size="2.5" dy="-1.5">4</tspan></text>
<text x="428.6" y="210.70000000000002" font-size="4.3" text-anchor="middle" fill="#666" >10<tspan font-size="2.5" dy="-1.5">5</tspan></text>
<rect x="390.90000000000003" y="201.4" width="3" height="1.6" fill="#231f20"/>
<text x="387.4" y="190" font-size="6.2" textLength="13" lengthAdjust="spacingAndGlyphs" fill="#231f20" >9.9%</text>
<text x="476.4" y="142.2" font-size="7.3" text-anchor="middle" textLength="20.7" lengthAdjust="spacingAndGlyphs" fill="#231f20" >NK cell</text>
<path d="M451.4 200.7 460.3 200.7 460.8 200.4 461.1 200.0 461.3 199.2 461.6 197.8 461.8 195.3 462.1 191.4 463.3 156.7 463.6 152.8 463.8 152.2 464.1 154.6 464.3 159.3 465.0 179.6 465.5 190.2 466.0 196.1 466.5 198.6 467.0 199.6 467.5 200.0 468.0 200.2 468.8 200.5 469.5 200.6 471.3 200.5 472.7 200.0 473.7 199.5 474.7 198.6 478.0 195.1 478.7 194.6 479.2 194.4 479.7 194.4 480.2 194.6 481.7 195.6 482.2 195.7 482.4 195.6 482.9 195.0 483.4 193.9 485.1 187.9 485.6 186.9 485.9 186.7 486.1 186.8 486.4 187.4 486.6 188.3 487.9 195.8 488.4 198.1 488.9 199.5 489.1 199.9 489.6 200.4 490.1 200.6 491.1 200.7 504.5 200.7" fill="none" stroke="#b42d43" stroke-width="0.85" stroke-linejoin="round"/>
<rect x="451.1" y="147.3" width="53.69999999999999" height="54.0" fill="none" stroke="#231f20" stroke-width="1.0" />
<text x="445.3" y="202.5" font-size="4.3" text-anchor="end" fill="#666" >0</text>
<text x="445.3" y="192.1" font-size="4.3" text-anchor="end" fill="#666" >20</text>
<text x="445.3" y="181.7" font-size="4.3" text-anchor="end" fill="#666" >40</text>
<text x="445.3" y="171.3" font-size="4.3" text-anchor="end" fill="#666" >60</text>
<text x="445.3" y="160.9" font-size="4.3" text-anchor="end" fill="#666" >80</text>
<text x="445.3" y="150.5" font-size="4.3" text-anchor="end" fill="#666" >100</text>
<text x="454.1" y="210.60000000000002" font-size="4.3" text-anchor="middle" fill="#666" >-10<tspan font-size="2.5" dy="-1.5">3</tspan></text>
<text x="463.40000000000003" y="210.60000000000002" font-size="4.3" text-anchor="middle" fill="#666" >0</text>
<text x="471.1" y="210.60000000000002" font-size="4.3" text-anchor="middle" fill="#666" >10<tspan font-size="2.5" dy="-1.5">3</tspan></text>
<text x="486.3" y="210.60000000000002" font-size="4.3" text-anchor="middle" fill="#666" >10<tspan font-size="2.5" dy="-1.5">4</tspan></text>
<text x="499.1" y="210.60000000000002" font-size="4.3" text-anchor="middle" fill="#666" >10<tspan font-size="2.5" dy="-1.5">5</tspan></text>
<rect x="461.40000000000003" y="201.3" width="3" height="1.6" fill="#231f20"/>
<text x="467.2" y="178.4" font-size="6.2" textLength="15.6" lengthAdjust="spacingAndGlyphs" fill="#231f20" >73.7%</text>
<text x="31" y="222.6" font-size="9" textLength="24" lengthAdjust="spacingAndGlyphs" fill="#231f20" >FLAER</text>
<path d="M504 220.5 L496.5 217.3 L498.5 220.5 L496.5 223.7 Z" fill="#231f20"/>
<rect x="48.8" y="263.83" width="4.15" height="58.67" fill="#9e2b40" />
<rect x="54.35" y="262.98" width="4.15" height="59.52" fill="#d59b8c" />
<rect x="59.9" y="261.82" width="4.15" height="60.68" fill="#3f5b86" />
<rect x="65.45" y="263.83" width="4.15" height="58.67" fill="#9ca1c6" />
<rect x="71.0" y="280.73" width="4.15" height="41.77" fill="#6aa650" />
<rect x="76.55" y="271.43" width="4.15" height="51.07" fill="#bed3a3" />
<rect x="82.1" y="261.82" width="4.15" height="60.68" fill="#6a4469" />
<rect x="87.65" y="261.82" width="4.15" height="60.68" fill="#e09a38" />
<rect x="93.2" y="275.08" width="4.15" height="47.42" fill="#457561" />
<rect x="107.3" y="262.98" width="4.15" height="59.52" fill="#9e2b40" />
<rect x="112.85" y="262.98" width="4.15" height="59.52" fill="#d59b8c" />
<rect x="118.4" y="261.7" width="4.15" height="60.8" fill="#3f5b86" />
<rect x="123.95" y="261.7" width="4.15" height="60.8" fill="#9ca1c6" />
<rect x="129.5" y="264.92" width="4.15" height="57.58" fill="#6aa650" />
<rect x="135.05" y="263.89" width="4.15" height="58.61" fill="#bed3a3" />
<rect x="140.6" y="261.7" width="4.15" height="60.8" fill="#6a4469" />
<rect x="146.15" y="262.0" width="4.15" height="60.5" fill="#e09a38" />
<rect x="151.7" y="276.9" width="4.15" height="45.6" fill="#457561" />
<rect x="165.8" y="320.19" width="4.15" height="2.31" fill="#9e2b40" />
<rect x="171.35" y="321.59" width="4.15" height="0.91" fill="#d59b8c" />
<rect x="176.9" y="319.46" width="4.15" height="3.04" fill="#3f5b86" />
<rect x="182.45" y="320.07" width="4.15" height="2.43" fill="#9ca1c6" />
<rect x="188.0" y="317.94" width="4.15" height="4.56" fill="#6aa650" />
<rect x="193.55" y="317.64" width="4.15" height="4.86" fill="#bed3a3" />
<rect x="199.1" y="320.92" width="4.15" height="1.58" fill="#6a4469" />
<rect x="204.65" y="320.07" width="4.15" height="2.43" fill="#e09a38" />
<rect x="210.2" y="319.46" width="4.15" height="3.04" fill="#457561" />
<rect x="224.2" y="316.6" width="4.15" height="5.9" fill="#9e2b40" />
<rect x="229.75" y="321.59" width="4.15" height="0.91" fill="#d59b8c" />
<rect x="235.3" y="317.7" width="4.15" height="4.8" fill="#3f5b86" />
<rect x="240.85" y="313.38" width="4.15" height="9.12" fill="#9ca1c6" />
<rect x="246.4" y="300.0" width="4.15" height="22.5" fill="#6aa650" />
<rect x="251.95" y="292.28" width="4.15" height="30.22" fill="#bed3a3" />
<rect x="257.5" y="307.42" width="4.15" height="15.08" fill="#6a4469" />
<rect x="263.05" y="298.48" width="4.15" height="24.02" fill="#e09a38" />
<rect x="268.6" y="291.98" width="4.15" height="30.52" fill="#457561" />
<rect x="316.0" y="322.26" width="4.15" height="0.24" fill="#6a4469" />
<rect x="321.55" y="322.26" width="4.15" height="0.24" fill="#e09a38" />
<rect x="341.5" y="299.4" width="4.15" height="23.1" fill="#9e2b40" />
<rect x="347.05" y="290.28" width="4.15" height="32.22" fill="#d59b8c" />
<rect x="352.6" y="311.68" width="4.15" height="10.82" fill="#3f5b86" />
<rect x="358.15" y="300.0" width="4.15" height="22.5" fill="#9ca1c6" />
<rect x="380.35" y="318.85" width="4.15" height="3.65" fill="#e09a38" />
<rect x="385.9" y="316.91" width="4.15" height="5.59" fill="#457561" />
<rect x="400.1" y="270.82" width="4.15" height="51.68" fill="#9e2b40" />
<rect x="405.65" y="266.56" width="4.15" height="55.94" fill="#d59b8c" />
<rect x="411.2" y="302.44" width="4.15" height="20.06" fill="#3f5b86" />
<rect x="416.75" y="303.04" width="4.15" height="19.46" fill="#9ca1c6" />
<rect x="422.3" y="296.36" width="4.15" height="26.14" fill="#6aa650" />
<rect x="427.85" y="298.18" width="4.15" height="24.32" fill="#bed3a3" />
<rect x="433.4" y="322.14" width="4.15" height="0.36" fill="#6a4469" />
<rect x="438.95" y="261.7" width="4.15" height="60.8" fill="#e09a38" />
<rect x="444.5" y="277.51" width="4.15" height="44.99" fill="#457561" />
<text x="37.8" y="325.2" font-size="7.8" text-anchor="end" fill="#231f20" >0</text>
<text x="37.8" y="313.03999999999996" font-size="7.8" text-anchor="end" fill="#231f20" >20</text>
<text x="37.8" y="300.88" font-size="7.8" text-anchor="end" fill="#231f20" >40</text>
<text x="37.8" y="288.71999999999997" font-size="7.8" text-anchor="end" fill="#231f20" >60</text>
<text x="37.8" y="276.56" font-size="7.8" text-anchor="end" fill="#231f20" >80</text>
<text x="37.8" y="264.4" font-size="7.8" text-anchor="end" fill="#231f20" >100</text>
<text x="19.3" y="290.7" font-size="9.2" text-anchor="middle" fill="#231f20" transform="rotate(-90 19.3 290.7)" textLength="61.4" lengthAdjust="spacingAndGlyphs">FLAER<tspan font-size="5.5" dy="-3.2">−</tspan><tspan dy="3.2"> cells (%)</tspan></text>
<text x="71.8" y="333.1" font-size="7.8" text-anchor="middle" textLength="40.5" lengthAdjust="spacingAndGlyphs" fill="#231f20" >Granulocyte</text>
<text x="130.2" y="333.1" font-size="7.8" text-anchor="middle" textLength="32.9" lengthAdjust="spacingAndGlyphs" fill="#231f20" >Monocyte</text>
<text x="189" y="333.1" font-size="7.8" text-anchor="middle" textLength="22.4" lengthAdjust="spacingAndGlyphs" fill="#231f20" >B1 cell</text>
<text x="246.7" y="333.1" font-size="7.8" text-anchor="middle" textLength="37.4" lengthAdjust="spacingAndGlyphs" fill="#231f20" >Naive B cell</text>
<text x="305.6" y="333.1" font-size="7.8" text-anchor="middle" textLength="45.6" lengthAdjust="spacingAndGlyphs" fill="#231f20" >Memory B cell</text>
<text x="364.8" y="333.1" font-size="7.8" text-anchor="middle" textLength="17.3" lengthAdjust="spacingAndGlyphs" fill="#231f20" >T cell</text>
<text x="422.7" y="333.1" font-size="7.8" text-anchor="middle" textLength="22.5" lengthAdjust="spacingAndGlyphs" fill="#231f20" >NK cell</text>
<rect x="178" y="251.8" width="5.4" height="5.2" fill="#9e2b40" />
<text x="185.2" y="257.0" font-size="7" textLength="32" lengthAdjust="spacingAndGlyphs" fill="#231f20" >PNH01 1st</text>
<rect x="178" y="261.3" width="5.4" height="5.2" fill="#3f5b86" />
<text x="185.2" y="266.5" font-size="7" textLength="32" lengthAdjust="spacingAndGlyphs" fill="#231f20" >PNH02 1st</text>
<rect x="178" y="270.8" width="5.4" height="5.2" fill="#6aa650" />
<text x="185.2" y="276.0" font-size="7" textLength="32" lengthAdjust="spacingAndGlyphs" fill="#231f20" >PNH03 1st</text>
<rect x="234.2" y="251.8" width="5.4" height="5.2" fill="#d59b8c" />
<text x="241.39999999999998" y="257.0" font-size="7" textLength="35" lengthAdjust="spacingAndGlyphs" fill="#231f20" >PNH01 2nd</text>
<rect x="234.2" y="261.3" width="5.4" height="5.2" fill="#9ca1c6" />
<text x="241.39999999999998" y="266.5" font-size="7" textLength="35" lengthAdjust="spacingAndGlyphs" fill="#231f20" >PNH02 2nd</text>
<rect x="234.2" y="270.8" width="5.4" height="5.2" fill="#bed3a3" />
<text x="241.39999999999998" y="276.0" font-size="7" textLength="35" lengthAdjust="spacingAndGlyphs" fill="#231f20" >PNH03 2nd</text>
<rect x="311.2" y="251.8" width="5.4" height="5.2" fill="#6a4469" />
<text x="318.4" y="257.0" font-size="7" textLength="21" lengthAdjust="spacingAndGlyphs" fill="#231f20" >PNH04</text>
<rect x="311.2" y="261.3" width="5.4" height="5.2" fill="#e09a38" />
<text x="318.4" y="266.5" font-size="7" textLength="21" lengthAdjust="spacingAndGlyphs" fill="#231f20" >PNH05</text>
<rect x="311.2" y="270.8" width="5.4" height="5.2" fill="#457561" />
<text x="318.4" y="276.0" font-size="7" textLength="21" lengthAdjust="spacingAndGlyphs" fill="#231f20" >PNH06</text>
<rect x="48.7" y="418.19" width="4.5" height="9.31" fill="#9e2b40" />
<rect x="58.43" y="420.42" width="4.5" height="7.08" fill="#d59b8c" />
<rect x="68.16" y="405.89" width="4.5" height="21.61" fill="#3f5b86" />
<rect x="77.89" y="412.23" width="4.5" height="15.27" fill="#9ca1c6" />
<rect x="87.62" y="420.05" width="4.5" height="7.45" fill="#6aa650" />
<rect x="97.35" y="418.93" width="4.5" height="8.57" fill="#bed3a3" />
<rect x="107.08" y="375.72" width="4.5" height="51.78" fill="#6a4469" />
<rect x="116.81" y="373.86" width="4.5" height="53.64" fill="#e09a38" />
<rect x="126.54" y="377.96" width="4.5" height="49.54" fill="#457561" />
<text x="40.4" y="430.0" font-size="7.2" text-anchor="end" fill="#231f20" >0</text>
<text x="40.4" y="415.1" font-size="7.2" text-anchor="end" fill="#231f20" >4</text>
<text x="40.4" y="400.2" font-size="7.2" text-anchor="end" fill="#231f20" >8</text>
<text x="40.4" y="385.3" font-size="7.2" text-anchor="end" fill="#231f20" >12</text>
<text x="40.4" y="370.4" font-size="7.2" text-anchor="end" fill="#231f20" >16</text>
<text x="16.3" y="395.9" font-size="8.8" text-anchor="middle" fill="#231f20" transform="rotate(-90 16.3 395.9)" textLength="55.2" lengthAdjust="spacingAndGlyphs">No. of B1 cells</text>
<text x="28.6" y="395.3" font-size="8.8" text-anchor="middle" fill="#231f20" transform="rotate(-90 28.6 395.3)" textLength="33.5" lengthAdjust="spacingAndGlyphs">(×10<tspan font-size="5.2" dy="-2.8">6</tspan><tspan dy="2.8">/L)</tspan></text>
<rect x="243.8" y="421.12" width="4.4" height="6.18" fill="#9e2b40" />
<rect x="253.35" y="424.92" width="4.4" height="2.38" fill="#d59b8c" />
<rect x="262.9" y="407.7" width="4.4" height="19.6" fill="#3f5b86" />
<rect x="272.45" y="413.94" width="4.4" height="13.37" fill="#9ca1c6" />
<rect x="282.0" y="416.85" width="4.4" height="10.45" fill="#6aa650" />
<rect x="291.55" y="415.42" width="4.4" height="11.88" fill="#bed3a3" />
<rect x="301.1" y="396.41" width="4.4" height="30.89" fill="#6a4469" />
<rect x="310.65" y="388.1" width="4.4" height="39.2" fill="#e09a38" />
<rect x="320.2" y="380.37" width="4.4" height="46.93" fill="#457561" />
<text x="235.2" y="429.8" font-size="7.2" text-anchor="end" fill="#231f20" >0</text>
<text x="235.2" y="417.92" font-size="7.2" text-anchor="end" fill="#231f20" >0.2</text>
<text x="235.2" y="406.04" font-size="7.2" text-anchor="end" fill="#231f20" >0.4</text>
<text x="235.2" y="394.16" font-size="7.2" text-anchor="end" fill="#231f20" >0.6</text>
<text x="235.2" y="382.28000000000003" font-size="7.2" text-anchor="end" fill="#231f20" >0.8</text>
<text x="235.2" y="370.40000000000003" font-size="7.2" text-anchor="end" fill="#231f20" >1</text>
<text x="208.9" y="396.9" font-size="8.8" text-anchor="middle" fill="#231f20" transform="rotate(-90 208.9 396.9)" textLength="64.3" lengthAdjust="spacingAndGlyphs">No. of FLAER<tspan font-size="5.2" dy="-2.8">−</tspan><tspan dy="2.8"> B1</tspan></text>
<text x="219.8" y="396.2" font-size="8.8" text-anchor="middle" fill="#231f20" transform="rotate(-90 219.8 396.2)" textLength="50" lengthAdjust="spacingAndGlyphs">cells (×10<tspan font-size="5.2" dy="-2.8">6</tspan><tspan dy="2.8">/L)</tspan></text>
<text x="55" y="465.9" font-size="6.2" text-anchor="middle" fill="#4a6c9f" opacity="0.85">C</text>
<text x="60.8" y="465.9" font-size="6.2" text-anchor="middle" fill="#6db34f" opacity="0.85">A</text>
<text x="67.7" y="465.9" font-size="6.2" text-anchor="middle" fill="#c23a52" opacity="0.85">T</text>
<text x="74.6" y="465.9" font-size="6.2" text-anchor="middle" fill="#c23a52" opacity="0.85">T</text>
<text x="80.3" y="465.9" font-size="6.2" text-anchor="middle" fill="#4a6c9f" opacity="0.85">C</text>
<text x="86.5" y="465.9" font-size="6.2" text-anchor="middle" fill="#4a6c9f" opacity="0.85">C</text>
<text x="93" y="465.9" font-size="6.2" text-anchor="middle" fill="#4a6c9f" opacity="0.85">C</text>
<text x="99.2" y="465.9" font-size="6.2" text-anchor="middle" fill="#c23a52" opacity="0.85">T</text>
<text x="106.6" y="465.9" font-size="6.2" text-anchor="middle" fill="#c23a52" opacity="0.85">T</text>
<path d="M51.6 516.7 56.5 516.7 57.2 516.5 57.7 516.1 57.9 515.8 58.4 514.7 58.7 513.9 59.2 511.6 60.9 499.6 61.1 498.6 61.4 498.1 61.6 498.1 61.9 498.6 62.3 500.9 63.6 509.9 64.3 513.8 64.5 514.6 65.0 515.7 65.5 516.3 66.0 516.6 66.7 516.7 68.0 516.7 110.2 516.7" fill="none" stroke="#6db34f" stroke-width="0.8" stroke-linejoin="round"/>
<path d="M51.6 516.6 52.3 516.1 52.8 515.3 53.3 513.9 53.6 512.8 54.0 509.9 55.5 498.2 56.0 496.2 56.2 496.0 56.5 496.4 57.0 498.7 58.2 508.6 58.7 511.9 59.4 514.9 59.7 515.5 60.1 516.2 60.9 516.6 61.9 516.7 76.3 516.7 77.2 516.4 77.7 516.0 78.2 515.0 78.7 513.3 79.4 508.8 80.7 498.4 81.1 495.6 81.4 495.1 81.6 495.1 81.9 495.7 82.1 496.9 83.6 508.6 84.1 511.3 84.3 512.0 84.6 512.3 84.8 512.2 85.1 511.6 85.3 510.6 85.8 507.5 87.0 497.7 87.5 495.6 87.7 495.4 88.0 495.8 88.5 498.2 89.9 509.5 90.4 511.5 90.7 511.8 90.9 511.6 91.2 511.0 91.4 509.9 91.9 506.4 93.1 495.5 93.6 493.2 93.8 493.0 94.1 493.5 94.6 496.1 95.8 507.5 96.3 511.2 96.8 513.8 97.0 514.7 97.5 515.8 97.7 516.1 98.2 516.5 99.2 516.7 110.2 516.7" fill="none" stroke="#4a6c9f" stroke-width="0.8" stroke-linejoin="round"/>
<path d="M51.6 516.7 110.2 516.7" fill="none" stroke="#8b5d98" stroke-width="0.8" stroke-linejoin="round"/>
<path d="M51.6 516.7 62.6 516.7 63.6 516.5 64.1 516.1 64.3 515.8 64.8 514.8 65.0 514.0 65.5 511.5 66.0 508.0 67.2 497.3 67.7 494.7 68.0 494.3 68.2 494.5 68.7 496.7 69.9 507.2 70.6 512.1 71.1 513.6 71.4 513.8 71.6 513.6 71.9 513.0 72.1 511.9 72.6 508.5 74.3 488.4 74.8 485.3 75.0 485.0 75.3 485.6 75.8 489.2 77.0 504.4 77.5 509.4 77.7 511.3 78.2 513.9 78.5 514.7 78.9 515.6 79.2 515.8 79.7 515.7 80.9 514.3 81.4 514.0 81.6 514.0 82.1 514.3 83.6 516.1 84.1 516.4 84.8 516.6 95.3 516.7 96.3 516.5 96.8 516.2 97.3 515.5 97.5 514.9 98.0 513.0 98.2 511.6 98.7 507.9 99.9 496.2 100.4 493.1 100.7 492.4 100.9 492.4 101.2 493.1 101.4 494.4 103.1 509.3 103.6 511.5 103.9 511.9 104.1 511.8 104.3 511.1 104.6 509.9 105.1 505.9 106.5 489.0 106.8 487.2 107.0 486.2 107.3 486.0 107.5 486.7 108.0 490.4 109.5 507.7 110.2 513.1" fill="none" stroke="#c23a52" stroke-width="0.8" stroke-linejoin="round"/>
<rect x="50.8" y="457.7" width="60.2" height="60.80000000000001" fill="none" stroke="#7a7a7a" stroke-width="1.3" />
<path d="M81.2 493.5 L78.3 487.3 L81.2 488.9 L84.10000000000001 487.3 Z" fill="#111"/>
<text x="78.8" y="527.6" font-size="8.2" text-anchor="middle" textLength="31.6" lengthAdjust="spacingAndGlyphs" fill="#231f20" >c.464C&gt;T</text>
<text x="119.8" y="465.9" font-size="6.2" text-anchor="middle" fill="#6db34f" opacity="0.85">A</text>
<text x="125.4" y="465.9" font-size="6.2" text-anchor="middle" fill="#c23a52" opacity="0.85">T</text>
<text x="132.8" y="465.9" font-size="6.2" text-anchor="middle" fill="#c23a52" opacity="0.85">T</text>
<text x="139.2" y="465.9" font-size="6.2" text-anchor="middle" fill="#c23a52" opacity="0.85">T</text>
<text x="146.2" y="465.9" font-size="6.2" text-anchor="middle" fill="#8b5d98" opacity="0.85">G</text>
<text x="152.3" y="465.9" font-size="6.2" text-anchor="middle" fill="#c23a52" opacity="0.85">T</text>
<text x="159" y="465.9" font-size="6.2" text-anchor="middle" fill="#8b5d98" opacity="0.85">G</text>
<text x="165.7" y="465.9" font-size="6.2" text-anchor="middle" fill="#c23a52" opacity="0.85">T</text>
<text x="171.5" y="465.9" font-size="6.2" text-anchor="middle" fill="#8b5d98" opacity="0.85">G</text>
<path d="M117.3 515.8 117.8 514.4 118.3 512.3 119.7 503.3 120.2 501.5 120.5 501.2 120.7 501.4 121.2 502.9 122.7 511.9 123.1 514.2 123.4 515.0 123.9 516.1 124.4 516.7 125.1 517.1 126.5 517.2 140.9 517.2 142.1 517.2 142.8 517.1 143.3 516.8 143.6 516.6 144.1 515.7 144.6 514.4 145.8 509.8 146.0 509.2 146.3 509.0 146.5 509.1 147.0 510.2 148.0 514.1 148.4 515.5 148.7 516.1 149.2 516.7 149.9 517.1 151.4 517.2 175.7 517.2" fill="none" stroke="#6db34f" stroke-width="0.8" stroke-linejoin="round"/>
<path d="M117.3 517.2 175.7 517.2" fill="none" stroke="#4a6c9f" stroke-width="0.8" stroke-linejoin="round"/>
<path d="M117.3 517.2 140.7 517.2 141.6 517.2 142.4 517.0 142.8 516.6 143.3 515.9 144.1 513.6 144.6 511.0 145.8 503.0 146.3 501.0 146.5 500.5 146.7 500.6 147.0 501.1 147.2 502.0 148.9 512.6 149.4 514.7 149.9 516.0 150.2 516.4 150.6 516.9 151.4 517.1 154.0 517.2 154.8 517.1 155.3 516.8 155.7 516.3 156.2 515.1 156.7 512.9 157.0 511.4 157.4 507.3 158.7 494.4 159.2 491.1 159.4 490.4 159.6 490.4 159.9 491.2 160.1 492.7 161.8 509.8 162.3 513.1 162.8 515.2 163.0 515.8 163.5 516.6 164.3 517.1 165.0 517.2 166.7 517.2 167.4 517.1 167.9 516.9 168.4 516.4 168.9 515.3 169.4 513.3 169.6 511.8 170.3 505.1 171.6 490.8 172.1 487.6 172.3 487.2 172.5 487.6 173.0 490.7 174.7 509.8 175.2 513.2 175.7 515.3" fill="none" stroke="#8b5d98" stroke-width="0.8" stroke-linejoin="round"/>
<path d="M117.3 517.2 121.0 517.2 121.9 517.1 122.7 516.8 123.1 516.2 123.6 515.0 124.1 513.1 124.6 510.2 125.8 501.6 126.3 499.6 126.5 499.2 126.8 499.4 127.0 500.0 127.3 501.1 128.7 511.0 129.2 513.3 129.5 514.0 129.7 514.4 130.0 514.4 130.2 514.1 130.7 512.4 130.9 511.0 131.4 507.1 132.6 494.9 133.1 492.0 133.4 491.5 133.6 491.8 134.1 494.2 135.8 510.3 136.3 512.8 136.5 513.5 136.8 513.7 137.0 513.5 137.3 512.9 137.7 510.5 139.2 498.7 139.7 496.2 139.9 495.7 140.2 495.9 140.4 496.6 140.7 497.8 142.1 509.8 142.6 512.9 142.8 514.1 143.3 515.7 143.6 516.2 144.1 516.8 144.6 517.0 145.3 517.2 148.0 517.1 148.7 516.9 149.2 516.5 149.4 516.2 149.9 515.1 150.4 513.2 152.1 503.2 152.6 501.7 152.8 501.5 153.1 501.8 153.6 503.5 155.3 513.5 155.7 515.2 156.2 516.2 156.5 516.6 157.0 516.9 157.7 517.1 160.4 517.2 161.1 517.1 161.6 516.8 162.1 516.3 162.3 515.9 162.8 514.5 163.0 513.4 163.8 508.8 165.0 499.3 165.5 497.2 165.7 497.0 166.0 497.3 166.5 499.6 168.2 512.4 168.6 514.6 169.1 516.0 169.4 516.4 169.9 516.9 170.6 517.1 175.7 517.2" fill="none" stroke="#c23a52" stroke-width="0.8" stroke-linejoin="round"/>
<rect x="116.5" y="457.4" width="60.0" height="61.60000000000002" fill="none" stroke="#7a7a7a" stroke-width="1.3" />
<path d="M147 498.5 L144.1 492.3 L147 493.9 L149.9 492.3 Z" fill="#111"/>
<text x="146.1" y="527.6" font-size="8.2" text-anchor="middle" textLength="33.8" lengthAdjust="spacingAndGlyphs" fill="#231f20" >c.548G&gt;A</text>
<text x="269.2" y="465.9" font-size="6.2" text-anchor="middle" fill="#6db34f" opacity="0.85">A</text>
<text x="275" y="465.9" font-size="6.2" text-anchor="middle" fill="#4a6c9f" opacity="0.85">C</text>
<text x="281.7" y="465.9" font-size="6.2" text-anchor="middle" fill="#6db34f" opacity="0.85">A</text>
<text x="288.5" y="465.9" font-size="6.2" text-anchor="middle" fill="#8b5d98" opacity="0.85">G</text>
<text x="295.8" y="465.9" font-size="6.2" text-anchor="middle" fill="#8b5d98" opacity="0.85">G</text>
<text x="302.3" y="465.9" font-size="6.2" text-anchor="middle" fill="#c23a52" opacity="0.85">T</text>
<text x="309.6" y="465.9" font-size="6.2" text-anchor="middle" fill="#6db34f" opacity="0.85">A</text>
<text x="316.3" y="465.9" font-size="6.2" text-anchor="middle" fill="#c23a52" opacity="0.85">T</text>
<text x="323.5" y="465.9" font-size="6.2" text-anchor="middle" fill="#c23a52" opacity="0.85">T</text>
<path d="M266.6 510.6 267.1 506.5 268.6 491.1 268.8 489.5 269.0 488.7 269.3 488.6 269.5 489.2 270.0 492.6 271.2 505.9 272.0 511.7 272.2 513.0 272.7 514.6 273.2 515.5 273.7 515.9 274.2 516.0 274.9 516.1 277.6 516.0 278.3 515.7 278.8 515.3 279.1 514.8 279.6 513.6 280.0 511.6 281.5 503.1 282.0 501.3 282.2 501.0 282.5 501.1 282.7 501.7 283.0 502.5 284.4 511.0 284.9 513.2 285.2 514.0 285.7 515.1 285.9 515.4 286.4 515.8 286.9 516.0 287.6 516.1 291.5 516.1 292.5 515.9 293.0 515.5 293.5 514.7 294.0 513.2 294.5 510.9 295.4 505.5 295.9 503.8 296.2 503.5 296.4 503.7 296.9 505.2 298.4 513.0 298.9 514.5 299.3 515.4 299.6 515.7 300.1 516.0 301.1 516.1 305.2 516.1 305.9 516.0 306.4 515.7 306.9 515.2 307.2 514.8 307.7 513.3 307.9 512.2 308.6 507.3 309.9 496.7 310.3 494.3 310.6 494.0 310.8 494.3 311.3 496.6 312.5 507.1 313.3 512.1 313.8 514.1 314.0 514.7 314.5 515.5 315.2 516.0 316.2 516.1 327.7 516.1" fill="none" stroke="#6db34f" stroke-width="0.8" stroke-linejoin="round"/>
<path d="M266.6 516.1 270.3 516.1 271.2 516.0 272.0 515.7 272.5 515.1 272.7 514.7 273.2 513.2 273.7 510.8 275.2 500.2 275.6 497.9 275.9 497.4 276.1 497.4 276.4 497.9 276.6 498.9 278.1 509.4 278.8 513.3 279.1 514.1 279.6 515.2 280.0 515.7 280.5 516.0 281.3 516.1 282.5 516.1 327.7 516.1" fill="none" stroke="#4a6c9f" stroke-width="0.8" stroke-linejoin="round"/>
<path d="M266.6 516.1 283.7 516.1 284.7 516.0 285.4 515.8 285.9 515.3 286.2 514.9 286.9 512.7 287.4 510.4 288.6 503.2 289.1 501.4 289.3 501.0 289.6 501.1 289.8 501.6 290.1 502.5 291.8 511.9 292.3 513.4 292.5 513.7 292.8 513.6 293.0 513.3 293.2 512.7 293.7 510.4 294.2 506.7 295.4 495.4 295.9 492.7 296.2 492.3 296.4 492.6 296.9 495.0 298.1 506.3 298.9 511.7 299.1 512.9 299.6 514.6 299.8 515.1 300.3 515.7 301.1 516.0 302.0 516.1 327.7 516.1" fill="none" stroke="#8b5d98" stroke-width="0.8" stroke-linejoin="round"/>
<path d="M266.6 516.1 297.6 516.1 298.9 516.1 299.6 515.9 300.1 515.5 300.3 515.2 300.8 514.3 301.1 513.6 301.8 510.3 303.0 503.1 303.5 501.3 303.7 501.0 304.0 501.1 304.5 502.6 306.2 512.2 306.7 514.0 307.2 515.1 307.4 515.4 307.9 515.8 308.6 516.0 311.3 516.1 312.5 515.9 313.0 515.6 313.5 514.8 314.0 513.4 314.3 512.3 315.0 507.4 316.2 496.6 316.7 494.0 316.9 493.5 317.2 493.7 317.4 494.5 317.7 495.8 319.1 508.5 319.6 511.5 320.1 513.3 320.4 513.7 320.6 513.7 320.9 513.4 321.1 512.8 321.3 511.9 322.1 507.2 323.3 497.1 323.8 495.0 324.0 494.8 324.3 495.2 324.8 497.6 326.0 507.8 326.5 511.2 327.0 513.5 327.2 514.3 327.7 515.3" fill="none" stroke="#c23a52" stroke-width="0.8" stroke-linejoin="round"/>
<rect x="265.8" y="458.3" width="62.69999999999999" height="59.599999999999966" fill="none" stroke="#7a7a7a" stroke-width="1.3" />
<path d="M296.2 490.4 L293.3 484.2 L296.2 485.79999999999995 L299.09999999999997 484.2 Z" fill="#111"/>
<text x="296.2" y="527.6" font-size="8.2" text-anchor="middle" textLength="44.3" lengthAdjust="spacingAndGlyphs" fill="#231f20" >c.848+1G&gt;A</text>
<text x="20.8" y="490.2" font-size="7" textLength="21.6" lengthAdjust="spacingAndGlyphs" fill="#231f20" >PNH01</text>
<text x="235" y="490.4" font-size="7" textLength="22.8" lengthAdjust="spacingAndGlyphs" fill="#231f20" >PNH02</text>
<text x="81.2" y="545.3" font-size="7.1" text-anchor="middle" textLength="23.6" lengthAdjust="spacingAndGlyphs" fill="#231f20" >464C&gt;T</text>
<text x="118" y="545.3" font-size="7.1" text-anchor="middle" textLength="25" lengthAdjust="spacingAndGlyphs" fill="#231f20" >548G&gt;A</text>
<text x="156.2" y="545.3" font-size="7.1" text-anchor="middle" textLength="15" lengthAdjust="spacingAndGlyphs" fill="#231f20" >Total</text>
<text x="189.3" y="545.3" font-size="7.1" text-anchor="middle" textLength="18.5" lengthAdjust="spacingAndGlyphs" fill="#231f20" >FLAER</text>
<text x="202.5" y="542.3" font-size="4.5" text-anchor="middle" fill="#777" >−</text>
<text x="14.2" y="556.8" font-size="7.1" textLength="35.6" lengthAdjust="spacingAndGlyphs" fill="#231f20" >Granulocyte</text>
<text x="83.2" y="556.8" font-size="7.1" text-anchor="middle" textLength="12.85" lengthAdjust="spacingAndGlyphs" fill="#231f20" >6.85</text>
<text x="119.4" y="556.8" font-size="7.1" text-anchor="middle" textLength="16.52" lengthAdjust="spacingAndGlyphs" fill="#231f20" >44.33</text>
<text x="156.1" y="556.8" font-size="7.1" text-anchor="middle" textLength="16.52" lengthAdjust="spacingAndGlyphs" fill="#231f20" >51.17</text>
<text x="191.8" y="556.8" font-size="7.1" text-anchor="middle" textLength="12.85" lengthAdjust="spacingAndGlyphs" fill="#231f20" >97.0</text>
<text x="14.2" y="568.35" font-size="7.1" textLength="28.63" lengthAdjust="spacingAndGlyphs" fill="#231f20" >Monocyte</text>
<text x="83.2" y="568.35" font-size="7.1" text-anchor="middle" textLength="12.85" lengthAdjust="spacingAndGlyphs" fill="#231f20" >6.10</text>
<text x="119.4" y="568.35" font-size="7.1" text-anchor="middle" textLength="16.52" lengthAdjust="spacingAndGlyphs" fill="#231f20" >40.85</text>
<text x="156.1" y="568.35" font-size="7.1" text-anchor="middle" textLength="16.52" lengthAdjust="spacingAndGlyphs" fill="#231f20" >46.95</text>
<text x="191.8" y="568.35" font-size="7.1" text-anchor="middle" textLength="12.85" lengthAdjust="spacingAndGlyphs" fill="#231f20" >97.2</text>
<text x="14.2" y="579.9" font-size="7.1" textLength="19.82" lengthAdjust="spacingAndGlyphs" fill="#231f20" >B1 cell</text>
<text x="83.2" y="579.9" font-size="7.1" text-anchor="middle" textLength="12.85" lengthAdjust="spacingAndGlyphs" fill="#231f20" >0.00</text>
<text x="119.4" y="579.9" font-size="7.1" text-anchor="middle" textLength="12.85" lengthAdjust="spacingAndGlyphs" fill="#231f20" >0.85</text>
<text x="156.1" y="579.9" font-size="7.1" text-anchor="middle" textLength="12.85" lengthAdjust="spacingAndGlyphs" fill="#231f20" >0.85</text>
<text x="191.8" y="579.9" font-size="7.1" text-anchor="middle" textLength="12.85" lengthAdjust="spacingAndGlyphs" fill="#231f20" >4.40</text>
<text x="14.2" y="591.45" font-size="7.1" textLength="34.86" lengthAdjust="spacingAndGlyphs" fill="#231f20" >Naive B cell</text>
<text x="83.2" y="591.45" font-size="7.1" text-anchor="middle" textLength="12.85" lengthAdjust="spacingAndGlyphs" fill="#231f20" >7.27</text>
<text x="119.4" y="591.45" font-size="7.1" text-anchor="middle" textLength="12.85" lengthAdjust="spacingAndGlyphs" fill="#231f20" >1.40</text>
<text x="156.1" y="591.45" font-size="7.1" text-anchor="middle" textLength="12.85" lengthAdjust="spacingAndGlyphs" fill="#231f20" >8.67</text>
<text x="191.8" y="591.45" font-size="7.1" text-anchor="middle" textLength="12.85" lengthAdjust="spacingAndGlyphs" fill="#231f20" >10.2</text>
<text x="14.2" y="603.0" font-size="7.1" textLength="41.82" lengthAdjust="spacingAndGlyphs" fill="#231f20" >Memory B cell</text>
<text x="83.2" y="603.0" font-size="7.1" text-anchor="middle" textLength="12.85" lengthAdjust="spacingAndGlyphs" fill="#231f20" >0.00</text>
<text x="119.4" y="603.0" font-size="7.1" text-anchor="middle" textLength="12.85" lengthAdjust="spacingAndGlyphs" fill="#231f20" >0.13</text>
<text x="156.1" y="603.0" font-size="7.1" text-anchor="middle" textLength="12.85" lengthAdjust="spacingAndGlyphs" fill="#231f20" >0.13</text>
<text x="191.8" y="603.0" font-size="7.1" text-anchor="middle" textLength="12.85" lengthAdjust="spacingAndGlyphs" fill="#231f20" >0.04</text>
<text x="14.2" y="614.55" font-size="7.1" textLength="15.66" lengthAdjust="spacingAndGlyphs" fill="#231f20" >T cell</text>
<text x="83.2" y="614.55" font-size="7.1" text-anchor="middle" textLength="16.52" lengthAdjust="spacingAndGlyphs" fill="#231f20" >17.99</text>
<text x="119.4" y="614.55" font-size="7.1" text-anchor="middle" textLength="12.85" lengthAdjust="spacingAndGlyphs" fill="#231f20" >0.17</text>
<text x="156.1" y="614.55" font-size="7.1" text-anchor="middle" textLength="16.52" lengthAdjust="spacingAndGlyphs" fill="#231f20" >18.16</text>
<text x="191.8" y="614.55" font-size="7.1" text-anchor="middle" textLength="12.85" lengthAdjust="spacingAndGlyphs" fill="#231f20" >38.4</text>
<text x="14.2" y="626.1" font-size="7.1" textLength="20.92" lengthAdjust="spacingAndGlyphs" fill="#231f20" >NK cell</text>
<text x="83.2" y="626.1" font-size="7.1" text-anchor="middle" textLength="12.85" lengthAdjust="spacingAndGlyphs" fill="#231f20" >9.31</text>
<text x="119.4" y="626.1" font-size="7.1" text-anchor="middle" textLength="16.52" lengthAdjust="spacingAndGlyphs" fill="#231f20" >35.24</text>
<text x="156.1" y="626.1" font-size="7.1" text-anchor="middle" textLength="16.52" lengthAdjust="spacingAndGlyphs" fill="#231f20" >44.55</text>
<text x="191.8" y="626.1" font-size="7.1" text-anchor="middle" textLength="12.85" lengthAdjust="spacingAndGlyphs" fill="#231f20" >84.8</text>
<text x="298.5" y="545.3" font-size="7.1" text-anchor="middle" textLength="34" lengthAdjust="spacingAndGlyphs" fill="#231f20" >848+1G&gt;A</text>
<text x="341" y="545.3" font-size="7.1" text-anchor="middle" textLength="18.5" lengthAdjust="spacingAndGlyphs" fill="#231f20" >FLAER</text>
<text x="354" y="542.3" font-size="4.5" text-anchor="middle" fill="#777" >−</text>
<text x="231.2" y="556.6" font-size="7.1" textLength="35.6" lengthAdjust="spacingAndGlyphs" fill="#231f20" >Granulocyte</text>
<text x="298.5" y="556.6" font-size="7.1" text-anchor="middle" textLength="16.52" lengthAdjust="spacingAndGlyphs" fill="#231f20" >46.01</text>
<text x="342.2" y="556.6" font-size="7.1" text-anchor="middle" textLength="16.52" lengthAdjust="spacingAndGlyphs" fill="#231f20" >99.90</text>
<text x="231.2" y="568.2" font-size="7.1" textLength="19.82" lengthAdjust="spacingAndGlyphs" fill="#231f20" >B1 cell</text>
<text x="298.5" y="568.2" font-size="7.1" text-anchor="middle" textLength="12.85" lengthAdjust="spacingAndGlyphs" fill="#231f20" >3.85</text>
<text x="342.2" y="568.2" font-size="7.1" text-anchor="middle" textLength="12.85" lengthAdjust="spacingAndGlyphs" fill="#231f20" >6.00</text>
<text x="231.2" y="579.7" font-size="7.1" textLength="34.86" lengthAdjust="spacingAndGlyphs" fill="#231f20" >Naive B cell</text>
<text x="298.5" y="579.7" font-size="7.1" text-anchor="middle" textLength="12.85" lengthAdjust="spacingAndGlyphs" fill="#231f20" >3.70</text>
<text x="342.2" y="579.7" font-size="7.1" text-anchor="middle" textLength="12.85" lengthAdjust="spacingAndGlyphs" fill="#231f20" >8.62</text>
<text x="231.2" y="591.3" font-size="7.1" textLength="41.82" lengthAdjust="spacingAndGlyphs" fill="#231f20" >Memory B cell</text>
<text x="298.5" y="591.3" font-size="7.1" text-anchor="middle" textLength="12.85" lengthAdjust="spacingAndGlyphs" fill="#231f20" >0.36</text>
<text x="342.2" y="591.3" font-size="7.1" text-anchor="middle" textLength="12.85" lengthAdjust="spacingAndGlyphs" fill="#231f20" >0.39</text>
<text x="231.2" y="602.8" font-size="7.1" textLength="15.66" lengthAdjust="spacingAndGlyphs" fill="#231f20" >T cell</text>
<text x="298.5" y="602.8" font-size="7.1" text-anchor="middle" textLength="12.85" lengthAdjust="spacingAndGlyphs" fill="#231f20" >7.38</text>
<text x="342.2" y="602.8" font-size="7.1" text-anchor="middle" textLength="16.52" lengthAdjust="spacingAndGlyphs" fill="#231f20" >18.70</text>
<text x="231.2" y="614.6" font-size="7.1" textLength="20.92" lengthAdjust="spacingAndGlyphs" fill="#231f20" >NK cell</text>
<text x="298.5" y="614.6" font-size="7.1" text-anchor="middle" textLength="16.52" lengthAdjust="spacingAndGlyphs" fill="#231f20" >13.69</text>
<text x="342.2" y="614.6" font-size="7.1" text-anchor="middle" textLength="16.52" lengthAdjust="spacingAndGlyphs" fill="#231f20" >33.70</text>
<rect x="418.5" y="469.79999999999995" width="6" height="56.1" fill="#9e2b40" />
<rect x="439.9" y="500.655" width="6" height="25.245" fill="#3f5b86" />
<rect x="461.1" y="489.43499999999995" width="6" height="36.465" fill="#6aa650" />
<text x="404.6" y="528.3" font-size="7" text-anchor="end" fill="#231f20" >0</text>
<text x="404.6" y="514.275" font-size="7" text-anchor="end" fill="#231f20" >5</text>
<text x="404.6" y="500.24999999999994" font-size="7" text-anchor="end" fill="#231f20" >10</text>
<text x="404.6" y="486.22499999999997" font-size="7" text-anchor="end" fill="#231f20" >15</text>
<text x="404.6" y="472.19999999999993" font-size="7" text-anchor="end" fill="#231f20" >20</text>
<text x="421.1" y="537.5" font-size="7.4" text-anchor="end" fill="#231f20" transform="rotate(-40 421.1 537.5)" textLength="26" lengthAdjust="spacingAndGlyphs">Both WT</text>
<text x="442.40000000000003" y="537.5" font-size="7.4" text-anchor="end" fill="#231f20" transform="rotate(-40 442.40000000000003 537.5)" textLength="25" lengthAdjust="spacingAndGlyphs">464C&gt;T</text>
<text x="463.8" y="537.5" font-size="7.4" text-anchor="end" fill="#231f20" transform="rotate(-40 463.8 537.5)" textLength="26.5" lengthAdjust="spacingAndGlyphs">548G&gt;A</text>
<text x="484.6" y="537.5" font-size="7.4" text-anchor="end" fill="#231f20" transform="rotate(-40 484.6 537.5)" textLength="30.5" lengthAdjust="spacingAndGlyphs">Both Mut</text>
<text x="391.6" y="496.7" font-size="8.2" text-anchor="middle" fill="#231f20" transform="rotate(-90 391.6 496.7)" textLength="56.7" lengthAdjust="spacingAndGlyphs">No. of colonies</text>
<path d="M31.10 74.80L33.50 74.80M31.10 65.70L33.50 65.70M31.10 56.60L33.50 56.60M31.10 47.50L33.50 47.50M31.10 38.40L33.50 38.40M31.10 29.30L33.50 29.30M33.80 75.20L33.80 77.60M42.90 75.20L42.90 77.60M52 75.20L52 77.60M61.10 75.20L61.10 77.60M70.20 75.20L70.20 77.60M79.30 75.20L79.30 77.60M113.80 74.80L116.20 74.80M113.80 65.70L116.20 65.70M113.80 56.60L116.20 56.60M113.80 47.50L116.20 47.50M113.80 38.40L116.20 38.40M113.80 29.30L116.20 29.30M116.50 75.20L116.50 77.60M125.60 75.20L125.60 77.60M134.70 75.20L134.70 77.60M143.80 75.20L143.80 77.60M152.90 75.20L152.90 77.60M162 75.20L162 77.60M196.60 74.80L199 74.80M196.60 65.70L199 65.70M196.60 56.60L199 56.60M196.60 47.50L199 47.50M196.60 38.40L199 38.40M196.60 29.30L199 29.30M201.60 75.20L201.60 77.60M206 75.20L206 77.60M210 75.20L210 77.60M218 75.20L218 77.60M230.70 75.20L230.70 77.60M242.30 75.20L242.30 77.60M277.80 75.90L280.20 75.90M277.80 70.50L280.20 70.50M277.80 65.20L280.20 65.20M277.80 57L280.20 57M277.80 44.80L280.20 44.80M277.80 32.70L280.20 32.70M282.70 75.20L282.70 77.60M287 75.20L287 77.60M291.30 75.20L291.30 77.60M299 75.20L299 77.60M311.20 75.20L311.20 77.60M323 75.20L323 77.60M358.60 75.40L361 75.40M358.60 70.40L361 70.40M358.60 65.40L361 65.40M358.60 56.20L361 56.20M358.60 44.20L361 44.20M358.60 32L361 32M362 75.20L362 77.60M365.20 75.20L365.20 77.60M368.50 75.20L368.50 77.60M381 75.20L381 77.60M392.50 75.20L392.50 77.60M404 75.20L404 77.60M440.20 95.60L442.60 95.60M440.20 88.50L442.60 88.50M440.20 81.50L442.60 81.50M440.20 69.60L442.60 69.60M440.20 50.40L442.60 50.40M440.20 32.70L442.60 32.70M446 95.80L446 98.20M452.70 95.80L452.70 98.20M459.40 95.80L459.40 98.20M470 95.80L470 98.20M489.20 95.80L489.20 98.20M507.50 95.80L507.50 98.20M31.50 201.40L31.50 204M40.80 201.40L40.80 204M48.50 201.40L48.50 204M63.70 201.40L63.70 204M76.50 201.40L76.50 204M101.90 201.40L101.90 204M111.20 201.40L111.20 204M118.90 201.40L118.90 204M134.10 201.40L134.10 204M146.90 201.40L146.90 204M171.40 201.40L171.40 204M180.70 201.40L180.70 204M188.40 201.40L188.40 204M203.60 201.40L203.60 204M216.40 201.40L216.40 204M241.60 201.40L241.60 204M250.90 201.40L250.90 204M258.60 201.40L258.60 204M273.80 201.40L273.80 204M286.60 201.40L286.60 204M312.30 201.40L312.30 204M321.60 201.40L321.60 204M329.30 201.40L329.30 204M344.50 201.40L344.50 204M357.30 201.40L357.30 204M383.60 201.40L383.60 204M392.90 201.40L392.90 204M400.60 201.40L400.60 204M415.80 201.40L415.80 204M428.60 201.40L428.60 204M454.10 201.30L454.10 203.90M463.40 201.30L463.40 203.90M471.10 201.30L471.10 203.90M486.30 201.30L486.30 203.90M499.10 201.30L499.10 203.90M40.60 322.50L43.60 322.50M40.60 310.34L43.60 310.34M40.60 298.18L43.60 298.18M40.60 286.02L43.60 286.02M40.60 273.86L43.60 273.86M40.60 261.70L43.60 261.70M43.60 427.50L46.60 427.50M43.60 412.60L46.60 412.60M43.60 397.70L46.60 397.70M43.60 382.80L46.60 382.80M43.60 367.90L46.60 367.90M238.20 427.30L241.40 427.30M238.20 415.42L241.40 415.42M238.20 403.54L241.40 403.54M238.20 391.66L241.40 391.66M238.20 379.78L241.40 379.78M238.20 367.90L241.40 367.90M408.40 525.90L410.90 525.90M408.40 511.88L410.90 511.88M408.40 497.85L410.90 497.85M408.40 483.82L410.90 483.82M408.40 469.80L410.90 469.80M421.50 525.90L421.50 528.40M442.70 525.90L442.70 528.40M464 525.90L464 528.40M484.60 525.90L484.60 528.40" stroke="#231f20" stroke-width="1" fill="none"/>
<path d="M32.30 72.98L33.50 72.98M32.30 71.16L33.50 71.16M32.30 69.34L33.50 69.34M32.30 67.52L33.50 67.52M32.30 63.88L33.50 63.88M32.30 62.06L33.50 62.06M32.30 60.24L33.50 60.24M32.30 58.42L33.50 58.42M32.30 54.78L33.50 54.78M32.30 52.96L33.50 52.96M32.30 51.14L33.50 51.14M32.30 49.32L33.50 49.32M32.30 45.68L33.50 45.68M32.30 43.86L33.50 43.86M32.30 42.04L33.50 42.04M32.30 40.22L33.50 40.22M32.30 36.58L33.50 36.58M32.30 34.76L33.50 34.76M32.30 32.94L33.50 32.94M32.30 31.12L33.50 31.12M35.62 75.20L35.62 76.40M37.44 75.20L37.44 76.40M39.26 75.20L39.26 76.40M41.08 75.20L41.08 76.40M44.72 75.20L44.72 76.40M46.54 75.20L46.54 76.40M48.36 75.20L48.36 76.40M50.18 75.20L50.18 76.40M53.82 75.20L53.82 76.40M55.64 75.20L55.64 76.40M57.46 75.20L57.46 76.40M59.28 75.20L59.28 76.40M62.92 75.20L62.92 76.40M64.74 75.20L64.74 76.40M66.56 75.20L66.56 76.40M68.38 75.20L68.38 76.40M72.02 75.20L72.02 76.40M73.84 75.20L73.84 76.40M75.66 75.20L75.66 76.40M77.48 75.20L77.48 76.40M115 72.98L116.20 72.98M115 71.16L116.20 71.16M115 69.34L116.20 69.34M115 67.52L116.20 67.52M115 63.88L116.20 63.88M115 62.06L116.20 62.06M115 60.24L116.20 60.24M115 58.42L116.20 58.42M115 54.78L116.20 54.78M115 52.96L116.20 52.96M115 51.14L116.20 51.14M115 49.32L116.20 49.32M115 45.68L116.20 45.68M115 43.86L116.20 43.86M115 42.04L116.20 42.04M115 40.22L116.20 40.22M115 36.58L116.20 36.58M115 34.76L116.20 34.76M115 32.94L116.20 32.94M115 31.12L116.20 31.12M118.32 75.20L118.32 76.40M120.14 75.20L120.14 76.40M121.96 75.20L121.96 76.40M123.78 75.20L123.78 76.40M127.42 75.20L127.42 76.40M129.24 75.20L129.24 76.40M131.06 75.20L131.06 76.40M132.88 75.20L132.88 76.40M136.52 75.20L136.52 76.40M138.34 75.20L138.34 76.40M140.16 75.20L140.16 76.40M141.98 75.20L141.98 76.40M145.62 75.20L145.62 76.40M147.44 75.20L147.44 76.40M149.26 75.20L149.26 76.40M151.08 75.20L151.08 76.40M154.72 75.20L154.72 76.40M156.54 75.20L156.54 76.40M158.36 75.20L158.36 76.40M160.18 75.20L160.18 76.40M197.80 72.98L199 72.98M197.80 71.16L199 71.16M197.80 69.34L199 69.34M197.80 67.52L199 67.52M197.80 63.88L199 63.88M197.80 62.06L199 62.06M197.80 60.24L199 60.24M197.80 58.42L199 58.42M197.80 54.78L199 54.78M197.80 52.96L199 52.96M197.80 51.14L199 51.14M197.80 49.32L199 49.32M197.80 45.68L199 45.68M197.80 43.86L199 43.86M197.80 42.04L199 42.04M197.80 40.22L199 40.22M197.80 36.58L199 36.58M197.80 34.76L199 34.76M197.80 32.94L199 32.94M197.80 31.12L199 31.12M212.41 75.20L212.41 76.50M213.82 75.20L213.82 76.50M214.82 75.20L214.82 76.50M215.59 75.20L215.59 76.50M216.23 75.20L216.23 76.50M216.76 75.20L216.76 76.50M217.22 75.20L217.22 76.50M217.63 75.20L217.63 76.50M221.82 75.20L221.82 76.50M224.06 75.20L224.06 76.50M225.65 75.20L225.65 76.50M226.88 75.20L226.88 76.50M227.88 75.20L227.88 76.50M228.73 75.20L228.73 76.50M229.47 75.20L229.47 76.50M230.12 75.20L230.12 76.50M234.19 75.20L234.19 76.50M236.23 75.20L236.23 76.50M237.68 75.20L237.68 76.50M238.81 75.20L238.81 76.50M239.73 75.20L239.73 76.50M240.50 75.20L240.50 76.50M241.18 75.20L241.18 76.50M241.77 75.20L241.77 76.50M202.65 75.20L202.65 76.50M203.70 75.20L203.70 76.50M204.75 75.20L204.75 76.50M205.80 75.20L205.80 76.50M206.85 75.20L206.85 76.50M207.90 75.20L207.90 76.50M208.95 75.20L208.95 76.50M278.90 62.73L280.20 62.73M278.90 61.29L280.20 61.29M278.90 60.26L280.20 60.26M278.90 59.47L280.20 59.47M278.90 58.82L280.20 58.82M278.90 58.27L280.20 58.27M278.90 57.79L280.20 57.79M278.90 57.38L280.20 57.38M278.90 53.33L280.20 53.33M278.90 51.18L280.20 51.18M278.90 49.65L280.20 49.65M278.90 48.47L280.20 48.47M278.90 47.51L280.20 47.51M278.90 46.69L280.20 46.69M278.90 45.98L280.20 45.98M278.90 45.36L280.20 45.36M278.90 41.16L280.20 41.16M278.90 39.03L280.20 39.03M278.90 37.52L280.20 37.52M278.90 36.34L280.20 36.34M278.90 35.38L280.20 35.38M278.90 34.57L280.20 34.57M278.90 33.87L280.20 33.87M278.90 33.25L280.20 33.25M278.90 74.56L280.20 74.56M278.90 73.23L280.20 73.23M278.90 71.89L280.20 71.89M278.90 70.55L280.20 70.55M278.90 69.21L280.20 69.21M278.90 67.88L280.20 67.88M278.90 66.54L280.20 66.54M293.62 75.20L293.62 76.50M294.97 75.20L294.97 76.50M295.94 75.20L295.94 76.50M296.68 75.20L296.68 76.50M297.29 75.20L297.29 76.50M297.81 75.20L297.81 76.50M298.25 75.20L298.25 76.50M298.65 75.20L298.65 76.50M302.67 75.20L302.67 76.50M304.82 75.20L304.82 76.50M306.35 75.20L306.35 76.50M307.53 75.20L307.53 76.50M308.49 75.20L308.49 76.50M309.31 75.20L309.31 76.50M310.02 75.20L310.02 76.50M310.64 75.20L310.64 76.50M314.75 75.20L314.75 76.50M316.83 75.20L316.83 76.50M318.30 75.20L318.30 76.50M319.45 75.20L319.45 76.50M320.38 75.20L320.38 76.50M321.17 75.20L321.17 76.50M321.86 75.20L321.86 76.50M322.46 75.20L322.46 76.50M283.77 75.20L283.77 76.50M284.85 75.20L284.85 76.50M285.93 75.20L285.93 76.50M287 75.20L287 76.50M288.07 75.20L288.07 76.50M289.15 75.20L289.15 76.50M290.23 75.20L290.23 76.50M359.70 62.63L361 62.63M359.70 61.01L361 61.01M359.70 59.86L361 59.86M359.70 58.97L361 58.97M359.70 58.24L361 58.24M359.70 57.63L361 57.63M359.70 57.09L361 57.09M359.70 56.62L361 56.62M359.70 52.59L361 52.59M359.70 50.47L361 50.47M359.70 48.98L361 48.98M359.70 47.81L361 47.81M359.70 46.86L361 46.86M359.70 46.06L361 46.06M359.70 45.36L361 45.36M359.70 44.75L361 44.75M359.70 40.53L361 40.53M359.70 38.38L361 38.38M359.70 36.85L361 36.85M359.70 35.67L361 35.67M359.70 34.71L361 34.71M359.70 33.89L361 33.89M359.70 33.18L361 33.18M359.70 32.56L361 32.56M359.70 74.15L361 74.15M359.70 72.90L361 72.90M359.70 71.65L361 71.65M359.70 70.40L361 70.40M359.70 69.15L361 69.15M359.70 67.90L361 67.90M359.70 66.65L361 66.65M372.26 75.20L372.26 76.50M374.46 75.20L374.46 76.50M376.03 75.20L376.03 76.50M377.24 75.20L377.24 76.50M378.23 75.20L378.23 76.50M379.06 75.20L379.06 76.50M379.79 75.20L379.79 76.50M380.43 75.20L380.43 76.50M384.46 75.20L384.46 76.50M386.49 75.20L386.49 76.50M387.92 75.20L387.92 76.50M389.04 75.20L389.04 76.50M389.95 75.20L389.95 76.50M390.72 75.20L390.72 76.50M391.39 75.20L391.39 76.50M391.97 75.20L391.97 76.50M395.96 75.20L395.96 76.50M397.99 75.20L397.99 76.50M399.42 75.20L399.42 76.50M400.54 75.20L400.54 76.50M401.45 75.20L401.45 76.50M402.22 75.20L402.22 76.50M402.89 75.20L402.89 76.50M403.47 75.20L403.47 76.50M362.81 75.20L362.81 76.50M363.62 75.20L363.62 76.50M364.44 75.20L364.44 76.50M365.25 75.20L365.25 76.50M366.06 75.20L366.06 76.50M366.88 75.20L366.88 76.50M367.69 75.20L367.69 76.50M441.30 77.92L442.60 77.92M441.30 75.82L442.60 75.82M441.30 74.34L442.60 74.34M441.30 73.18L442.60 73.18M441.30 72.24L442.60 72.24M441.30 71.44L442.60 71.44M441.30 70.75L442.60 70.75M441.30 70.14L442.60 70.14M441.30 63.82L442.60 63.82M441.30 60.44L442.60 60.44M441.30 58.04L442.60 58.04M441.30 56.18L442.60 56.18M441.30 54.66L442.60 54.66M441.30 53.37L442.60 53.37M441.30 52.26L442.60 52.26M441.30 51.28L442.60 51.28M441.30 45.07L442.60 45.07M441.30 41.95L442.60 41.95M441.30 39.74L442.60 39.74M441.30 38.03L442.60 38.03M441.30 36.63L442.60 36.63M441.30 35.44L442.60 35.44M441.30 34.42L442.60 34.42M441.30 33.51L442.60 33.51M441.30 93.84L442.60 93.84M441.30 92.07L442.60 92.07M441.30 90.31L442.60 90.31M441.30 88.55L442.60 88.55M441.30 86.79L442.60 86.79M441.30 85.03L442.60 85.03M441.30 83.26L442.60 83.26M462.59 95.80L462.59 97.10M464.46 95.80L464.46 97.10M465.78 95.80L465.78 97.10M466.81 95.80L466.81 97.10M467.65 95.80L467.65 97.10M468.36 95.80L468.36 97.10M468.97 95.80L468.97 97.10M469.51 95.80L469.51 97.10M475.78 95.80L475.78 97.10M479.16 95.80L479.16 97.10M481.56 95.80L481.56 97.10M483.42 95.80L483.42 97.10M484.94 95.80L484.94 97.10M486.23 95.80L486.23 97.10M487.34 95.80L487.34 97.10M488.32 95.80L488.32 97.10M494.71 95.80L494.71 97.10M497.93 95.80L497.93 97.10M500.22 95.80L500.22 97.10M501.99 95.80L501.99 97.10M503.44 95.80L503.44 97.10M504.67 95.80L504.67 97.10M505.73 95.80L505.73 97.10M506.66 95.80L506.66 97.10M447.68 95.80L447.68 97.10M449.35 95.80L449.35 97.10M451.02 95.80L451.02 97.10M452.70 95.80L452.70 97.10M454.38 95.80L454.38 97.10M456.05 95.80L456.05 97.10M457.72 95.80L457.72 97.10M27 198.36L28.50 198.36M27 195.52L28.50 195.52M27 192.68L28.50 192.68M27 189.84L28.50 189.84M27 184.16L28.50 184.16M27 181.32L28.50 181.32M27 178.48L28.50 178.48M27 175.64L28.50 175.64M27 169.94L28.50 169.94M27 167.08L28.50 167.08M27 164.22L28.50 164.22M27 161.36L28.50 161.36M53.08 201.40L53.08 202.90M55.75 201.40L55.75 202.90M57.65 201.40L57.65 202.90M59.12 201.40L59.12 202.90M60.33 201.40L60.33 202.90M61.35 201.40L61.35 202.90M62.23 201.40L62.23 202.90M63 201.40L63 202.90M67.55 201.40L67.55 202.90M69.81 201.40L69.81 202.90M71.41 201.40L71.41 202.90M72.65 201.40L72.65 202.90M73.66 201.40L73.66 202.90M74.52 201.40L74.52 202.90M75.26 201.40L75.26 202.90M75.91 201.40L75.91 202.90M33.62 201.40L33.62 202.90M35.75 201.40L35.75 202.90M37.88 201.40L37.88 202.90M40 201.40L40 202.90M42.12 201.40L42.12 202.90M44.25 201.40L44.25 202.90M46.38 201.40L46.38 202.90M97.40 197.88L98.90 197.88M97.40 194.56L98.90 194.56M97.40 191.24L98.90 191.24M97.40 187.92L98.90 187.92M97.40 181.32L98.90 181.32M97.40 178.04L98.90 178.04M97.40 174.76L98.90 174.76M97.40 171.48L98.90 171.48M97.40 164.86L98.90 164.86M97.40 161.52L98.90 161.52M97.40 158.18L98.90 158.18M97.40 154.84L98.90 154.84M123.48 201.40L123.48 202.90M126.15 201.40L126.15 202.90M128.05 201.40L128.05 202.90M129.52 201.40L129.52 202.90M130.73 201.40L130.73 202.90M131.75 201.40L131.75 202.90M132.63 201.40L132.63 202.90M133.40 201.40L133.40 202.90M137.95 201.40L137.95 202.90M140.21 201.40L140.21 202.90M141.81 201.40L141.81 202.90M143.05 201.40L143.05 202.90M144.06 201.40L144.06 202.90M144.92 201.40L144.92 202.90M145.66 201.40L145.66 202.90M146.31 201.40L146.31 202.90M104.03 201.40L104.03 202.90M106.15 201.40L106.15 202.90M108.28 201.40L108.28 202.90M110.40 201.40L110.40 202.90M112.53 201.40L112.53 202.90M114.65 201.40L114.65 202.90M116.78 201.40L116.78 202.90M166.90 198.50L168.40 198.50M166.90 195.80L168.40 195.80M166.90 193.10L168.40 193.10M166.90 190.40L168.40 190.40M166.90 185.02L168.40 185.02M166.90 182.34L168.40 182.34M166.90 179.66L168.40 179.66M166.90 176.98L168.40 176.98M166.90 171.60L168.40 171.60M166.90 168.90L168.40 168.90M166.90 166.20L168.40 166.20M166.90 163.50L168.40 163.50M166.90 158.10L168.40 158.10M166.90 155.40L168.40 155.40M166.90 152.70L168.40 152.70M166.90 150L168.40 150M192.98 201.40L192.98 202.90M195.65 201.40L195.65 202.90M197.55 201.40L197.55 202.90M199.02 201.40L199.02 202.90M200.23 201.40L200.23 202.90M201.25 201.40L201.25 202.90M202.13 201.40L202.13 202.90M202.90 201.40L202.90 202.90M207.45 201.40L207.45 202.90M209.71 201.40L209.71 202.90M211.31 201.40L211.31 202.90M212.55 201.40L212.55 202.90M213.56 201.40L213.56 202.90M214.42 201.40L214.42 202.90M215.16 201.40L215.16 202.90M215.81 201.40L215.81 202.90M173.53 201.40L173.53 202.90M175.65 201.40L175.65 202.90M177.78 201.40L177.78 202.90M179.90 201.40L179.90 202.90M182.03 201.40L182.03 202.90M184.15 201.40L184.15 202.90M186.28 201.40L186.28 202.90M237.10 198.60L238.60 198.60M237.10 196L238.60 196M237.10 193.40L238.60 193.40M237.10 190.80L238.60 190.80M237.10 185.48L238.60 185.48M237.10 182.76L238.60 182.76M237.10 180.04L238.60 180.04M237.10 177.32L238.60 177.32M237.10 171.92L238.60 171.92M237.10 169.24L238.60 169.24M237.10 166.56L238.60 166.56M237.10 163.88L238.60 163.88M237.10 158.50L238.60 158.50M237.10 155.80L238.60 155.80M237.10 153.10L238.60 153.10M237.10 150.40L238.60 150.40M263.18 201.40L263.18 202.90M265.85 201.40L265.85 202.90M267.75 201.40L267.75 202.90M269.22 201.40L269.22 202.90M270.43 201.40L270.43 202.90M271.45 201.40L271.45 202.90M272.33 201.40L272.33 202.90M273.10 201.40L273.10 202.90M277.65 201.40L277.65 202.90M279.91 201.40L279.91 202.90M281.51 201.40L281.51 202.90M282.75 201.40L282.75 202.90M283.76 201.40L283.76 202.90M284.62 201.40L284.62 202.90M285.36 201.40L285.36 202.90M286.01 201.40L286.01 202.90M243.72 201.40L243.72 202.90M245.85 201.40L245.85 202.90M247.97 201.40L247.97 202.90M250.10 201.40L250.10 202.90M252.23 201.40L252.23 202.90M254.35 201.40L254.35 202.90M256.48 201.40L256.48 202.90M307.80 198.60L309.30 198.60M307.80 196L309.30 196M307.80 193.40L309.30 193.40M307.80 190.80L309.30 190.80M307.80 185.48L309.30 185.48M307.80 182.76L309.30 182.76M307.80 180.04L309.30 180.04M307.80 177.32L309.30 177.32M307.80 171.92L309.30 171.92M307.80 169.24L309.30 169.24M307.80 166.56L309.30 166.56M307.80 163.88L309.30 163.88M307.80 158.50L309.30 158.50M307.80 155.80L309.30 155.80M307.80 153.10L309.30 153.10M307.80 150.40L309.30 150.40M333.88 201.40L333.88 202.90M336.55 201.40L336.55 202.90M338.45 201.40L338.45 202.90M339.92 201.40L339.92 202.90M341.13 201.40L341.13 202.90M342.15 201.40L342.15 202.90M343.03 201.40L343.03 202.90M343.80 201.40L343.80 202.90M348.35 201.40L348.35 202.90M350.61 201.40L350.61 202.90M352.21 201.40L352.21 202.90M353.45 201.40L353.45 202.90M354.46 201.40L354.46 202.90M355.32 201.40L355.32 202.90M356.06 201.40L356.06 202.90M356.71 201.40L356.71 202.90M314.43 201.40L314.43 202.90M316.55 201.40L316.55 202.90M318.68 201.40L318.68 202.90M320.80 201.40L320.80 202.90M322.93 201.40L322.93 202.90M325.05 201.40L325.05 202.90M327.18 201.40L327.18 202.90M379.10 199.42L380.60 199.42M379.10 197.64L380.60 197.64M379.10 195.86L380.60 195.86M379.10 194.08L380.60 194.08M379.10 190.44L380.60 190.44M379.10 188.58L380.60 188.58M379.10 186.72L380.60 186.72M379.10 184.86L380.60 184.86M379.10 181.16L380.60 181.16M379.10 179.32L380.60 179.32M379.10 177.48L380.60 177.48M379.10 175.64L380.60 175.64M379.10 171.96L380.60 171.96M379.10 170.12L380.60 170.12M379.10 168.28L380.60 168.28M379.10 166.44L380.60 166.44M379.10 162.76L380.60 162.76M379.10 160.92L380.60 160.92M379.10 159.08L380.60 159.08M379.10 157.24L380.60 157.24M405.18 201.40L405.18 202.90M407.85 201.40L407.85 202.90M409.75 201.40L409.75 202.90M411.22 201.40L411.22 202.90M412.43 201.40L412.43 202.90M413.45 201.40L413.45 202.90M414.33 201.40L414.33 202.90M415.10 201.40L415.10 202.90M419.65 201.40L419.65 202.90M421.91 201.40L421.91 202.90M423.51 201.40L423.51 202.90M424.75 201.40L424.75 202.90M425.76 201.40L425.76 202.90M426.62 201.40L426.62 202.90M427.36 201.40L427.36 202.90M428.01 201.40L428.01 202.90M385.73 201.40L385.73 202.90M387.85 201.40L387.85 202.90M389.98 201.40L389.98 202.90M392.10 201.40L392.10 202.90M394.23 201.40L394.23 202.90M396.35 201.40L396.35 202.90M398.48 201.40L398.48 202.90M449.60 198.92L451.10 198.92M449.60 196.84L451.10 196.84M449.60 194.76L451.10 194.76M449.60 192.68L451.10 192.68M449.60 188.52L451.10 188.52M449.60 186.44L451.10 186.44M449.60 184.36L451.10 184.36M449.60 182.28L451.10 182.28M449.60 178.12L451.10 178.12M449.60 176.04L451.10 176.04M449.60 173.96L451.10 173.96M449.60 171.88L451.10 171.88M449.60 167.72L451.10 167.72M449.60 165.64L451.10 165.64M449.60 163.56L451.10 163.56M449.60 161.48L451.10 161.48M449.60 157.32L451.10 157.32M449.60 155.24L451.10 155.24M449.60 153.16L451.10 153.16M449.60 151.08L451.10 151.08M475.68 201.30L475.68 202.80M478.35 201.30L478.35 202.80M480.25 201.30L480.25 202.80M481.72 201.30L481.72 202.80M482.93 201.30L482.93 202.80M483.95 201.30L483.95 202.80M484.83 201.30L484.83 202.80M485.60 201.30L485.60 202.80M490.15 201.30L490.15 202.80M492.41 201.30L492.41 202.80M494.01 201.30L494.01 202.80M495.25 201.30L495.25 202.80M496.26 201.30L496.26 202.80M497.12 201.30L497.12 202.80M497.86 201.30L497.86 202.80M498.51 201.30L498.51 202.80M456.23 201.30L456.23 202.80M458.35 201.30L458.35 202.80M460.48 201.30L460.48 202.80M462.60 201.30L462.60 202.80M464.73 201.30L464.73 202.80M466.85 201.30L466.85 202.80M468.98 201.30L468.98 202.80" stroke="#231f20" stroke-width="0.7" fill="none"/>
<path d="M76.60 55.40L86.40 55.40M149.60 55.30L169.20 55.30M223.60 55.40L251 55.40M325.50 55.40L332.50 55.40M389.60 55.40L413.30 55.40" stroke="#4b3c82" stroke-width="0.9" fill="none"/>
<path d="M479.20 26.10L479.20 95.80M442.60 64.40L513.10 64.40" stroke="#5a4d96" stroke-width="0.9" fill="none"/>
<path d="M25.20 201.20L28.50 201.20M25.20 187L28.50 187M25.20 172.80L28.50 172.80M25.20 158.50L28.50 158.50M95.60 201.20L98.90 201.20M95.60 184.60L98.90 184.60M95.60 168.20L98.90 168.20M95.60 151.50L98.90 151.50M165.10 201.20L168.40 201.20M165.10 187.70L168.40 187.70M165.10 174.30L168.40 174.30M165.10 160.80L168.40 160.80M165.10 147.30L168.40 147.30M235.30 201.20L238.60 201.20M235.30 188.20L238.60 188.20M235.30 174.60L238.60 174.60M235.30 161.20L238.60 161.20M235.30 147.70L238.60 147.70M306 201.20L309.30 201.20M306 188.20L309.30 188.20M306 174.60L309.30 174.60M306 161.20L309.30 161.20M306 147.70L309.30 147.70M377.30 201.20L380.60 201.20M377.30 192.30L380.60 192.30M377.30 183L380.60 183M377.30 173.80L380.60 173.80M377.30 164.60L380.60 164.60M377.30 155.40L380.60 155.40M447.80 201L451.10 201M447.80 190.60L451.10 190.60M447.80 180.20L451.10 180.20M447.80 169.80L451.10 169.80M447.80 159.40L451.10 159.40M447.80 149L451.10 149M43.60 322.50L453.80 322.50M43.60 258L43.60 323M46.60 427.50L133.80 427.50M46.60 365.60L46.60 428M241.40 427.30L327.70 427.30M241.40 365.80L241.40 427.80M410.90 525.90L495.60 525.90M410.90 467.20L410.90 526.40" stroke="#231f20" stroke-width="1.1" fill="none"/>
<path d="M34.30 185L53.80 185M34.30 183.70L34.30 186.30M53.80 183.70L53.80 186.30M104.30 185L124.30 185M104.30 183.70L104.30 186.30M124.30 183.70L124.30 186.30M178 195.80L197 195.80M178 194.50L178 197.10M197 194.50L197 197.10M247.20 185.40L270.80 185.40M247.20 184.10L247.20 186.70M270.80 184.10L270.80 186.70M316.50 196L338.50 196M316.50 194.70L316.50 197.30M338.50 194.70L338.50 197.30M387.40 195.80L402.80 195.80M387.40 194.50L387.40 197.10M402.80 194.50L402.80 197.10M456.30 195.70L472.90 195.70M456.30 194.40L456.30 197M472.90 194.40L472.90 197M58 220.50L500 220.50" stroke="#231f20" stroke-width="0.8" fill="none"/>
<path d="M81.20 478.50L81.20 490.50M147 483.80L147 495.50M296.20 475L296.20 487.40" stroke="#111" stroke-width="1.1" fill="none"/>
<path d="M13.90 548.40L211.30 548.40M13.90 628.80L211.30 628.80M231 548.60L361.50 548.60M231 618.40L361.50 618.40" stroke="#231f20" stroke-width="0.9" fill="none"/>
<path d="M0 0.5H520M0.5 0V636" stroke="#555" stroke-width="1.2" fill="none"/>
<path d="M0 635.5H520" stroke="#5a5a5a" stroke-width="1.2" fill="none"/>
<path d="M519.5 0V636" stroke="#2a2a2a" stroke-width="1.2" fill="none"/>
</svg></body></html>
